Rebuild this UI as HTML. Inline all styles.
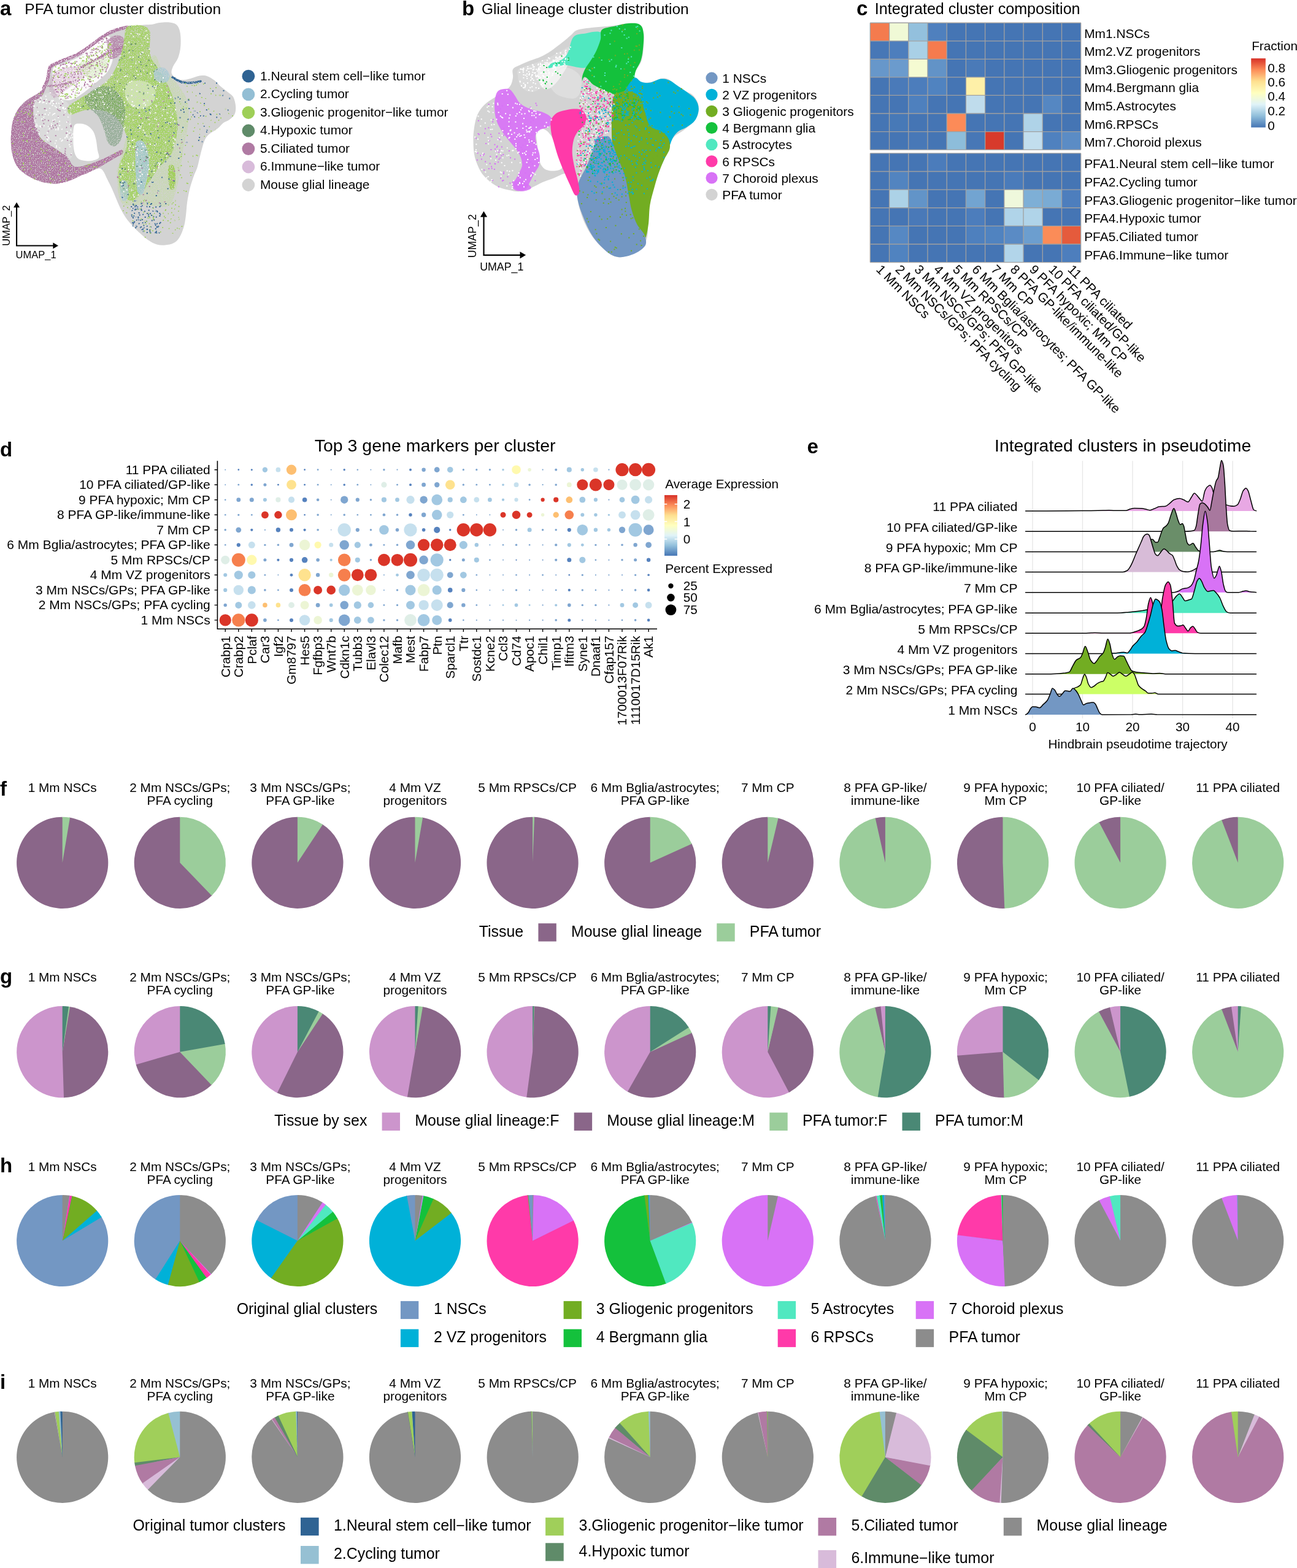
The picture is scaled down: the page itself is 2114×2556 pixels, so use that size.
<!DOCTYPE html>
<html><head><meta charset="utf-8"><title>Figure</title>
<style>
html,body{margin:0;padding:0;background:#fff;}
body{width:2114px;height:2556px;overflow:hidden;}
svg{display:block;}
text{font-family:"Liberation Sans", Arial, Helvetica, sans-serif;fill:#000;}
</style></head><body>
<svg width="2114" height="2556" viewBox="0 0 2114 2556">
<rect width="2114" height="2556" fill="#fff"/>
<text x="0.0" y="24.5" font-size="33" font-weight="bold">a</text>
<text x="40.3" y="23.0" font-size="24.6">PFA tumor cluster distribution</text>
<text x="753.0" y="24.5" font-size="33" font-weight="bold">b</text>
<text x="785.0" y="23.0" font-size="24.4">Glial lineage cluster distribution</text>
<circle cx="404.9" cy="124.2" r="10.4" fill="#2F6393"/>
<text x="424.0" y="130.6" font-size="20.85">1.Neural stem cell−like tumor</text>
<circle cx="404.9" cy="153.9" r="10.4" fill="#93BED4"/>
<text x="424.0" y="160.3" font-size="20.85">2.Cycling tumor</text>
<circle cx="404.9" cy="183.5" r="10.4" fill="#9ECF57"/>
<text x="424.0" y="189.9" font-size="20.85">3.Gliogenic progenitor−like tumor</text>
<circle cx="404.9" cy="213.0" r="10.4" fill="#5F8B69"/>
<text x="424.0" y="219.4" font-size="20.85">4.Hypoxic tumor</text>
<circle cx="404.9" cy="242.6" r="10.4" fill="#B07AA3"/>
<text x="424.0" y="249.0" font-size="20.85">5.Ciliated tumor</text>
<circle cx="404.9" cy="272.0" r="10.4" fill="#D8BBDA"/>
<text x="424.0" y="278.4" font-size="20.85">6.Immune−like tumor</text>
<circle cx="404.9" cy="301.5" r="10.4" fill="#D3D3D3"/>
<text x="424.0" y="307.9" font-size="20.85">Mouse glial lineage</text>
<circle cx="1160" cy="127.2" r="9.6" fill="#7397C3"/>
<text x="1177.3" y="134.9" font-size="20.85">1 NSCs</text>
<circle cx="1160" cy="154.4" r="9.6" fill="#00B1D8"/>
<text x="1177.3" y="162.1" font-size="20.85">2 VZ progenitors</text>
<circle cx="1160" cy="181.3" r="9.6" fill="#72AD22"/>
<text x="1177.3" y="189.0" font-size="20.85">3 Gliogenic progenitors</text>
<circle cx="1160" cy="208.5" r="9.6" fill="#14C13C"/>
<text x="1177.3" y="216.2" font-size="20.85">4 Bergmann glia</text>
<circle cx="1160" cy="235.7" r="9.6" fill="#50E8C0"/>
<text x="1177.3" y="243.4" font-size="20.85">5 Astrocytes</text>
<circle cx="1160" cy="262.9" r="9.6" fill="#FF3AA9"/>
<text x="1177.3" y="270.6" font-size="20.85">6 RPSCs</text>
<circle cx="1160" cy="290.0" r="9.6" fill="#D872F6"/>
<text x="1177.3" y="297.7" font-size="20.85">7 Choroid plexus</text>
<circle cx="1160" cy="317.3" r="9.6" fill="#D3D3D3"/>
<text x="1177.3" y="325.0" font-size="20.85">PFA tumor</text>
<path d="M260.2 36.9C264.8 36.4 271.7 35.9 276.3 36.4C280.9 37.0 285.0 37.6 287.9 40.4C290.7 43.1 292.5 47.1 293.6 53.0C294.7 59.0 294.9 69.1 294.3 76.1C293.7 83.0 292.2 89.1 290.2 94.5C288.1 99.9 283.8 104.1 282.1 108.3C280.4 112.5 278.8 116.5 279.8 119.8C280.8 123.1 284.6 126.1 287.9 127.9C291.1 129.6 295.5 130.2 299.4 130.2C303.2 130.2 306.3 129.0 310.9 127.9C315.5 126.7 322.4 123.8 327.0 123.3C331.6 122.7 334.7 123.1 338.5 124.4C342.4 125.8 346.6 128.6 350.0 131.3C353.5 134.0 355.8 137.5 359.2 140.5C362.7 143.6 367.3 146.9 370.8 149.7C374.2 152.6 377.7 154.0 380.0 157.8C382.2 161.6 383.7 168.0 384.1 172.8C384.5 177.6 384.1 182.8 382.3 186.6C380.4 190.4 376.1 193.5 373.1 195.8C370.0 198.1 366.9 198.1 363.8 200.4C360.8 202.7 358.5 206.5 354.6 209.6C350.8 212.7 344.3 215.8 340.8 218.8C337.4 221.9 335.8 224.2 333.9 228.0C332.0 231.9 330.8 236.5 329.3 241.9C327.8 247.2 326.0 254.9 324.7 260.3C323.4 265.7 322.8 269.5 321.2 274.1C319.7 278.7 317.4 282.5 315.5 287.9C313.6 293.3 311.5 299.4 309.7 306.3C308.0 313.2 306.3 321.7 305.1 329.4C304.0 337.0 303.8 345.5 302.8 352.4C301.9 359.3 301.1 365.1 299.4 370.8C297.6 376.6 295.1 382.7 292.5 386.9C289.8 391.2 287.1 394.0 283.2 396.1C279.4 398.3 274.0 399.2 269.4 399.6C264.8 400.0 260.2 399.8 255.6 398.5C251.0 397.1 246.4 394.6 241.8 391.5C237.2 388.5 232.2 383.9 228.0 380.0C223.8 376.2 220.3 372.7 216.5 368.5C212.6 364.3 208.4 359.7 205.0 354.7C201.5 349.7 198.4 344.0 195.7 338.6C193.1 333.2 191.1 327.8 188.8 322.5C186.5 317.1 184.2 311.3 181.9 306.3C179.6 301.3 177.3 297.1 175.0 292.5C172.7 287.9 170.4 281.7 168.1 278.7C165.8 275.7 164.7 274.5 161.2 274.6C157.7 274.6 152.0 277.6 147.4 279.2C142.8 280.7 138.2 281.9 133.6 283.8C129.0 285.6 124.4 288.2 119.7 290.2C115.1 292.3 110.5 294.4 105.9 296.0C101.3 297.5 97.1 299.0 92.1 299.4C87.1 299.8 81.4 299.2 76.0 298.3C70.6 297.3 65.2 295.8 59.9 293.7C54.5 291.6 48.7 288.9 43.8 285.6C38.8 282.4 33.6 278.7 29.9 274.1C26.3 269.5 23.9 264.1 21.9 258.0C19.9 251.8 18.5 244.5 18.0 237.3C17.4 230.0 17.8 221.5 18.4 214.2C19.1 206.9 20.0 199.6 21.9 193.5C23.8 187.4 26.9 182.0 29.9 177.4C33.0 172.8 36.8 168.9 40.3 165.9C43.8 162.8 47.0 161.3 50.7 159.0C54.3 156.7 58.9 154.4 62.2 152.0C65.4 149.7 67.9 147.8 70.2 145.1C72.5 142.5 74.5 139.0 76.0 135.9C77.5 132.9 78.6 130.6 79.4 126.7C80.3 122.9 80.3 116.4 81.1 112.9C81.8 109.4 81.4 107.8 84.1 106.0C86.7 104.2 91.5 103.4 96.7 101.8C101.9 100.3 109.0 99.0 115.1 96.8C121.3 94.6 127.4 91.8 133.6 88.7C139.7 85.7 146.6 82.0 152.0 78.4C157.4 74.7 162.0 70.7 165.8 66.8C169.6 63.0 171.2 58.6 175.0 55.3C178.9 52.1 184.2 49.2 188.8 47.3C193.4 45.4 197.7 44.7 202.6 43.8C207.6 42.9 213.4 42.6 218.8 42.0C224.1 41.4 229.9 40.7 234.9 40.4C239.9 40.0 244.5 40.2 248.7 39.7C252.9 39.1 255.6 37.4 260.2 36.9Z" fill="#D3D3D3"/>
<path d="M55.3 164.7C57.8 160.7 64.5 157.8 69.1 155.5C73.7 153.2 78.3 150.3 82.9 150.9C87.5 151.5 92.1 156.1 96.7 159.0C101.3 161.8 107.5 164.3 110.5 168.2C113.6 172.0 114.2 176.6 115.1 182.0C116.1 187.4 115.7 195.0 116.3 200.4C116.9 205.8 118.2 206.2 118.6 214.2C119.0 222.3 119.4 241.3 118.6 248.8C117.8 256.3 116.1 258.2 114.0 259.1C111.9 260.1 109.2 256.8 105.9 254.5C102.7 252.2 98.6 248.4 94.4 245.3C90.2 242.2 85.0 239.2 80.6 236.1C76.2 233.0 71.5 230.7 67.9 226.9C64.4 223.1 61.6 218.3 59.4 213.1C57.2 207.9 55.7 201.4 54.8 195.8C53.9 190.2 53.8 184.9 53.9 179.7C54.0 174.5 52.7 168.7 55.3 164.7Z" fill="#FFFFFF" fill-opacity="0.18"/>
<path d="M87.5 109.4C90.1 105.3 94.8 106.7 101.3 104.2C107.8 101.6 119.6 97.6 126.7 94.0C133.8 90.4 138.2 86.6 143.9 82.5C149.7 78.4 156.2 73.4 161.2 69.6C166.2 65.8 170.4 60.3 173.9 59.5C177.3 58.6 180.2 59.5 181.9 64.5C183.6 69.6 184.2 83.3 184.2 89.9C184.2 96.4 183.5 99.1 181.9 103.7C180.4 108.3 177.7 113.7 175.0 117.5C172.3 121.3 169.6 123.3 165.8 126.7C162.0 130.2 156.6 134.4 152.0 138.2C147.4 142.1 142.8 146.3 138.2 149.7C133.6 153.2 129.0 156.7 124.4 159.0C119.7 161.3 115.1 163.6 110.5 163.6C105.9 163.6 100.6 162.0 96.7 159.0C92.9 155.9 89.3 150.1 87.5 145.1C85.7 140.2 85.7 135.0 85.7 129.0C85.7 123.1 84.9 113.6 87.5 109.4Z" fill="#FFFFFF" fill-opacity="0.9"/>
<path d="M120.9 205.0C122.9 200.6 127.6 201.6 131.3 201.6C134.9 201.6 139.3 202.9 142.8 205.0C146.2 207.1 149.7 210.4 152.0 214.2C154.3 218.1 155.4 223.1 156.6 228.0C157.7 233.0 158.1 239.4 158.9 244.2C159.7 249.0 162.3 253.9 161.2 256.8C160.0 259.7 155.8 260.6 152.0 261.4C148.1 262.3 142.4 262.7 138.2 262.1C133.9 261.5 129.5 260.6 126.7 258.0C123.8 255.4 122.1 251.5 120.9 246.5C119.7 241.5 119.3 235.0 119.3 228.0C119.3 221.1 118.9 209.4 120.9 205.0Z" fill="#FFFFFF"/>
<defs><filter id="speck" x="0" y="0" width="2114" height="2556" filterUnits="userSpaceOnUse"><feTurbulence type="fractalNoise" baseFrequency="0.7" numOctaves="1" seed="3" result="n"/><feColorMatrix in="n" type="matrix" values="0 0 0 0 0 0 0 0 0 0 0 0 0 0 0 -14 0 0 0 9.0" result="m"/><feComposite in="SourceGraphic" in2="m" operator="in"/></filter></defs>
<g filter="url(#speck)">
<path d="M82.9 126.7C85.6 120.6 90.6 116.0 96.7 112.9C102.9 109.8 112.8 109.4 119.7 108.3C126.7 107.1 133.2 105.6 138.2 106.0C143.2 106.4 149.7 107.1 149.7 110.6C149.7 114.1 143.2 122.1 138.2 126.7C133.2 131.3 125.5 134.4 119.7 138.2C114.0 142.1 108.6 146.3 103.6 149.7C98.6 153.2 93.6 159.0 89.8 159.0C86.0 159.0 81.8 155.1 80.6 149.7C79.4 144.4 80.2 132.9 82.9 126.7Z" fill="#C9A0C0" fill-opacity="0.45"/>
<path d="M129.0 103.7C131.3 99.5 145.1 99.5 152.0 96.8C158.9 94.1 165.8 88.0 170.4 87.6C175.0 87.2 178.9 90.6 179.6 94.5C180.4 98.3 178.1 106.0 175.0 110.6C171.9 115.2 165.8 119.0 161.2 122.1C156.6 125.2 151.2 129.0 147.4 129.0C143.5 129.0 141.2 126.3 138.2 122.1C135.1 117.9 126.7 107.9 129.0 103.7Z" fill="#C8E0A8" fill-opacity="0.5"/>
<path d="M176.2 64.5C178.9 61.1 186.7 57.6 191.1 57.6C195.5 57.6 201.1 60.3 202.6 64.5C204.2 68.8 202.6 78.0 200.3 83.0C198.0 88.0 192.7 92.6 188.8 94.5C185.0 96.4 179.6 97.2 177.3 94.5C175.0 91.8 175.2 83.3 175.0 78.4C174.8 73.4 173.5 68.0 176.2 64.5Z" fill="#B07AA3" fill-opacity="0.75"/>
<path d="M76.0 138.2C76.2 136.5 72.5 142.8 70.2 145.1C67.9 147.4 65.4 149.7 62.2 152.0C58.9 154.4 54.3 156.7 50.7 159.0C47.0 161.3 43.8 162.8 40.3 165.9C36.8 168.9 33.0 172.8 29.9 177.4C26.9 182.0 23.8 187.4 21.9 193.5C20.0 199.6 19.1 206.9 18.4 214.2C17.8 221.5 17.4 230.0 18.0 237.3C18.5 244.5 19.9 251.8 21.9 258.0C23.9 264.1 26.3 269.5 29.9 274.1C33.6 278.7 38.8 282.4 43.8 285.6C48.7 288.9 54.5 291.6 59.9 293.7C65.2 295.8 70.6 297.3 76.0 298.3C81.4 299.2 87.1 299.6 92.1 299.4C97.1 299.2 101.3 298.4 105.9 297.1C110.5 295.9 115.1 294.0 119.7 292.1C124.4 290.1 129.0 287.6 133.6 285.6C138.2 283.6 142.8 282.0 147.4 279.9C152.0 277.7 156.6 275.4 161.2 272.9C165.8 270.5 170.4 267.6 175.0 264.9C179.6 262.2 184.6 259.3 188.8 256.8C193.1 254.3 198.8 252.0 200.3 249.9C201.9 247.8 200.7 244.0 198.0 244.2C195.4 244.4 188.8 248.8 184.2 251.1C179.6 253.4 175.0 255.9 170.4 258.0C165.8 260.1 161.2 262.0 156.6 263.7C152.0 265.5 147.4 267.0 142.8 268.3C138.2 269.7 132.8 271.4 129.0 271.8C125.1 272.2 122.2 272.2 119.7 270.6C117.3 269.1 115.9 265.3 114.0 262.6C112.1 259.9 111.5 257.4 108.2 254.5C105.0 251.6 99.0 248.4 94.4 245.3C89.8 242.2 84.8 239.0 80.6 236.1C76.4 233.2 72.5 231.7 69.1 228.0C65.7 224.4 62.6 219.6 60.3 214.2C58.0 208.9 56.3 201.9 55.3 195.8C54.3 189.7 54.0 182.6 54.3 177.4C54.7 172.2 55.1 168.4 57.6 164.7C60.0 161.1 66.0 159.9 69.1 155.5C72.2 151.1 75.8 140.0 76.0 138.2Z" fill="#B07AA3"/>
<path d="M71.4 142.8C72.3 140.9 75.6 136.3 77.1 131.3C78.7 126.3 79.4 116.9 80.6 112.9C81.8 108.9 80.6 109.4 84.1 107.1C87.5 104.8 94.2 102.2 101.3 99.1C108.4 96.0 119.6 92.4 126.7 88.7C133.8 85.1 138.2 81.2 143.9 77.2C149.7 73.2 156.0 68.2 161.2 64.5C166.4 60.9 170.0 58.0 175.0 55.3C180.0 52.6 185.8 50.3 191.1 48.4C196.5 46.6 204.6 45.0 207.3 44.3" fill="none" stroke="#B07AA3" stroke-width="5.5" stroke-linecap="round" stroke-linejoin="round"/>
<path d="M132.4 109.4C136.4 107.3 148.9 100.8 156.6 96.8C164.3 92.8 171.2 88.7 178.5 85.3C185.8 81.8 196.7 77.6 200.3 76.1" fill="none" stroke="#B07AA3" stroke-width="3.5" stroke-linecap="round" stroke-linejoin="round"/>
<path d="M78.3 140.5C81.4 140.2 90.6 139.4 96.7 138.2C102.9 137.1 112.1 134.4 115.1 133.6" fill="none" stroke="#B07AA3" stroke-width="3" stroke-linecap="round" stroke-linejoin="round" stroke-opacity="0.8"/>
<path d="M244.1 99.1C255.6 74.5 257.1 106.4 264.8 112.9C272.5 119.4 283.2 129.0 290.2 138.2C297.1 147.4 303.6 157.0 306.3 168.2C309.0 179.3 307.4 193.5 306.3 205.0C305.1 216.5 301.3 226.1 299.4 237.3C297.4 248.4 296.7 260.3 294.8 271.8C292.8 283.3 290.9 296.0 287.9 306.3C284.8 316.7 282.1 329.0 276.3 334.0C270.6 339.0 261.8 336.3 253.3 336.3C244.9 336.3 234.1 334.4 225.7 334.0C217.2 333.6 208.0 336.7 202.6 334.0C197.3 331.3 195.4 326.3 193.4 317.9C191.5 309.4 190.8 292.9 191.1 283.3C191.5 273.7 186.9 291.0 195.7 260.3C204.6 229.6 232.6 123.6 244.1 99.1Z" fill="#BCDC92" fill-opacity="0.4"/>
<path d="M207.3 43.8C211.9 40.4 224.1 40.4 230.3 41.5C236.4 42.7 241.8 45.0 244.1 50.7C246.4 56.5 243.7 68.8 244.1 76.1C244.5 83.3 244.5 89.1 246.4 94.5C248.3 99.9 252.2 102.9 255.6 108.3C259.1 113.7 263.3 119.8 267.1 126.7C271.0 133.6 275.6 142.1 278.6 149.7C281.7 157.4 283.8 165.1 285.5 172.8C287.3 180.5 288.4 188.9 289.0 195.8C289.6 202.7 289.8 207.3 289.0 214.2C288.2 221.1 286.5 230.3 284.4 237.3C282.3 244.2 280.4 249.9 276.3 255.7C272.3 261.4 265.6 265.3 260.2 271.8C254.8 278.3 249.1 287.5 244.1 294.8C239.1 302.1 235.3 310.2 230.3 315.5C225.3 320.9 219.2 326.7 214.2 327.1C209.2 327.4 203.8 323.2 200.3 317.9C196.9 312.5 194.4 302.9 193.4 294.8C192.5 286.8 193.1 276.8 194.6 269.5C196.1 262.2 200.5 257.2 202.6 251.1C204.8 244.9 207.3 239.2 207.3 232.6C207.3 226.1 205.7 218.8 202.6 211.9C199.6 205.0 195.0 196.6 188.8 191.2C182.7 185.8 174.2 181.6 165.8 179.7C157.4 177.8 146.6 178.5 138.2 179.7C129.7 180.8 119.7 187.4 115.1 186.6C110.5 185.8 108.2 179.3 110.5 175.1C112.8 170.9 122.0 165.9 129.0 161.3C135.9 156.7 144.3 152.4 152.0 147.4C159.7 142.5 168.9 137.5 175.0 131.3C181.2 125.2 185.0 118.3 188.8 110.6C192.7 102.9 195.7 93.3 198.0 85.3C200.3 77.2 201.1 69.1 202.6 62.2C204.2 55.3 202.6 47.3 207.3 43.8Z" fill="#A3D262" fill-opacity="0.88"/>
<path d="M205.0 138.2C207.6 133.6 214.5 131.7 221.1 131.3C227.6 130.9 238.7 132.9 244.1 135.9C249.5 139.0 252.5 144.4 253.3 149.7C254.1 155.1 252.5 163.6 248.7 168.2C244.9 172.8 236.0 176.6 230.3 177.4C224.5 178.1 218.4 175.8 214.2 172.8C209.9 169.7 206.5 164.7 205.0 159.0C203.4 153.2 202.3 142.8 205.0 138.2Z" fill="#FFFFFF" fill-opacity="0.4"/>
<path d="M147.4 149.7C152.0 145.9 159.7 141.3 165.8 140.5C171.9 139.8 178.9 142.1 184.2 145.1C189.6 148.2 194.8 153.2 198.0 159.0C201.3 164.7 203.2 172.0 203.8 179.7C204.4 187.4 202.6 197.0 201.5 205.0C200.3 213.1 199.4 222.5 196.9 228.0C194.4 233.6 190.0 237.6 186.5 238.4C183.1 239.2 178.9 236.7 176.2 232.6C173.5 228.6 172.9 221.1 170.4 214.2C167.9 207.3 165.0 197.3 161.2 191.2C157.4 185.1 151.2 182.0 147.4 177.4C143.5 172.8 138.2 168.2 138.2 163.6C138.2 159.0 142.8 153.6 147.4 149.7Z" fill="#6F9672" fill-opacity="0.55"/>
<path d="M222.2 232.6C224.2 227.7 229.5 228.0 232.6 230.3C235.7 232.6 238.9 239.6 240.6 246.5C242.4 253.4 243.3 263.4 242.9 271.8C242.6 280.2 240.1 289.8 238.3 297.1C236.6 304.4 234.9 312.9 232.6 315.5C230.3 318.2 226.4 317.9 224.5 313.2C222.7 308.6 222.2 296.7 221.5 287.9C220.9 279.1 220.5 269.5 220.6 260.3C220.7 251.1 220.2 237.6 222.2 232.6Z" fill="#A6C9D8" fill-opacity="0.85"/>
<path d="M253.3 112.9C256.0 110.6 263.3 109.1 267.1 110.6C271.0 112.1 275.6 118.3 276.3 122.1C277.1 126.0 274.8 131.7 271.7 133.6C268.7 135.5 261.4 135.2 257.9 133.6C254.5 132.1 251.8 127.9 251.0 124.4C250.2 121.0 250.6 115.2 253.3 112.9Z" fill="#A9CAD6" fill-opacity="0.85"/>
<path d="M198.0 294.8C200.0 292.9 205.3 293.7 207.3 297.1C209.2 300.6 209.9 310.6 209.6 315.5C209.2 320.5 206.9 325.5 205.0 327.1C203.0 328.6 199.6 327.8 198.0 324.8C196.5 321.7 195.7 313.6 195.7 308.6C195.7 303.7 196.1 296.7 198.0 294.8Z" fill="#A9CAD6" fill-opacity="0.75"/>
<path d="M275.2 270.6C276.7 267.8 281.4 267.8 283.2 270.6C285.1 273.5 285.8 282.0 286.0 287.9C286.2 293.9 285.8 303.1 284.4 306.3C283.0 309.6 279.2 310.6 277.5 307.5C275.8 304.4 274.4 294.1 274.0 287.9C273.7 281.8 273.7 273.5 275.2 270.6Z" fill="#A0CF5A" fill-opacity="0.95"/>
<path d="M280.9 125.6C282.5 126.5 286.7 129.8 290.2 131.3C293.6 132.9 297.8 134.2 301.7 134.8C305.5 135.4 309.0 135.2 313.2 134.8C317.4 134.4 324.7 132.9 327.0 132.5" fill="none" stroke="#2F6393" stroke-width="3.5" stroke-linecap="round" stroke-linejoin="round"/>
<path d="M228.8 336h2v2h-2zm15.8 -4h2v2h-2zm-5.5 14.9h2v2h-2zm-23.1 7.2h2v2h-2zm-1 -3.8h2v2h-2zm1.5 -17.3h2v2h-2zm17.2 37.3h2v2h-2zm-14.6 -30.6h2v2h-2zm24.4 36.7h2v2h-2zm-2.4 -27.9h2v2h-2zm19.3 -17.8h2v2h-2zm-5.7 12.3h2v2h-2zm-34.6 -8.7h2v2h-2zm8 35.4h2v2h-2zm-6.2 -11.9h2v2h-2zm22.2 -10.6h2v2h-2zm-4.4 -15.7h2v2h-2zm-23.7 7.3h2v2h-2zm30.1 11.2h2v2h-2zm-17.7 8h2v2h-2zm6.7 -14.4h2v2h-2zm16.5 20.2h2v2h-2zm-26.6 -6.3h2v2h-2zm13.6 15.2h2v2h-2zm9.8 -29.7h2v2h-2zm12.2 -8.7h2v2h-2zm-27.2 32.4h2v2h-2zm-12.9 -13.6h2v2h-2zm-5.4 9.1h2v2h-2zm35 -4.8h2v2h-2zm5.4 -13.1h2v2h-2zm-8.7 14.2h2v2h-2zm-5.6 -7h2v2h-2zm12.6 24.7h2v2h-2zm-17.7 -14.2h2v2h-2zm-20 1.9h2v2h-2zm28.4 14.8h2v2h-2zm8.4 -35.9h2v2h-2zm-21.1 19.4h2v2h-2zm-17.5 -10.4h2v2h-2zm7 -17.5h2v2h-2zm-5.3 33h2v2h-2zm3.4 -26.4h2v2h-2zm12.7 31.6h2v2h-2zm-15 -21.4h2v2h-2zm22.6 22h2v2h-2zm13.1 -1h2v2h-2zm-26.2 -22.7h2v2h-2zm3.9 23.8h2v2h-2zm29 -37.2h2v2h-2zm-37.8 4.1h2v2h-2zm2.7 12.8h2v2h-2zm17.3 -11.2h2v2h-2zm-28.3 7.9h2v2h-2zm17.6 7.5h2v2h-2zm28.3 6.2h2v2h-2zm-21.2 -3.6h2v2h-2zm7.8 -28.6h2v2h-2zm10.8 36.8h2v2h-2zm-1.2 0.9h2v2h-2zm-23.4 -20.2h2v2h-2zm-13.9 11.9h2v2h-2zm-2 -28.7h2v2h-2zm7.1 4.8h2v2h-2zm6.3 -5.6h2v2h-2zm-16.4 5h2v2h-2zm4.9 10.8h2v2h-2zm24.8 -10.9h2v2h-2zm-17.5 10.1h2v2h-2zm5.4 -11.4h2v2h-2zm23.4 44.1h2v2h-2zm-18.5 -25.8h2v2h-2zm-18.4 -19.4h2v2h-2zm12.4 8.3h2v2h-2zm23.5 -5.3h2v2h-2zm-14.5 -0.7h2v2h-2zm0.7 -6.1h2v2h-2zm-0.7 48.2h2v2h-2zm16.2 -14.3h2v2h-2zm-29.1 -16.7h2v2h-2zm-4.6 20.6h2v2h-2zm17.7 0.3h2v2h-2zm-9.8 -28.1h2v2h-2zm23.3 38.6h2v2h-2zm2 -9.1h2v2h-2zm-1.7 -3.3h2v2h-2zm-28.6 -11.3h2v2h-2zm6.3 -24.8h2v2h-2zm-15.9 12.7h2v2h-2zm11.2 21h2v2h-2zm33.7 -12.5h2v2h-2zm-0.9 27.4h2v2h-2zm0.8 -31.6h2v2h-2zm-35.5 -6.9h2v2h-2zm-1.1 -1.2h2v2h-2zm20.6 35.3h2v2h-2zm10.5 -21.3h2v2h-2zm-9.1 16.2h2v2h-2zm-27.4 -7.1h2v2h-2zm39.9 6.2h2v2h-2zm-7.8 -15.4h2v2h-2zm-27.6 15.7h2v2h-2zm7.4 0.6h2v2h-2zm31 -20.5h2v2h-2zm-27.6 27.9h2v2h-2zm15.6 -39.3h2v2h-2zm-28.9 -1h2v2h-2zm37.6 33.2h2v2h-2zm-36.7 1h2v2h-2zm40.4 -8.5h2v2h-2z" fill="#2F6393"/>
<path d="M316.1 189.5h2v2h-2zm-21.2 -55.4h2v2h-2zm29.3 88.9h2v2h-2zm38 -68.5h2v2h-2zm-55.6 8.5h2v2h-2zm-1.1 30.4h2v2h-2zm1.8 -17.4h2v2h-2zm-12.4 50.9h2v2h-2zm21.6 -46.8h2v2h-2zm6.4 47.6h2v2h-2zm7.9 -40h2v2h-2zm2.1 -53.1h2v2h-2zm-8.1 17h2v2h-2zm-42.2 63.8h2v2h-2zm16.3 -33.7h2v2h-2zm53.5 8.6h2v2h-2zm-38.6 -4h2v2h-2zm22.2 27.6h2v2h-2zm-43.5 -23.2h2v2h-2zm13.8 -29.4h2v2h-2zm50.6 23.9h2v2h-2zm-20.3 26.2h2v2h-2zm33.9 -32.8h2v2h-2zm-29 6.4h2v2h-2zm-9.7 19.4h2v2h-2zm-5.8 -16.5h2v2h-2zm2.5 42.3h2v2h-2zm44.9 -70.7h2v2h-2zm-9.9 -12.7h2v2h-2zm-69.5 31.6h2v2h-2zm-4.7 -20.8h2v2h-2zm0 44.4h2v2h-2zm7.9 4.8h2v2h-2zm48.9 -59.4h2v2h-2zm-42.6 83.9h2v2h-2zm17.3 -48.2h2v2h-2zm-22.9 -5.8h2v2h-2zm34.2 -9.5h2v2h-2zm-30.9 -2.2h2v2h-2zm50.9 -31h2v2h-2zm-16.3 43.7h2v2h-2zm-51.8 -11.3h2v2h-2zm58.6 18.7h2v2h-2zm-54.1 49h2v2h-2zm3.9 -74.6h2v2h-2z" fill="#2F6393"/>
<path d="M194.7 282.9h2v2h-2zm44.1 31.4h2v2h-2zm45.6 -154.9h2v2h-2zm-77.1 156.7h2v2h-2zm48.5 -51.9h2v2h-2zm13.6 -65.2h2v2h-2zm-70.9 121.7h2v2h-2zm64.7 -32.5h2v2h-2zm-63.4 13h2v2h-2zm-2 1.5h2v2h-2zm44.6 -124.2h2v2h-2zm11.4 139.4h2v2h-2zm-3 -163.3h2v2h-2zm-24.7 15.8h2v2h-2zm51.5 -3.5h2v2h-2zm-29.9 -26.6h2v2h-2zm26.8 88.5h2v2h-2zm-62.6 -18.1h2v2h-2zm72.5 -10.1h2v2h-2zm-37.3 95.4h2v2h-2zm-11.7 -77.7h2v2h-2zm33.9 112.8h2v2h-2zm-39.7 -35.6h2v2h-2zm41.9 -46.6h2v2h-2zm-34.8 -68.4h2v2h-2zm-38.4 93.3h2v2h-2zm1.6 23.8h2v2h-2zm90.5 -40.5h2v2h-2zm-66.5 -50h2v2h-2zm-3.5 119.1h2v2h-2zm-2.1 0.9h2v2h-2zm7.5 -144.4h2v2h-2zm19 34.6h2v2h-2zm-31.5 0.5h2v2h-2zm44.3 5.8h2v2h-2zm19 30.4h2v2h-2zm-4 52.6h2v2h-2zm-37.6 -131.2h2v2h-2zm38.5 75.3h2v2h-2zm-78.3 45.5h2v2h-2zm97.6 -49.3h2v2h-2zm-18.2 43.8h2v2h-2zm-68.4 -68.4h2v2h-2zm42 73.8h2v2h-2zm34.6 -2h2v2h-2zm-25.4 15.8h2v2h-2zm11.4 -47.4h2v2h-2zm-66.6 33.8h2v2h-2zm52.2 -49.3h2v2h-2zm7.8 12.5h2v2h-2z" fill="#2F6393"/>
<path d="M134.2 114.2h2v2h-2zm23.1 -29.5h2v2h-2zm-0.8 -4.9h2v2h-2zm-23.2 18.5h2v2h-2zm-1.4 31.3h2v2h-2zm28.4 -6.9h2v2h-2zm-2.4 -32.5h2v2h-2zm-7 40.3h2v2h-2zm0.4 -41.7h2v2h-2zm-15.7 18h2v2h-2zm37.1 -27.6h2v2h-2zm-67.4 77.7h2v2h-2zm0.1 -37.9h2v2h-2zm-6.8 -6h2v2h-2zm80 -40.7h2v2h-2zm-13.1 39.1h2v2h-2zm-58 40.5h2v2h-2zm8.3 -6h2v2h-2zm51.6 -74.9h2v2h-2zm6.1 17.6h2v2h-2zm-52.1 10.8h2v2h-2zm-1.2 3.6h2v2h-2zm-25.5 42.4h2v2h-2zm18.1 10.5h2v2h-2zm8.7 2.1h2v2h-2zm35.3 -52.6h2v2h-2zm2 20.2h2v2h-2zm17.2 -53.9h2v2h-2zm-44.8 22.5h2v2h-2zm-17.2 41.2h2v2h-2zm66.9 -49.8h2v2h-2zm-31.6 4.2h2v2h-2zm-9.7 9.7h2v2h-2zm-34.4 53.3h2v2h-2zm53.4 -51.4h2v2h-2zm-33.1 11.6h2v2h-2zm54.5 -41.4h2v2h-2zm-45.7 52.4h2v2h-2zm35.4 -43h2v2h-2zm-45.6 23.9h2v2h-2zm46.6 -44.2h2v2h-2zm-82.9 71.6h2v2h-2zm85.1 -24.6h2v2h-2zm-49.6 47.2h2v2h-2zm57.2 -70.6h2v2h-2zm-44.4 45.2h2v2h-2zm12.4 8.6h2v2h-2zm-18.8 -22.2h2v2h-2zm-41.1 24h2v2h-2zm19 14.3h2v2h-2zm40.7 -64.1h2v2h-2zm-0.9 41.1h2v2h-2zm-11 -12.1h2v2h-2zm-22 -12.7h2v2h-2zm57.4 1.5h2v2h-2zm-38 20.8h2v2h-2zm-15.8 -26.4h2v2h-2zm33.9 -23.2h2v2h-2zm28.4 11.8h2v2h-2zm-14.8 -8.4h2v2h-2zm-59 55.1h2v2h-2zm7.2 20h2v2h-2zm-7 -55.7h2v2h-2zm-1 58h2v2h-2zm70.8 -67.2h2v2h-2zm-73.6 63.2h2v2h-2zm47.3 -58h2v2h-2zm28.6 -26.5h2v2h-2zm0.9 8.7h2v2h-2zm-59.9 63.9h2v2h-2zm45.9 -40.5h2v2h-2zm-76.2 4.3h2v2h-2zm31.9 46.4h2v2h-2zm51.7 -92.6h2v2h-2zm-47.9 81.4h2v2h-2zm50.1 -57.8h2v2h-2zm-64.8 47.9h2v2h-2zm-2.8 -25.2h2v2h-2zm19.3 1.9h2v2h-2zm49.1 -32.3h2v2h-2zm-31.6 15.1h2v2h-2zm-40.4 44.2h2v2h-2zm-16.1 -20.8h2v2h-2zm6.2 -5.6h2v2h-2zm60.4 -5.4h2v2h-2zm-46.9 -3.1h2v2h-2zm38.1 26.7h2v2h-2zm21.7 -39.5h2v2h-2zm-27 8.2h2v2h-2zm16.9 -18.1h2v2h-2zm-57.6 71.3h2v2h-2zm41.9 -58.1h2v2h-2zm-10.2 51.3h2v2h-2zm44.8 -46.5h2v2h-2zm-6.3 8h2v2h-2zm-59.7 34.2h2v2h-2zm67.6 -69.9h2v2h-2zm-34.5 53.5h2v2h-2zm-33.6 -2.1h2v2h-2zm39.1 -41.2h2v2h-2zm2.6 -2h2v2h-2zm11.5 37.8h2v2h-2zm-39.4 0.2h2v2h-2zm-22.8 15.2h2v2h-2zm14.2 26.8h2v2h-2zm0.5 -40.3h2v2h-2zm4.4 -15.6h2v2h-2zm36.5 -22.1h2v2h-2zm-30 64.2h2v2h-2zm-1.7 6.5h2v2h-2zm-38.6 -34.5h2v2h-2zm7.3 7.3h2v2h-2zm27.8 -12.2h2v2h-2zm-25.8 -1.5h2v2h-2zm80.5 -10.6h2v2h-2zm-10 -23.7h2v2h-2zm-3.8 6.4h2v2h-2zm-37.6 65h2v2h-2zm41.9 -69.1h2v2h-2zm-30.7 20.9h2v2h-2zm-47 18.6h2v2h-2zm78.6 -46.3h2v2h-2zm-23.5 45h2v2h-2zm2.7 -25.4h2v2h-2zm-20.4 28.8h2v2h-2zm0.5 8h2v2h-2zm2.1 -23h2v2h-2zm-41.7 18.8h2v2h-2zm47.3 -25.1h2v2h-2zm44.1 -25.1h2v2h-2zm-3.4 3h2v2h-2zm-15.8 -0.7h2v2h-2zm13.8 12.1h2v2h-2zm-7.9 -13.7h2v2h-2zm-30.6 18.3h2v2h-2zm-33.9 64.2h2v2h-2zm0.7 -15.7h2v2h-2zm-5.3 -26.5h2v2h-2zm51.4 -17.8h2v2h-2zm23.3 20.4h2v2h-2zm-24 -16.8h2v2h-2zm16.6 -13.5h2v2h-2zm-43.1 52.1h2v2h-2zm45.3 -53.2h2v2h-2zm-23.1 42.7h2v2h-2zm3 -24.1h2v2h-2zm-38.6 15.7h2v2h-2zm39.4 -11.3h2v2h-2zm-48.3 48.1h2v2h-2zm-3.8 -31.1h2v2h-2zm-8.3 0.7h2v2h-2zm54.3 -30.7h2v2h-2zm8.2 9.8h2v2h-2zm-39.1 47.8h2v2h-2zm-20.2 -38.7h2v2h-2zm1.4 25.7h2v2h-2zm-4.5 -23.7h2v2h-2zm91.5 -42.5h2v2h-2zm-73.1 48.5h2v2h-2zm30.3 3.5h2v2h-2zm30.2 -48.6h2v2h-2zm-6.7 30.2h2v2h-2zm-0.3 -1.3h2v2h-2zm-40.1 30.9h2v2h-2zm37.1 -50.3h2v2h-2zm-15.6 17.7h2v2h-2zm23.2 9h2v2h-2zm-51.6 12.4h2v2h-2zm69 -44.2h2v2h-2zm-8.4 -21h2v2h-2zm-13.2 32.4h2v2h-2zm13.2 0.2h2v2h-2zm-63.2 60.2h2v2h-2zm38.6 -22.3h2v2h-2zm-15.9 15.3h2v2h-2zm-3.1 -12h2v2h-2zm13.1 -43.4h2v2h-2zm-35.3 32.8h2v2h-2zm-10.4 31.9h2v2h-2zm57.7 -30.7h2v2h-2z" fill="#9ECF57"/>
<path d="M153.4 135.2h2v2h-2zm-62.3 -15.3h2v2h-2zm29.4 23.7h2v2h-2zm-29.3 5.2h2v2h-2zm55.7 -60.4h2v2h-2zm12.4 -8.6h2v2h-2zm-43.2 22.8h2v2h-2zm-3.6 30.4h2v2h-2zm15.2 5.9h2v2h-2zm-8.9 -7.1h2v2h-2zm50.8 -63.9h2v2h-2zm-4.1 8.3h2v2h-2zm-32.4 65.2h2v2h-2zm-30.2 -31.4h2v2h-2zm16 35.1h2v2h-2zm-8.6 11.6h2v2h-2zm43.3 -46.4h2v2h-2zm-58.1 14.4h2v2h-2zm-2.9 15.8h2v2h-2zm54 -45h2v2h-2zm-22.4 4h2v2h-2zm48.2 -32.1h2v2h-2zm-0.2 -6.3h2v2h-2zm1.3 49.5h2v2h-2zm-51.5 39.9h2v2h-2zm-14.3 -44h2v2h-2zm29.4 30.5h2v2h-2zm21.8 -11.3h2v2h-2zm-58.9 20.5h2v2h-2zm49.9 -10.5h2v2h-2zm-48.5 -31.6h2v2h-2zm59.5 14.7h2v2h-2zm-63.8 -12.2h2v2h-2zm74.8 -23.4h2v2h-2zm-15 20.5h2v2h-2zm-52.9 21.2h2v2h-2zm20 15.9h2v2h-2zm29 -30.2h2v2h-2zm-6 -3.9h2v2h-2zm-48.4 14.6h2v2h-2zm26 14.3h2v2h-2zm49.6 -32.4h2v2h-2zm-33 33.2h2v2h-2zm6.7 -30.7h2v2h-2zm-32.4 18.2h2v2h-2zm31.2 -39.4h2v2h-2zm-20.3 21.4h2v2h-2zm19.5 -4.8h2v2h-2zm-43.2 25.5h2v2h-2zm58.7 -27.7h2v2h-2zm-73 16.1h2v2h-2zm12.1 24.9h2v2h-2zm-5.9 -21.6h2v2h-2zm43.4 14.8h2v2h-2zm-2.9 -8.1h2v2h-2zm31.3 -12.2h2v2h-2zm-61 16.9h2v2h-2zm17.9 8.2h2v2h-2zm-11.6 -37.8h2v2h-2zm14.4 31.1h2v2h-2zm-19.3 4.5h2v2h-2zm-0.6 6.2h2v2h-2zm-8.8 -2.6h2v2h-2zm67.1 -14.8h2v2h-2zm-33.6 -7.5h2v2h-2zm-24 41.8h2v2h-2zm12.6 -33.8h2v2h-2zm47.3 -29.6h2v2h-2zm1.7 -9.1h2v2h-2zm-54.1 22.1h2v2h-2zm12.5 16.4h2v2h-2zm22.7 -28.6h2v2h-2zm-59.3 48.5h2v2h-2zm8.2 0.3h2v2h-2zm50.8 -60.5h2v2h-2zm-41.6 54.8h2v2h-2zm-6.5 11.9h2v2h-2zm43.4 -11.4h2v2h-2zm-40.5 -9.2h2v2h-2zm32.9 5.1h2v2h-2zm-9.1 14.7h2v2h-2zm11.5 -64.4h2v2h-2zm-6.3 24.3h2v2h-2zm-2.3 6.7h2v2h-2zm-9.2 -14.9h2v2h-2zm57.7 -35.8h2v2h-2zm-31.8 58.4h2v2h-2zm-60 -2.8h2v2h-2zm47.5 -13h2v2h-2zm38.1 -46.9h2v2h-2zm-17.7 61.6h2v2h-2zm-37.4 24.6h2v2h-2zm2.8 -40.3h2v2h-2zm15.7 30.8h2v2h-2zm-31.1 -34.9h2v2h-2zm20.9 12.3h2v2h-2zm39.8 -27.1h2v2h-2zm0.1 11.5h2v2h-2zm-52 19h2v2h-2zm33 20.6h2v2h-2zm-58.6 -6.4h2v2h-2zm83.4 -18.5h2v2h-2zm-26.6 8.5h2v2h-2zm7.9 -3.2h2v2h-2zm-1.5 -39.9h2v2h-2zm-1.4 25.5h2v2h-2zm9.4 -37.1h2v2h-2zm-10.5 27.9h2v2h-2zm-9.2 -11.6h2v2h-2zm-25.7 17.1h2v2h-2zm1.7 0.9h2v2h-2zm-26.1 14.2h2v2h-2zm74.5 0.9h2v2h-2zm10.7 -13.5h2v2h-2zm-27 -24.3h2v2h-2zm-63.1 49h2v2h-2zm8.3 19.4h2v2h-2zm62.2 -65.3h2v2h-2zm1.4 -5.7h2v2h-2zm-67.4 61h2v2h-2zm57 -6.7h2v2h-2zm-36.9 26.5h2v2h-2zm-23.6 -32.6h2v2h-2zm79.1 -59.4h2v2h-2zm-49.9 67.6h2v2h-2zm-14.3 13.7h2v2h-2zm19.9 -29.8h2v2h-2zm7 10.6h2v2h-2zm-29 12.6h2v2h-2zm21.6 -15.9h2v2h-2zm26.2 -23.6h2v2h-2zm-24 38.3h2v2h-2zm17.8 -51.4h2v2h-2zm-23.1 32.6h2v2h-2zm26.5 -30.9h2v2h-2zm-17 60.3h2v2h-2zm-5.1 -21.1h2v2h-2zm42.5 -41.8h2v2h-2zm-38 31.5h2v2h-2zm-37.5 25.7h2v2h-2zm52.2 -58.2h2v2h-2zm-1.8 54.5h2v2h-2zm-34.8 -4.9h2v2h-2zm72.1 -53.8h2v2h-2zm-32 46.2h2v2h-2zm-34.7 7.7h2v2h-2zm52.9 -30.4h2v2h-2zm-69.4 36.1h2v2h-2zm67.5 -59.7h2v2h-2zm11.1 30.1h2v2h-2zm-40.3 7h2v2h-2zm-29.1 11.6h2v2h-2zm17.9 -14.2h2v2h-2zm3.9 -4.9h2v2h-2zm-29.2 12h2v2h-2zm67.2 -49.6h2v2h-2zm-18.8 19.7h2v2h-2zm26.5 14.7h2v2h-2zm-29.4 -23.4h2v2h-2zm20.9 17.1h2v2h-2zm12.8 -37.6h2v2h-2zm-30.7 34.6h2v2h-2zm-33.6 17.4h2v2h-2zm40.7 -17.8h2v2h-2zm16.5 -36h2v2h-2zm-15.8 26.2h2v2h-2zm-8.4 47.8h2v2h-2zm12.4 -58.6h2v2h-2zm-49 76.9h2v2h-2zm-8 -50.7h2v2h-2zm-4.2 50.2h2v2h-2zm35 -61.4h2v2h-2zm36.6 14.4h2v2h-2zm-10.8 7.9h2v2h-2zm-56.1 33h2v2h-2zm12 -47.8h2v2h-2zm56.5 -8h2v2h-2zm-66.2 16.3h2v2h-2zm14.8 42.9h2v2h-2zm34.5 -72h2v2h-2zm22.5 -16h2v2h-2zm-16.7 24.5h2v2h-2zm7.9 5h2v2h-2zm2.5 19.3h2v2h-2zm-63.7 -9.5h2v2h-2zm71.6 -22.6h2v2h-2zm-72.2 57.5h2v2h-2zm52.4 -59.7h2v2h-2zm-10.2 31h2v2h-2zm0.4 22.1h2v2h-2zm19.7 -12.9h2v2h-2zm-7.8 -18.2h2v2h-2zm7.7 -7.6h2v2h-2zm9.8 14.7h2v2h-2zm-3.8 -21.9h2v2h-2zm-67.6 58.8h2v2h-2zm18.2 -24.6h2v2h-2zm7.4 -8.3h2v2h-2zm-32 20.8h2v2h-2zm19.7 -0.4h2v2h-2z" fill="#B07AA3"/>
<path d="M77.6 231.2h2v2h-2zm37 -27.7h2v2h-2zm-28.5 3.8h2v2h-2zm-21.4 -46.3h2v2h-2zm33.4 10h2v2h-2zm-7.9 35.5h2v2h-2zm8.2 -45.5h2v2h-2zm10.8 66.5h2v2h-2zm-53.4 -64.3h2v2h-2zm29 40.9h2v2h-2zm-13.8 -41h2v2h-2zm8.1 1.6h2v2h-2zm-16.7 47.2h2v2h-2zm38.8 -44.2h2v2h-2zm5.1 83.7h2v2h-2zm-28.3 -56h2v2h-2zm29.2 11.4h2v2h-2zm-4 -20.3h2v2h-2zm-34.8 -0.3h2v2h-2zm36.5 62.5h2v2h-2zm0.7 -7.1h2v2h-2zm9.3 9.4h2v2h-2zm-45.9 -55.4h2v2h-2zm24.8 -6.3h2v2h-2zm-6.6 -31.9h2v2h-2zm-6.3 47.1h2v2h-2zm-26.7 -39.5h2v2h-2zm61.4 68.9h2v2h-2zm-2.1 -15.5h2v2h-2zm-8.2 27.2h2v2h-2zm-10.9 -66.9h2v2h-2zm2.4 0.8h2v2h-2zm-3.7 -2.5h2v2h-2zm-6.5 19.8h2v2h-2zm-14 23.2h2v2h-2zm-11.9 -5.8h2v2h-2zm54.1 -8.7h2v2h-2zm-44.5 -5.1h2v2h-2zm17.1 -34.4h2v2h-2zm-26.5 -1.9h2v2h-2zm11 29.8h2v2h-2zm-0.4 -17.7h2v2h-2zm-12.9 32.8h2v2h-2zm48.6 6.9h2v2h-2zm-17.4 4.4h2v2h-2zm-7.1 -11.1h2v2h-2zm9.8 -8.5h2v2h-2zm-19.5 -24.6h2v2h-2zm-5.8 29.3h2v2h-2zm10.5 7.9h2v2h-2zm-24 -25.2h2v2h-2zm55 -12.4h2v2h-2zm-19.8 27.4h2v2h-2zm20.4 -5.6h2v2h-2zm-52.4 -5.6h2v2h-2zm24.5 37.6h2v2h-2zm-21.4 -55.2h2v2h-2zm55 55.5h2v2h-2zm-52.1 -43.4h2v2h-2zm12.8 36.6h2v2h-2z" fill="#B07AA3"/>
<path d="M129.5 274.3h1.8v1.8h-1.8zm-21.6 18.2h1.8v1.8h-1.8zm-57.2 -106.2h1.8v1.8h-1.8zm-7.2 43.8h1.8v1.8h-1.8zm51.3 54h1.8v1.8h-1.8zm-13.7 6h1.8v1.8h-1.8zm-46 -92.4h1.8v1.8h-1.8zm86.7 81.5h1.8v1.8h-1.8zm-8 -10.3h1.8v1.8h-1.8zm-65.6 -80.3h1.8v1.8h-1.8zm-2.6 -4.5h1.8v1.8h-1.8zm5.8 -17.4h1.8v1.8h-1.8zm30.1 130.8h1.8v1.8h-1.8zm10.6 -33.2h1.8v1.8h-1.8zm-19.1 -15.6h1.8v1.8h-1.8zm-7.4 -7.1h1.8v1.8h-1.8zm46.8 28.4h1.8v1.8h-1.8zm-64.4 -89.7h1.8v1.8h-1.8zm26.5 101.9h1.8v1.8h-1.8zm32.9 8.2h1.8v1.8h-1.8zm-34 -12h1.8v1.8h-1.8zm32 -13.3h1.8v1.8h-1.8zm-65.9 5.4h1.8v1.8h-1.8zm12.4 -87.5h1.8v1.8h-1.8zm-6.4 68.1h1.8v1.8h-1.8zm-11.5 -70.3h1.8v1.8h-1.8zm63.9 91.3h1.8v1.8h-1.8zm-16.5 -18.3h1.8v1.8h-1.8zm4.4 38h1.8v1.8h-1.8zm-30.8 -1.2h1.8v1.8h-1.8zm11.4 -28.9h1.8v1.8h-1.8zm20.8 -18.4h1.8v1.8h-1.8zm-37.8 31.2h1.8v1.8h-1.8zm26.2 -30.3h1.8v1.8h-1.8zm-38.7 -16.3h1.8v1.8h-1.8zm3.2 25h1.8v1.8h-1.8zm1.1 -71h1.8v1.8h-1.8zm-18.7 65h1.8v1.8h-1.8zm24.1 -77.6h1.8v1.8h-1.8zm-22.4 18.2h1.8v1.8h-1.8zm72.2 60.1h1.8v1.8h-1.8zm72.8 14.9h1.8v1.8h-1.8zm-131.9 2.4h1.8v1.8h-1.8zm18.1 19.8h1.8v1.8h-1.8zm98 -13.8h1.8v1.8h-1.8zm-85.1 -119.1h1.8v1.8h-1.8zm118.4 97h1.8v1.8h-1.8zm-34.9 22.3h1.8v1.8h-1.8zm-124.8 -21.2h1.8v1.8h-1.8zm118.2 17.3h1.8v1.8h-1.8zm-80.5 -41.8h1.8v1.8h-1.8zm-36.8 -30.4h1.8v1.8h-1.8zm43.8 84.9h1.8v1.8h-1.8zm-28.8 -51.8h1.8v1.8h-1.8zm35 40.7h1.8v1.8h-1.8zm-30 -24h1.8v1.8h-1.8zm108.9 26.5h1.8v1.8h-1.8zm-118.9 -87.3h1.8v1.8h-1.8zm-9.8 -1.4h1.8v1.8h-1.8zm24.9 67.8h1.8v1.8h-1.8zm-20.6 2.5h1.8v1.8h-1.8zm4.5 -36.8h1.8v1.8h-1.8zm14 24.1h1.8v1.8h-1.8zm-3.1 23.6h1.8v1.8h-1.8zm36.6 7.6h1.8v1.8h-1.8zm-38.6 -85.8h1.8v1.8h-1.8zm52.1 108.1h1.8v1.8h-1.8zm-29.2 -49.7h1.8v1.8h-1.8zm69.8 26.5h1.8v1.8h-1.8zm-67.3 -41.1h1.8v1.8h-1.8zm8.5 50.6h1.8v1.8h-1.8zm-47.1 -36.2h1.8v1.8h-1.8zm4.9 32.5h1.8v1.8h-1.8zm25.8 -123.7h1.8v1.8h-1.8zm-4.9 77.1h1.8v1.8h-1.8zm-20.7 -9.6h1.8v1.8h-1.8zm59.5 56.4h1.8v1.8h-1.8zm-61.5 -5.3h1.8v1.8h-1.8zm-15.9 -38.1h1.8v1.8h-1.8zm27.9 24.4h1.8v1.8h-1.8zm31.6 2.9h1.8v1.8h-1.8zm61.9 10h1.8v1.8h-1.8zm-101.8 -72.9h1.8v1.8h-1.8zm12.9 11.9h1.8v1.8h-1.8zm-15.1 57h1.8v1.8h-1.8zm13.7 -39.7h1.8v1.8h-1.8zm19.1 21.4h1.8v1.8h-1.8zm72.8 19.5h1.8v1.8h-1.8zm-34.2 10.5h1.8v1.8h-1.8zm-58.3 -8.9h1.8v1.8h-1.8z" fill="#9ECF57"/>
<path d="M332 171h1.8v1.8h-1.8zm-35.9 41.3h1.8v1.8h-1.8zm46.1 -69h1.8v1.8h-1.8zm-37.7 76.7h1.8v1.8h-1.8zm19.6 -1.8h1.8v1.8h-1.8zm-34.3 54.6h1.8v1.8h-1.8zm29.4 -135.1h1.8v1.8h-1.8zm-25.9 30.3h1.8v1.8h-1.8zm56.2 30.7h1.8v1.8h-1.8zm-35.7 54.9h1.8v1.8h-1.8zm-1 16.7h1.8v1.8h-1.8zm9 -69.5h1.8v1.8h-1.8zm-27.1 13.5h1.8v1.8h-1.8zm37.8 7.2h1.8v1.8h-1.8zm-21.4 -32h1.8v1.8h-1.8zm9.5 -24h1.8v1.8h-1.8zm-30.7 177.8h1.8v1.8h-1.8zm50.4 -137.5h1.8v1.8h-1.8zm-35.9 -57h1.8v1.8h-1.8zm11.9 58.5h1.8v1.8h-1.8zm-19.9 -31.4h1.8v1.8h-1.8zm-1.1 74h1.8v1.8h-1.8zm17.1 -111.6h1.8v1.8h-1.8zm-8.4 59.2h1.8v1.8h-1.8zm48.5 -12h1.8v1.8h-1.8zm-27.4 -4.3h1.8v1.8h-1.8zm22.4 -0.9h1.8v1.8h-1.8zm-4.3 -28.4h1.8v1.8h-1.8zm-23.3 13.9h1.8v1.8h-1.8zm-13.7 96.8h1.8v1.8h-1.8zm65.9 -78.6h1.8v1.8h-1.8zm-77.7 48.9h1.8v1.8h-1.8zm-1.1 51.3h1.8v1.8h-1.8zm26 -31.9h1.8v1.8h-1.8zm23.6 -57.4h1.8v1.8h-1.8zm-12 -58.9h1.8v1.8h-1.8zm-12.1 19.3h1.8v1.8h-1.8zm-15.5 11.9h1.8v1.8h-1.8zm54.9 -12.7h1.8v1.8h-1.8zm-14.9 58.2h1.8v1.8h-1.8zm12.5 -17.6h1.8v1.8h-1.8zm-25.8 4.9h1.8v1.8h-1.8zm-28.9 -65.1h1.8v1.8h-1.8zm77 53h1.8v1.8h-1.8zm-20.9 -33.4h1.8v1.8h-1.8zm-65.4 10.7h1.8v1.8h-1.8zm2.9 88.9h1.8v1.8h-1.8zm44.4 -77.4h1.8v1.8h-1.8zm-36.4 -1.1h1.8v1.8h-1.8zm1.1 -35.9h1.8v1.8h-1.8zm55.3 51.7h1.8v1.8h-1.8zm-60.2 118.7h1.8v1.8h-1.8zm-3.8 -21.3h1.8v1.8h-1.8zm-0.5 -19.7h1.8v1.8h-1.8zm14.8 -75.5h1.8v1.8h-1.8zm3.4 44h1.8v1.8h-1.8zm-2.8 -55.7h1.8v1.8h-1.8zm-1.3 88.5h1.8v1.8h-1.8zm5.9 -57.5h1.8v1.8h-1.8zm-10.8 84.9h1.8v1.8h-1.8zm63 -121h1.8v1.8h-1.8zm-50.8 -38.2h1.8v1.8h-1.8zm-25.9 214.6h1.8v1.8h-1.8zm12.7 -42.5h1.8v1.8h-1.8zm-4.8 -137.2h1.8v1.8h-1.8zm52.6 -19h1.8v1.8h-1.8zm0.6 -12.6h1.8v1.8h-1.8zm-16.6 46.8h1.8v1.8h-1.8zm-6.7 -30.6h1.8v1.8h-1.8zm-36.9 214.2h1.8v1.8h-1.8zm9.1 -121.7h1.8v1.8h-1.8zm1.4 -14.3h1.8v1.8h-1.8zm3.8 62.2h1.8v1.8h-1.8zm-2.8 12.7h1.8v1.8h-1.8zm31.7 -151.3h1.8v1.8h-1.8zm-13.2 92.8h1.8v1.8h-1.8zm-7.2 -77.1h1.8v1.8h-1.8zm-0.8 -26.2h1.8v1.8h-1.8zm-19.9 106.3h1.8v1.8h-1.8zm28.7 -120.4h1.8v1.8h-1.8zm3.3 74.4h1.8v1.8h-1.8zm-1.1 16.2h1.8v1.8h-1.8zm2.1 -58.6h1.8v1.8h-1.8zm-14 113.1h1.8v1.8h-1.8zm11 -89.5h1.8v1.8h-1.8zm-16 -30.1h1.8v1.8h-1.8zm-17.8 152.4h1.8v1.8h-1.8zm21 -28.3h1.8v1.8h-1.8zm39.8 -74.3h1.8v1.8h-1.8zm-40.8 70.2h1.8v1.8h-1.8z" fill="#9ECF57"/>
<path d="M243.9 368.7h1.8v1.8h-1.8zm5 -15.2h1.8v1.8h-1.8zm-31.1 -20.8h1.8v1.8h-1.8zm73.1 24h1.8v1.8h-1.8zm-41.8 0h1.8v1.8h-1.8zm30 -18h1.8v1.8h-1.8zm-36.6 25h1.8v1.8h-1.8zm38.1 15.7h1.8v1.8h-1.8zm4.2 -52.8h1.8v1.8h-1.8zm-50.5 49h1.8v1.8h-1.8zm45.3 -44.1h1.8v1.8h-1.8zm-68.8 8h1.8v1.8h-1.8zm-5.3 6.5h1.8v1.8h-1.8zm72.6 10.3h1.8v1.8h-1.8zm-36.3 -27h1.8v1.8h-1.8zm-6 56.5h1.8v1.8h-1.8zm31.1 -34h1.8v1.8h-1.8zm-22.5 21.7h1.8v1.8h-1.8zm29.1 -40.3h1.8v1.8h-1.8zm-8.2 13.5h1.8v1.8h-1.8zm-16.5 -8.1h1.8v1.8h-1.8zm-15.5 6.4h1.8v1.8h-1.8zm1 -20h1.8v1.8h-1.8zm-18.6 34.3h1.8v1.8h-1.8zm-14.9 -24.3h1.8v1.8h-1.8zm68.5 5.9h1.8v1.8h-1.8zm-40.9 -2h1.8v1.8h-1.8zm52.9 -9.4h1.8v1.8h-1.8zm-20.5 47.8h1.8v1.8h-1.8zm-45.1 -27.1h1.8v1.8h-1.8zm61.2 12.1h1.8v1.8h-1.8zm-43.6 -35.7h1.8v1.8h-1.8zm7.4 20.1h1.8v1.8h-1.8zm28 -4.5h1.8v1.8h-1.8zm-31.6 22h1.8v1.8h-1.8zm41.8 -18.4h1.8v1.8h-1.8zm-44.1 14h1.8v1.8h-1.8zm55.9 -24h1.8v1.8h-1.8zm4.8 32.3h1.8v1.8h-1.8zm-62.1 -2.9h1.8v1.8h-1.8zm-4.4 -36.9h1.8v1.8h-1.8zm44.2 19.2h1.8v1.8h-1.8zm-23.9 7.2h1.8v1.8h-1.8zm38.9 16.2h1.8v1.8h-1.8zm-45.4 -18.3h1.8v1.8h-1.8zm39 -2.9h1.8v1.8h-1.8zm-37.9 29.5h1.8v1.8h-1.8zm-3.5 -24.8h1.8v1.8h-1.8zm7.5 20.7h1.8v1.8h-1.8zm16.4 -5.2h1.8v1.8h-1.8zm-27.8 -43.5h1.8v1.8h-1.8zm28.8 31.9h1.8v1.8h-1.8zm9.3 13.4h1.8v1.8h-1.8zm-67.5 -34.1h1.8v1.8h-1.8zm-1.7 -8.3h1.8v1.8h-1.8zm67.5 29.7h1.8v1.8h-1.8zm-4.4 -5.1h1.8v1.8h-1.8zm-30.4 6.3h1.8v1.8h-1.8zm47.1 -27.3h1.8v1.8h-1.8zm-55.7 23.2h1.8v1.8h-1.8zm-6.2 -15.9h1.8v1.8h-1.8zm4 -0.5h1.8v1.8h-1.8zm56.5 18.7h1.8v1.8h-1.8zm-36 -8.4h1.8v1.8h-1.8zm-47.7 -7.2h1.8v1.8h-1.8zm84.6 30.9h1.8v1.8h-1.8zm-1.1 -33.9h1.8v1.8h-1.8zm-67.8 -12.7h1.8v1.8h-1.8zm34.7 20h1.8v1.8h-1.8zm-7.6 7.2h1.8v1.8h-1.8z" fill="#9ECF57"/>
<path d="M213.7 144.9h2v2h-2zm59.9 54.4h2v2h-2zm-68.9 -42h2v2h-2zm5.7 -24.4h2v2h-2zm42.3 76.7h2v2h-2zm-29.1 -155.1h2v2h-2zm-7.6 37.5h2v2h-2zm58.2 108.7h2v2h-2zm-21.8 -17.9h2v2h-2zm-22.6 50.4h2v2h-2zm2.1 -148.5h2v2h-2zm-18.5 46.8h2v2h-2zm-3.8 -47h2v2h-2zm-83.4 88.6h2v2h-2zm113.3 -9.8h2v2h-2zm-8.8 -90.1h2v2h-2zm46.5 117.6h2v2h-2zm-115.8 -50.9h2v2h-2zm82.1 42.4h2v2h-2zm-47.5 104.9h2v2h-2zm20.2 -92.3h2v2h-2zm0.2 121.8h2v2h-2zm10.3 -261.9h2v2h-2zm-57.7 114.1h2v2h-2zm40.3 -101.1h2v2h-2zm-1.3 197.7h2v2h-2zm7.8 -93.2h2v2h-2zm-43.3 -24.8h2v2h-2zm55.4 -60.2h2v2h-2zm37.5 90.3h2v2h-2zm-67.3 16h2v2h-2zm-67.6 -19.5h2v2h-2zm69.5 -28.8h2v2h-2zm-55.2 10.5h2v2h-2zm54.3 139h2v2h-2zm-2.4 -28.4h2v2h-2zm14.6 -29.2h2v2h-2zm-9.3 -113.3h2v2h-2zm10.8 -16.6h2v2h-2zm3 157.1h2v2h-2zm20.6 -206.1h2v2h-2zm-16.5 179.8h2v2h-2zm35 -99.9h2v2h-2zm-0.7 34.2h2v2h-2zm23.2 -14.2h2v2h-2zm-46.7 -74.5h2v2h-2zm-35.5 98.8h2v2h-2zm48.4 39.7h2v2h-2zm16.9 42.9h2v2h-2zm21.4 -32.5h2v2h-2zm-39.3 -153.6h2v2h-2zm28.4 174.2h2v2h-2zm-12.9 16.4h2v2h-2zm-43.2 -104.8h2v2h-2zm41.9 99.7h2v2h-2zm8.2 -138.6h2v2h-2zm16 66.4h2v2h-2zm-89.7 -84.2h2v2h-2zm6.2 191.7h2v2h-2zm34.3 -56.4h2v2h-2zm19.4 -7.9h2v2h-2zm-25.2 43.8h2v2h-2zm32.8 -12.4h2v2h-2zm-4.3 -106.8h2v2h-2zm-37 11h2v2h-2zm2.6 -47.2h2v2h-2zm14.6 42.8h2v2h-2zm-7.2 104.3h2v2h-2zm-9.1 24.8h2v2h-2zm-38.5 -112.6h2v2h-2zm100.2 2h2v2h-2zm-16.7 2h2v2h-2zm5.7 43.6h2v2h-2zm-46.8 -83h2v2h-2zm49.1 35h2v2h-2zm-39.9 16.9h2v2h-2zm37.1 48.9h2v2h-2zm-56.1 -194.8h2v2h-2zm11.5 66.9h2v2h-2zm21.6 3h2v2h-2zm-38.9 36.9h2v2h-2zm77.4 65.2h2v2h-2zm-30.9 7.9h2v2h-2zm-17 4.1h2v2h-2zm-24 38.5h2v2h-2zm39 -136.6h2v2h-2zm-9.9 -50.4h2v2h-2zm-78.6 60.6h2v2h-2zm4.1 15.8h2v2h-2zm13 -15.1h2v2h-2zm43.4 112.3h2v2h-2zm21.4 -88.1h2v2h-2zm-35.3 57.2h2v2h-2zm34.6 -112.8h2v2h-2zm-39.9 3.7h2v2h-2zm18 -8.2h2v2h-2zm35.1 87.6h2v2h-2zm-13 31.8h2v2h-2zm-19.5 82.6h2v2h-2zm-1.9 -78.6h2v2h-2zm25.1 -84.9h2v2h-2zm-77.3 -0.6h2v2h-2zm82.8 -12.2h2v2h-2zm-48.9 48.9h2v2h-2zm24.6 108.6h2v2h-2zm-29.8 -14.1h2v2h-2zm29.5 -78.3h2v2h-2zm21.6 74.4h2v2h-2zm-6.2 -96.4h2v2h-2zm-2 91.4h2v2h-2zm-16.8 16.5h2v2h-2zm9.8 -76h2v2h-2zm-17.9 60.5h2v2h-2zm35.5 -132.7h2v2h-2zm-18.3 -82.1h2v2h-2zm24.8 72.3h2v2h-2zm-139.1 34.4h2v2h-2zm88.5 103.3h2v2h-2zm13.3 -133.5h2v2h-2zm32 56.3h2v2h-2zm-139.3 -9.3h2v2h-2zm107.4 62.8h2v2h-2zm-8.1 -92.6h2v2h-2zm-13 53.8h2v2h-2zm35.1 -38.3h2v2h-2zm-54.6 -49.1h2v2h-2zm20.3 44.6h2v2h-2zm7.8 74.9h2v2h-2zm29 5.3h2v2h-2zm-0.1 -25.5h2v2h-2zm14.7 -50h2v2h-2zm-58.6 104.7h2v2h-2zm15.6 -89.6h2v2h-2zm30.1 -35.4h2v2h-2zm17.5 114.8h2v2h-2zm10.5 -72h2v2h-2zm-47.2 100.3h2v2h-2zm50.2 -143.5h2v2h-2zm-48.1 92.6h2v2h-2zm15.7 -186.5h2v2h-2zm-45.3 98.9h2v2h-2zm36.1 89.5h2v2h-2zm3.4 -69.1h2v2h-2zm-16.5 -116.8h2v2h-2zm-66.1 94.1h2v2h-2zm99.8 123.3h2v2h-2zm-27.5 -23.5h2v2h-2zm52.9 -29.4h2v2h-2zm-66.9 52.2h2v2h-2zm6.9 -6.3h2v2h-2zm-8.7 -145.2h2v2h-2zm50.7 148.7h2v2h-2zm-32 -172.6h2v2h-2zm58.2 96.8h2v2h-2zm-44 86.7h2v2h-2zm-22 36.7h2v2h-2zm15.3 -108.4h2v2h-2zm-30.7 -40.9h2v2h-2zm22.9 131.6h2v2h-2zm15 -34.2h2v2h-2zm-2.9 -218.7h2v2h-2zm-6.4 233.9h2v2h-2zm-59.3 -150h2v2h-2zm-45.3 33.8h2v2h-2zm158.2 60.3h2v2h-2zm-40.7 -108.5h2v2h-2zm-89.8 39.5h2v2h-2zm97.2 34.1h2v2h-2zm-45.7 115.9h2v2h-2zm-64.6 -142.7h2v2h-2zm91.1 72.1h2v2h-2zm10.6 17.9h2v2h-2zm38.9 -31.4h2v2h-2zm-66.6 3.7h2v2h-2zm1.2 11h2v2h-2zm66.4 -2.1h2v2h-2zm-119 -79.5h2v2h-2zm69 10.3h2v2h-2zm6.9 -100h2v2h-2zm-10.3 52.2h2v2h-2zm-2 88.3h2v2h-2zm0.3 -116h2v2h-2zm-1.6 111.1h2v2h-2zm-71.5 -58.1h2v2h-2zm48.5 -72.8h2v2h-2zm-42.5 76.9h2v2h-2zm85.6 -44.7h2v2h-2zm-67.9 40.3h2v2h-2zm45.9 30.4h2v2h-2zm4 104.2h2v2h-2zm-32.9 -189.3h2v2h-2zm-44.4 76.1h2v2h-2zm23.3 8.3h2v2h-2zm102.7 24.4h2v2h-2zm-34.3 2.3h2v2h-2zm35.6 -10.8h2v2h-2zm-3.5 -18.3h2v2h-2zm-34.4 -110.3h2v2h-2zm-49.7 69.5h2v2h-2zm94.8 46.7h2v2h-2zm-59.1 9.5h2v2h-2zm-112.2 -12.7h2v2h-2zm127.8 19.1h2v2h-2zm-24.2 32.5h2v2h-2zm45 -80.9h2v2h-2zm-48.9 163.3h2v2h-2zm-62.5 -132.1h2v2h-2zm49.7 134.6h2v2h-2zm19.6 -209h2v2h-2zm-53.4 54.4h2v2h-2zm-11.4 13.5h2v2h-2zm54.2 73.5h2v2h-2zm-7.1 -37.2h2v2h-2zm11.3 -36.8h2v2h-2zm13.6 116.4h2v2h-2zm50.1 -129.2h2v2h-2zm-51.6 30h2v2h-2zm0.9 21h2v2h-2zm-15.7 -115.6h2v2h-2zm21.8 21.2h2v2h-2z" fill="#FFFFFF"/>
<path d="M220.9 175.2h2v2h-2zm8.6 93.6h2v2h-2zm-118.2 -92.6h2v2h-2zm119.2 66.8h2v2h-2zm-5.4 -151h2v2h-2zm-74 71.5h2v2h-2zm89.7 -20.3h2v2h-2zm-12.9 116.3h2v2h-2zm-45.9 -98.8h2v2h-2zm95.7 44.6h2v2h-2zm-47.5 -118.8h2v2h-2zm16.2 192.6h2v2h-2zm-22.3 -57.4h2v2h-2zm32.1 -9.5h2v2h-2zm-41.6 -115.1h2v2h-2zm24.4 21.2h2v2h-2zm-72.3 41.4h2v2h-2zm28.3 -45.4h2v2h-2zm25.9 125.1h2v2h-2zm18.7 -101.3h2v2h-2zm-42.3 -43.8h2v2h-2zm78 106.2h2v2h-2zm-42.2 -50h2v2h-2zm4.4 -44.5h2v2h-2zm14.3 163.5h2v2h-2zm1.2 -3h2v2h-2zm-25.1 -64.6h2v2h-2zm-14.4 -130.6h2v2h-2zm9.2 38h2v2h-2zm-67 52.1h2v2h-2zm49 86h2v2h-2zm19 -9.5h2v2h-2zm-4.5 60.1h2v2h-2zm8.6 -183h2v2h-2zm19.4 161.7h2v2h-2zm4.1 -147.8h2v2h-2zm-50.1 -45.2h2v2h-2zm1.4 60.4h2v2h-2zm34.8 47.5h2v2h-2zm-41.6 -79h2v2h-2zm33 -8.7h2v2h-2zm-62.5 72.8h2v2h-2zm70.4 83.8h2v2h-2zm-60.8 -92.4h2v2h-2zm44.1 -97.6h2v2h-2zm-87.5 103h2v2h-2zm87.6 -47.3h2v2h-2zm27 39.2h2v2h-2zm-61.6 -28.4h2v2h-2zm31.8 -14h2v2h-2zm23.2 -45.5h2v2h-2zm-85.4 97h2v2h-2zm106.9 -42.3h2v2h-2zm1.6 72.5h2v2h-2zm-45.8 92.6h2v2h-2zm-60.8 -152.3h2v2h-2zm19.4 -3.7h2v2h-2zm91.5 115h2v2h-2zm-28.4 -0.2h2v2h-2zm15.1 -143.3h2v2h-2zm-28 36.4h2v2h-2zm-20.8 -12.6h2v2h-2zm50.2 2.5h2v2h-2zm-25.7 87.7h2v2h-2zm-23 -56.2h2v2h-2zm44.4 -65.2h2v2h-2zm-9.9 -8.2h2v2h-2zm-49.8 58.1h2v2h-2zm77.2 19.6h2v2h-2zm0.9 75.1h2v2h-2zm-58.3 -179.3h2v2h-2zm2.6 206.6h2v2h-2zm-12.3 -98.6h2v2h-2zm26.2 -78.8h2v2h-2zm-54.1 44.3h2v2h-2zm106.4 95h2v2h-2zm-77.6 35.6h2v2h-2zm47.3 -132.5h2v2h-2zm-63.4 6.9h2v2h-2zm101.1 51.5h2v2h-2zm-16 -2.7h2v2h-2zm-26.9 90.5h2v2h-2zm-45.9 8.6h2v2h-2zm1.5 9.7h2v2h-2zm8.8 -225.3h2v2h-2zm12.7 188.4h2v2h-2zm-37.7 -82.8h2v2h-2zm53 67.1h2v2h-2zm-35.8 -163.6h2v2h-2zm15.4 208.1h2v2h-2zm21.1 -44.2h2v2h-2zm-1.6 -11.1h2v2h-2zm41.4 -76.5h2v2h-2zm-26.2 67.1h2v2h-2zm-116.9 -62.1h2v2h-2zm3.4 -14.3h2v2h-2zm81.6 -30.5h2v2h-2zm-77.6 50.4h2v2h-2zm51.4 -80.5h2v2h-2zm21.5 -15.2h2v2h-2zm-33.7 59.8h2v2h-2zm3.9 -0.6h2v2h-2zm47.4 11.4h2v2h-2zm-21.1 -110.1h2v2h-2zm49.4 206.2h2v2h-2zm12.7 -93.3h2v2h-2zm-87.1 -29.5h2v2h-2zm21.7 104.1h2v2h-2zm53.1 36.6h2v2h-2zm-46.7 -32.5h2v2h-2zm-7.2 -78.4h2v2h-2zm-12.5 26.6h2v2h-2zm80.3 40.9h2v2h-2zm-80.8 -87.5h2v2h-2zm55.2 -20.6h2v2h-2zm-74.1 36.3h2v2h-2zm30 -31.9h2v2h-2zm34.7 126.8h2v2h-2zm-32.5 57.7h2v2h-2zm35.1 -18.1h2v2h-2z" fill="#5F8B69"/>
<path d="M290.6 276.8h2v2h-2zm-31.7 53h2v2h-2zm12.8 -82.3h2v2h-2zm-60.7 -4.9h2v2h-2zm56.6 85.5h2v2h-2zm-35.9 2.2h2v2h-2zm8.5 -139.5h2v2h-2zm31.2 -51.2h2v2h-2zm-40.8 133.3h2v2h-2zm10.1 12.8h2v2h-2zm15.7 -80.5h2v2h-2zm35.2 35.4h2v2h-2zm-62.7 -48.6h2v2h-2zm66.6 39.1h2v2h-2zm-61.2 30.8h2v2h-2zm-43.6 26.4h2v2h-2zm89.9 -68.1h2v2h-2zm-89.8 67.2h2v2h-2zm47 -30.6h2v2h-2zm18 14.1h2v2h-2zm-18.6 54.9h2v2h-2zm23.8 -152.7h2v2h-2zm-27.5 -11.2h2v2h-2zm47.4 131h2v2h-2zm-54.1 -15.1h2v2h-2zm-6.5 -34.8h2v2h-2zm-11.9 58.5h2v2h-2zm38 -138.2h2v2h-2zm-39.1 115.3h2v2h-2zm48.8 34.7h2v2h-2zm1.6 -113.9h2v2h-2zm32.8 3.5h2v2h-2zm-16.7 -44h2v2h-2zm0.4 93.1h2v2h-2zm-1 -103h2v2h-2zm-7.7 15h2v2h-2zm-32.7 152.3h2v2h-2zm6.5 -82.6h2v2h-2zm43.9 44.3h2v2h-2zm-40.5 24.9h2v2h-2z" fill="#B07AA3"/>
<path d="M83.5 162.7h2v2h-2zm17.9 2.9h2v2h-2zm-0.6 -1.5h2v2h-2zm-6.7 26.5h2v2h-2zm-11.2 10.1h2v2h-2zm16.5 28.1h2v2h-2zm-34.5 -64.1h2v2h-2zm0 39.3h2v2h-2zm9.8 -36.4h2v2h-2zm38.4 33.6h2v2h-2zm-9.4 -24.2h2v2h-2zm7.8 39.2h2v2h-2zm4.2 17.2h2v2h-2zm-22 -25.8h2v2h-2zm14.5 -9.7h2v2h-2zm-3.2 25.8h2v2h-2zm-3.9 -48.7h2v2h-2zm14 74.8h2v2h-2zm-26.4 -56.1h2v2h-2zm-25 -29h2v2h-2zm19.6 38.6h2v2h-2zm-13.1 -13.6h2v2h-2zm18.5 42.7h2v2h-2zm2.3 -65h2v2h-2zm19.2 22.3h2v2h-2zm-48.2 23.2h2v2h-2zm26.3 -29h2v2h-2zm-33.6 -11.9h2v2h-2zm6.2 8.7h2v2h-2zm32.7 30.1h2v2h-2zm20.6 13.3h2v2h-2zm-20.3 -15.4h2v2h-2zm14.8 13.7h2v2h-2zm-32.5 -7h2v2h-2zm12.5 -43.2h2v2h-2zm-3 -9.5h2v2h-2zm21.3 59.6h2v2h-2zm10.1 1h2v2h-2zm-61 -27.2h2v2h-2zm34.9 43h2v2h-2zm-37.3 -67.3h2v2h-2zm32.5 13.1h2v2h-2zm-15.8 -19h2v2h-2zm6.1 55.6h2v2h-2zm40.7 -4.1h2v2h-2zm-22 -50.1h2v2h-2zm4.7 42.3h2v2h-2zm-30.5 -44.4h2v2h-2zm-6.3 0.9h2v2h-2zm27.9 70.5h2v2h-2zm-27.8 -32.3h2v2h-2zm26.9 6.3h2v2h-2zm-10.5 -1.9h2v2h-2zm0.6 -33.2h2v2h-2zm21.7 0.6h2v2h-2zm4.3 -0.1h2v2h-2zm-47.3 25.6h2v2h-2zm19.1 -15.4h2v2h-2zm24.4 -12.2h2v2h-2zm-6.2 66.2h2v2h-2zm-14 -35.9h2v2h-2zm30.5 11h2v2h-2zm-48.1 -57.9h2v2h-2zm-6.4 28.4h2v2h-2zm22.1 -2.5h2v2h-2zm-11.6 -16.7h2v2h-2zm3.9 18.4h2v2h-2zm39.2 41.3h2v2h-2zm-31.2 -58.4h2v2h-2zm-24.8 -4.8h2v2h-2zm51.9 56.9h2v2h-2zm-44.7 -2.4h2v2h-2zm-6.3 -12.8h2v2h-2zm17.9 -43.8h2v2h-2zm26.3 66.5h2v2h-2zm-15 -59.4h2v2h-2zm10.3 28.7h2v2h-2zm-0.5 -37h2v2h-2zm-28.4 33.2h2v2h-2zm-1.6 -33.6h2v2h-2zm8.9 19.3h2v2h-2zm21.7 -4.7h2v2h-2zm-17.5 50.4h2v2h-2zm2 -57.6h2v2h-2zm-21.5 37.5h2v2h-2zm25.2 -33.4h2v2h-2zm11.7 32.6h2v2h-2zm9 -22h2v2h-2zm8.1 56.6h2v2h-2zm-29.8 -72.9h2v2h-2zm0.7 -1.6h2v2h-2zm13.1 61.8h2v2h-2zm-23.6 -69.7h2v2h-2zm16.9 72.5h2v2h-2zm-15.2 -3h2v2h-2zm1.2 1.8h2v2h-2zm4.6 -76.7h2v2h-2zm27.6 68.5h2v2h-2zm-9.5 -56.4h2v2h-2zm-21.8 60.2h2v2h-2zm34.2 12.4h2v2h-2zm-2.8 -21.4h2v2h-2zm6.7 6h2v2h-2zm-1.4 -8.5h2v2h-2zm-48.6 -5.1h2v2h-2zm18.5 -19.6h2v2h-2zm-7 18.8h2v2h-2zm13.8 -31.2h2v2h-2zm-20.1 30.3h2v2h-2zm14.7 -9.1h2v2h-2z" fill="#FFFFFF"/>
</g>
<path d="M1024.8 38.1C1031.7 37.9 1039.2 37.9 1043.2 40.4C1047.3 42.9 1048.0 47.1 1049.0 53.0C1050.0 59.0 1049.6 68.4 1049.0 76.1C1048.4 83.7 1047.7 92.6 1045.5 99.1C1043.4 105.6 1038.3 111.0 1036.3 115.2C1034.4 119.4 1032.9 121.3 1034.0 124.4C1035.2 127.5 1039.0 132.0 1043.2 133.6C1047.5 135.2 1053.6 135.0 1059.4 134.1C1065.1 133.1 1072.8 128.7 1077.8 127.9C1082.8 127.0 1085.5 127.3 1089.3 129.0C1093.1 130.7 1096.6 135.2 1100.8 138.2C1105.0 141.3 1110.0 144.8 1114.6 147.4C1119.2 150.1 1124.6 150.9 1128.5 154.4C1132.3 157.8 1136.1 162.8 1137.7 168.2C1139.2 173.5 1139.2 181.2 1137.7 186.6C1136.1 192.0 1132.3 196.2 1128.5 200.4C1124.6 204.6 1119.2 208.5 1114.6 211.9C1110.0 215.4 1104.7 217.7 1100.8 221.1C1097.0 224.6 1093.9 228.4 1091.6 232.6C1089.3 236.9 1088.9 241.9 1087.0 246.5C1085.1 251.1 1082.4 255.7 1080.1 260.3C1077.8 264.9 1075.5 268.3 1073.2 274.1C1070.9 279.9 1068.6 287.5 1066.3 294.8C1064.0 302.1 1060.9 310.2 1059.4 317.9C1057.8 325.5 1057.6 333.2 1057.1 340.9C1056.5 348.6 1056.3 356.2 1055.9 363.9C1055.5 371.6 1056.5 380.4 1054.8 386.9C1053.0 393.5 1049.4 398.8 1045.5 403.1C1041.7 407.3 1037.1 409.6 1031.7 412.3C1026.4 415.0 1018.7 418.4 1013.3 419.2C1007.9 419.9 1004.1 418.8 999.5 416.9C994.9 415.0 990.3 411.5 985.7 407.7C981.1 403.8 976.1 398.8 971.9 393.8C967.6 388.9 963.8 383.5 960.3 377.7C956.9 372.0 953.8 365.8 951.1 359.3C948.4 352.8 946.1 345.5 944.2 338.6C942.3 331.7 941.5 324.4 939.6 317.9C937.7 311.3 935.0 304.8 932.7 299.4C930.4 294.1 928.1 288.3 925.8 285.6C923.5 282.9 922.7 282.5 918.9 283.3C915.1 284.1 908.5 287.9 902.8 290.2C897.0 292.5 890.5 294.4 884.4 297.1C878.2 299.8 872.1 303.8 865.9 306.3C859.8 308.8 853.6 311.5 847.5 312.1C841.4 312.7 835.2 311.1 829.1 309.8C822.9 308.4 816.4 306.9 810.7 304.0C804.9 301.2 799.1 296.7 794.5 292.5C789.9 288.3 786.5 284.8 783.0 278.7C779.6 272.6 775.7 263.4 773.8 255.7C771.9 248.0 771.7 240.3 771.5 232.6C771.3 225.0 771.5 217.3 772.7 209.6C773.8 201.9 775.5 193.1 778.4 186.6C781.3 180.1 785.3 175.1 789.9 170.5C794.5 165.9 801.1 162.4 806.1 159.0C811.0 155.5 815.7 152.8 819.9 149.7C824.1 146.7 828.7 144.4 831.4 140.5C834.1 136.7 835.2 131.3 836.0 126.7C836.8 122.1 834.1 116.4 836.0 112.9C837.9 109.4 842.9 108.3 847.5 106.0C852.1 103.7 857.9 101.4 863.6 99.1C869.4 96.8 876.3 94.9 882.0 92.2C887.8 89.5 892.4 86.8 898.2 83.0C903.9 79.1 911.2 73.4 916.6 69.1C922.0 64.9 926.6 60.9 930.4 57.6C934.2 54.4 935.4 51.5 939.6 49.6C943.8 47.7 949.2 47.1 955.7 46.1C962.3 45.2 971.1 44.6 978.8 43.8C986.4 43.0 994.1 42.5 1001.8 41.5C1009.5 40.6 1017.9 38.3 1024.8 38.1Z" fill="#D3D3D3"/>
<path d="M845.2 112.9C848.5 109.8 857.5 108.3 863.6 106.0C869.8 103.7 876.3 101.4 882.0 99.1C887.8 96.8 892.4 95.1 898.2 92.2C903.9 89.3 911.2 84.5 916.6 81.8C922.0 79.1 928.5 73.9 930.4 76.1C932.3 78.2 929.6 89.5 928.1 94.5C926.6 99.5 924.7 102.5 921.2 106.0C917.7 109.4 911.2 111.8 907.4 115.2C903.5 118.7 901.2 122.9 898.2 126.7C895.1 130.6 892.0 135.2 889.0 138.2C885.9 141.3 883.2 143.2 879.7 145.1C876.3 147.1 872.1 149.4 868.2 149.7C864.4 150.1 860.2 149.4 856.7 147.4C853.3 145.5 849.6 142.1 847.5 138.2C845.4 134.4 844.4 128.6 844.1 124.4C843.7 120.2 841.9 116.0 845.2 112.9Z" fill="#FFFFFF" fill-opacity="0.2"/>
<path d="M879.7 107.1C883.4 104.3 892.0 103.0 898.2 100.2C904.3 97.4 911.6 92.4 916.6 90.3C921.6 88.2 926.5 85.3 928.1 87.6C929.7 89.8 927.8 98.7 926.3 103.7C924.7 108.7 921.7 112.9 918.9 117.5C916.1 122.1 913.1 127.1 909.7 131.3C906.2 135.5 902.0 140.5 898.2 142.8C894.3 145.1 889.9 146.7 886.7 145.1C883.4 143.6 880.3 138.2 878.6 133.6C876.9 129.0 876.1 121.9 876.3 117.5C876.5 113.1 876.1 110.0 879.7 107.1Z" fill="#FFFFFF" fill-opacity="0.6"/>
<path d="M889.0 122.1C889.7 116.4 901.2 117.1 907.4 115.2C913.5 113.3 919.7 109.4 925.8 110.6C931.9 111.8 940.4 117.1 944.2 122.1C948.1 127.1 949.6 134.4 948.8 140.5C948.1 146.7 944.2 155.9 939.6 159.0C935.0 162.0 927.3 160.5 921.2 159.0C915.1 157.4 908.1 155.9 902.8 149.7C897.4 143.6 888.2 127.9 889.0 122.1Z" fill="#FFFFFF" fill-opacity="0.25"/>
<path d="M874.0 214.2C874.8 209.6 878.2 209.9 880.9 209.6C883.6 209.3 887.2 210.5 890.1 212.4C893.0 214.3 895.5 217.0 898.2 221.1C900.9 225.3 903.9 231.5 906.2 237.3C908.5 243.0 910.3 249.9 912.0 255.7C913.7 261.4 917.0 268.2 916.6 271.8C916.2 275.4 913.1 276.5 909.7 277.6C906.2 278.6 899.9 278.9 895.9 278.2C891.8 277.6 888.4 276.6 885.5 273.6C882.6 270.6 880.2 266.3 878.6 260.3C877.0 254.2 876.6 244.9 875.8 237.3C875.1 229.6 873.1 218.8 874.0 214.2Z" fill="#FFFFFF"/>
<path d="M813.0 147.4C816.6 145.1 824.9 144.0 829.1 145.1C833.3 146.3 835.2 150.5 838.3 154.4C841.4 158.2 843.3 164.3 847.5 168.2C851.7 172.0 857.9 175.1 863.6 177.4C869.4 179.7 876.7 180.1 882.0 182.0C887.4 183.9 892.8 186.2 895.9 188.9C898.9 191.6 900.9 195.0 900.5 198.1C900.1 201.2 897.0 205.0 893.6 207.3C890.1 209.6 883.2 209.6 879.7 211.9C876.3 214.2 873.6 216.9 872.8 221.1C872.1 225.4 874.0 231.9 875.1 237.3C876.3 242.6 879.2 248.0 879.7 253.4C880.3 258.7 880.1 264.5 878.6 269.5C877.1 274.5 873.0 278.7 870.5 283.3C868.0 287.9 865.9 292.9 863.6 297.1C861.3 301.3 860.2 306.5 856.7 308.6C853.3 310.8 846.2 311.1 842.9 309.8C839.6 308.4 837.0 304.6 837.1 300.6C837.3 296.6 841.8 290.8 844.1 285.6C846.4 280.4 850.4 274.9 851.0 269.5C851.5 264.1 849.6 258.4 847.5 253.4C845.4 248.4 841.8 244.2 838.3 239.6C834.8 235.0 830.6 230.7 826.8 225.7C822.9 220.8 818.3 215.0 815.3 209.6C812.2 204.2 809.9 199.3 808.4 193.5C806.8 187.7 806.2 180.8 806.1 175.1C805.9 169.3 806.1 163.6 807.2 159.0C808.4 154.4 809.3 149.7 813.0 147.4Z" fill="#D872F6" fill-opacity="0.92"/>
<path d="M836.0 294.8C839.1 293.0 851.7 296.4 856.7 298.3C861.7 300.2 866.3 304.2 865.9 306.3C865.5 308.5 859.0 310.9 854.4 311.4C849.8 311.9 841.4 311.9 838.3 309.1C835.2 306.3 832.9 296.6 836.0 294.8Z" fill="#D872F6" fill-opacity="0.85"/>
<path d="M935.0 59.9C940.0 54.8 948.8 55.5 955.7 54.2C962.6 52.8 970.7 50.9 976.5 51.9C982.2 52.8 988.4 55.1 990.3 59.9C992.2 64.7 989.5 74.1 988.0 80.7C986.4 87.2 984.5 94.5 981.1 99.1C977.6 103.7 971.9 106.4 967.3 108.3C962.6 110.2 958.0 110.4 953.4 110.6C948.8 110.8 945.0 110.2 939.6 109.4C934.2 108.7 927.3 106.0 921.2 106.0C915.1 106.0 907.4 108.7 902.8 109.4C898.2 110.2 894.3 111.6 893.6 110.6C892.8 109.6 894.3 106.0 898.2 103.7C902.0 101.4 912.0 99.9 916.6 96.8C921.2 93.7 922.7 91.4 925.8 85.3C928.9 79.1 930.0 65.1 935.0 59.9Z" fill="#50E8C0"/>
<path d="M981.1 48.4C984.9 44.8 994.5 44.4 1001.8 42.7C1009.1 40.9 1017.9 38.4 1024.8 38.1C1031.7 37.7 1039.2 37.5 1043.2 40.4C1047.3 43.2 1048.2 48.6 1049.0 55.3C1049.8 62.0 1048.6 73.4 1047.9 80.7C1047.1 88.0 1046.3 93.3 1044.4 99.1C1042.5 104.8 1038.1 110.6 1036.3 115.2C1034.6 119.8 1034.4 123.3 1034.0 126.7C1033.7 130.2 1035.6 132.9 1034.0 135.9C1032.5 139.0 1029.0 142.5 1024.8 145.1C1020.6 147.8 1013.2 150.7 1008.7 152.0C1004.2 153.4 1002.3 153.6 997.7 153.2C993.0 152.8 986.8 150.9 981.1 149.7C975.3 148.6 968.1 148.0 963.1 146.1C958.1 144.1 953.5 141.5 951.1 138.2C948.8 135.0 948.4 130.9 948.8 126.7C949.2 122.5 951.1 117.5 953.4 112.9C955.7 108.3 959.6 104.1 962.6 99.1C965.7 94.1 969.2 88.7 971.9 83.0C974.5 77.2 977.2 70.3 978.8 64.5C980.3 58.8 977.2 52.1 981.1 48.4Z" fill="#14C13C"/>
<path d="M1034.0 126.7C1038.3 124.8 1041.3 132.3 1045.5 133.6C1049.8 135.0 1054.0 135.6 1059.4 134.8C1064.7 133.9 1072.4 129.1 1077.8 128.6C1083.2 128.0 1087.0 129.3 1091.6 131.3C1096.2 133.3 1100.8 137.5 1105.4 140.5C1110.0 143.6 1114.6 146.3 1119.2 149.7C1123.8 153.2 1129.8 156.7 1133.1 161.3C1136.3 165.9 1138.8 171.6 1138.8 177.4C1138.8 183.1 1136.3 190.8 1133.1 195.8C1129.8 200.8 1123.8 204.2 1119.2 207.3C1114.6 210.4 1109.3 211.2 1105.4 214.2C1101.6 217.3 1098.9 220.8 1096.2 225.7C1093.5 230.7 1091.6 238.4 1089.3 244.2C1087.0 249.9 1084.7 255.3 1082.4 260.3C1080.1 265.3 1077.8 270.3 1075.5 274.1C1073.2 277.9 1071.3 282.5 1068.6 283.3C1065.9 284.1 1061.7 284.1 1059.4 278.7C1057.1 273.3 1057.1 259.5 1054.8 251.1C1052.5 242.6 1048.6 235.0 1045.5 228.0C1042.5 221.1 1039.4 215.8 1036.3 209.6C1033.3 203.5 1029.8 197.3 1027.1 191.2C1024.4 185.1 1022.1 178.1 1020.2 172.8C1018.3 167.4 1015.6 163.6 1015.6 159.0C1015.6 154.4 1017.1 150.5 1020.2 145.1C1023.3 139.8 1029.8 128.6 1034.0 126.7Z" fill="#00B1D8"/>
<path d="M951.1 126.7C955.0 121.7 961.5 134.8 967.3 138.2C973.0 141.7 980.3 144.8 985.7 147.4C991.0 150.1 996.8 150.1 999.5 154.4C1002.2 158.6 1001.8 166.6 1001.8 172.8C1001.8 178.9 1000.6 184.3 999.5 191.2C998.3 198.1 998.0 208.1 994.9 214.2C991.8 220.4 985.7 224.2 981.1 228.0C976.5 231.9 971.1 231.9 967.3 237.3C963.4 242.6 961.1 252.6 958.0 260.3C955.0 268.0 951.5 277.6 948.8 283.3C946.1 289.1 943.5 298.7 941.9 294.8C940.4 291.0 939.6 271.8 939.6 260.3C939.6 248.8 941.2 236.5 941.9 225.7C942.7 215.0 943.8 205.4 944.2 195.8C944.6 186.2 943.1 179.7 944.2 168.2C945.4 156.7 947.3 131.7 951.1 126.7Z" fill="#D3D3D3"/>
<path d="M999.5 159.0C1002.2 152.0 1008.3 151.3 1013.3 149.7C1018.3 148.2 1024.4 148.2 1029.4 149.7C1034.4 151.3 1039.8 154.0 1043.2 159.0C1046.7 163.9 1047.5 172.0 1050.2 179.7C1052.8 187.4 1054.8 199.3 1059.4 205.0C1064.0 210.8 1072.8 210.8 1077.8 214.2C1082.8 217.7 1087.0 221.1 1089.3 225.7C1091.6 230.3 1092.8 236.1 1091.6 241.9C1090.5 247.6 1085.5 253.4 1082.4 260.3C1079.3 267.2 1075.9 275.6 1073.2 283.3C1070.5 291.0 1068.6 297.9 1066.3 306.3C1064.0 314.8 1060.9 324.4 1059.4 334.0C1057.8 343.6 1058.2 355.1 1057.1 363.9C1055.9 372.7 1054.4 382.7 1052.5 386.9C1050.5 391.2 1047.9 391.9 1045.5 389.2C1043.2 386.6 1041.3 377.7 1038.6 370.8C1036.0 363.9 1032.5 355.5 1029.4 347.8C1026.4 340.1 1022.9 332.8 1020.2 324.8C1017.5 316.7 1016.0 308.3 1013.3 299.4C1010.6 290.6 1006.4 280.2 1004.1 271.8C1001.8 263.4 1000.6 256.4 999.5 248.8C998.3 241.1 997.6 235.3 997.2 225.7C996.8 216.1 996.8 202.3 997.2 191.2C997.6 180.1 996.8 165.9 999.5 159.0Z" fill="#72AD22"/>
<path d="M972.1 227.6C975.5 223.2 981.8 222.6 985.7 222.3C989.5 222.0 991.7 220.2 995.1 225.7C998.6 231.3 1002.6 245.8 1006.4 255.7C1010.2 265.6 1015.1 274.8 1018.1 285.2C1021.2 295.5 1022.9 308.3 1024.8 317.9C1026.7 327.4 1027.4 334.7 1029.7 342.7C1032.0 350.8 1035.2 359.6 1038.6 366.2C1042.1 372.8 1047.9 377.0 1050.2 382.3C1052.5 387.7 1054.0 393.8 1052.5 398.5C1050.9 403.1 1045.5 406.9 1040.9 410.0C1036.3 413.0 1030.2 415.3 1024.8 416.9C1019.5 418.4 1013.7 419.6 1008.7 419.2C1003.7 418.8 999.5 417.3 994.9 414.6C990.3 411.9 985.7 407.7 981.1 403.1C976.5 398.5 971.1 392.3 967.3 386.9C963.4 381.6 960.7 376.2 958.0 370.8C955.4 365.4 953.4 360.5 951.1 354.7C948.8 348.9 946.0 342.4 944.2 336.3C942.5 330.1 940.9 324.5 940.8 317.9C940.6 311.3 940.8 304.3 943.3 296.7C945.8 289.0 952.1 279.8 955.7 271.8C959.3 263.8 962.2 256.1 965.0 248.8C967.7 241.4 968.6 232.0 972.1 227.6Z" fill="#7397C3"/>
<path d="M898.2 195.8C899.7 190.8 903.5 187.0 907.4 184.3C911.2 181.6 916.6 180.8 921.2 179.7C925.8 178.5 930.4 177.4 935.0 177.4C939.6 177.4 945.4 177.4 948.8 179.7C952.3 182.0 955.4 187.0 955.7 191.2C956.1 195.4 953.4 201.2 951.1 205.0C948.8 208.9 944.6 210.4 941.9 214.2C939.2 218.1 936.5 222.3 935.0 228.0C933.5 233.8 932.5 241.5 932.7 248.8C932.9 256.1 934.6 264.1 936.2 271.8C937.7 279.5 940.6 287.9 941.9 294.8C943.3 301.7 945.0 309.4 944.2 313.2C943.5 317.1 940.0 320.2 937.3 317.9C934.6 315.5 931.2 306.0 928.1 299.4C925.0 292.9 922.0 286.0 918.9 278.7C915.8 271.4 912.4 263.4 909.7 255.7C907.0 248.0 904.7 239.6 902.8 232.6C900.9 225.7 898.9 220.4 898.2 214.2C897.4 208.1 896.6 200.8 898.2 195.8Z" fill="#FF3AA9"/>
<path d="M979.9 156.9h2v2h-2zm-8.2 15.2h2v2h-2zm15.5 40.6h2v2h-2zm-16.8 -23.9h2v2h-2zm-13.7 4.5h2v2h-2zm-4.8 8.4h2v2h-2zm9 -24.5h2v2h-2zm23.3 -16.6h2v2h-2zm-31 97h2v2h-2zm2.4 -121.6h2v2h-2zm33 28.3h2v2h-2zm-29 -20.3h2v2h-2zm9.3 43.8h2v2h-2zm-13.5 19.8h2v2h-2zm10.5 -11.1h2v2h-2zm-15.9 -44.3h2v2h-2zm41.6 29.2h2v2h-2zm-26.4 -23.4h2v2h-2zm21.5 30.7h2v2h-2zm-40.7 88.8h2v2h-2zm19.9 -85h2v2h-2zm9.7 -23.9h2v2h-2zm-16.3 71.4h2v2h-2zm18.2 -82.6h2v2h-2zm-0.9 17.7h2v2h-2zm-25.5 94.4h2v2h-2zm44.1 -104.6h2v2h-2zm-20.1 57.4h2v2h-2zm-16.5 -90.5h2v2h-2zm0.2 102.2h2v2h-2zm17.2 -22.5h2v2h-2zm-29.8 -50h2v2h-2zm11.8 34.2h2v2h-2zm-4.2 28.7h2v2h-2zm1.6 31.8h2v2h-2zm-2.6 -25.4h2v2h-2zm19.9 -40h2v2h-2zm-17.9 61.4h2v2h-2zm-10.5 -48.8h2v2h-2zm17.3 -5h2v2h-2zm8.6 -24.1h2v2h-2zm12.1 38.2h2v2h-2zm-11.9 -3.8h2v2h-2zm-9.5 -26.6h2v2h-2zm15.9 38.3h2v2h-2zm-20.5 -80.5h2v2h-2zm41.7 47.9h2v2h-2zm-52.3 48.3h2v2h-2zm26 -55.3h2v2h-2zm-12 15.1h2v2h-2zm38.4 -9.5h2v2h-2zm-34.5 -33.5h2v2h-2zm2.8 41.1h2v2h-2zm-13.3 64.5h2v2h-2zm27.5 -49.2h2v2h-2zm-12.6 -50.4h2v2h-2zm-18.6 75.3h2v2h-2zm32.4 -65h2v2h-2zm-3.1 -20.6h2v2h-2zm-2 6h2v2h-2zm-6.4 23.9h2v2h-2zm2.6 -30.3h2v2h-2zm-4.2 81.2h2v2h-2zm-21.7 -51.8h2v2h-2zm33.8 39.9h2v2h-2zm-6.6 -54.4h2v2h-2zm-12.9 38h2v2h-2zm22.6 -30.4h2v2h-2zm7.3 -15.2h2v2h-2zm-1.1 57.8h2v2h-2zm-8.7 2h2v2h-2zm10.8 -55.4h2v2h-2zm2.3 22.8h2v2h-2zm-17.1 -36.7h2v2h-2zm-28.9 28.9h2v2h-2zm39.6 -2h2v2h-2zm-4 -8.9h2v2h-2zm-39.8 117.2h2v2h-2zm28.7 -52.5h2v2h-2zm9.1 -25h2v2h-2zm5.4 -1.3h2v2h-2zm-31.4 48.5h2v2h-2zm34.2 -83.5h2v2h-2zm-8.5 24.9h2v2h-2zm-29.2 -30.1h2v2h-2zm45.3 25.4h2v2h-2zm-27.6 22.4h2v2h-2zm-30 42.4h2v2h-2zm20.5 -91.4h2v2h-2zm-0.6 87.8h2v2h-2zm19.3 -54.8h2v2h-2zm-8.3 -42.4h2v2h-2zm-20.3 95.6h2v2h-2zm-6.4 -75.1h2v2h-2zm33.6 34.7h2v2h-2zm-16 16.2h2v2h-2zm-9.9 -23.8h2v2h-2zm-13.5 60.8h2v2h-2zm15.7 5.4h2v2h-2zm18.6 -38.6h2v2h-2zm4.5 -80h2v2h-2zm9.4 28h2v2h-2zm11 -17.3h2v2h-2zm-53 37.5h2v2h-2zm25.4 -44.2h2v2h-2zm-7.6 0h2v2h-2zm-12.7 72h2v2h-2zm0.4 -17.2h2v2h-2zm21.7 -6h2v2h-2zm-21.1 -67.4h2v2h-2zm21.1 30.1h2v2h-2zm15.1 14.9h2v2h-2zm-3.4 -13.1h2v2h-2zm-22.1 42.3h2v2h-2zm-19 27.5h2v2h-2zm38.9 -82.4h2v2h-2zm-36.7 115.2h2v2h-2zm9.2 -126.8h2v2h-2zm0.2 0.3h2v2h-2zm14.7 27.6h2v2h-2zm-11.7 35.5h2v2h-2zm1.8 -59.4h2v2h-2zm-18.2 109.1h2v2h-2zm22.1 -74.8h2v2h-2zm-19.9 106.9h2v2h-2zm27.4 -85.3h2v2h-2zm19.8 5.9h2v2h-2zm-40.6 -11.7h2v2h-2zm44.3 0.3h2v2h-2zm-14.3 25.5h2v2h-2zm-12.4 2.5h2v2h-2zm-13.4 -2.9h2v2h-2zm37.1 -14.7h2v2h-2zm-44.2 -28.5h2v2h-2zm4.5 57.5h2v2h-2zm7.5 -7.6h2v2h-2zm0.8 -78.8h2v2h-2zm20.7 26.7h2v2h-2zm7.5 3.1h2v2h-2zm-42 71.5h2v2h-2zm-2.9 34.5h2v2h-2zm-2.7 -35.7h2v2h-2zm21.3 -91.5h2v2h-2zm1.7 54.1h2v2h-2zm1.2 -63.7h2v2h-2zm6.7 29.9h2v2h-2zm-5.4 -12.1h2v2h-2zm33.2 15.7h2v2h-2zm-42.9 -35.7h2v2h-2zm37 15.7h2v2h-2zm-37.2 -8.4h2v2h-2zm15.1 45.8h2v2h-2zm-17.5 22.8h2v2h-2zm4 4.2h2v2h-2zm0 21.9h2v2h-2zm-10.9 -40.8h2v2h-2zm6 -65.9h2v2h-2zm18.3 9.3h2v2h-2zm18.9 47.1h2v2h-2zm-35.4 -29.6h2v2h-2zm43 28.1h2v2h-2zm-15.6 30.2h2v2h-2zm1.8 -52.1h2v2h-2zm-14 -15.3h2v2h-2zm-3.7 16h2v2h-2zm9.2 2.9h2v2h-2zm-19.3 57.7h2v2h-2zm-11.8 26.7h2v2h-2zm25.5 -96.2h2v2h-2zm-23.6 47h2v2h-2zm16.1 -16.2h2v2h-2zm32.2 -23.3h2v2h-2zm-39.5 90.9h2v2h-2zm22.1 -102.6h2v2h-2zm-33.1 110.8h2v2h-2zm5.9 -101.5h2v2h-2zm27.4 -11h2v2h-2zm-32.3 78.5h2v2h-2zm0.5 -31.1h2v2h-2zm19.9 -17h2v2h-2zm14 4.7h2v2h-2zm-5 19h2v2h-2zm16.8 -46.2h2v2h-2zm2.5 4.5h2v2h-2zm-5.7 34.9h2v2h-2zm-29.6 -17.9h2v2h-2zm-8.8 -35.8h2v2h-2zm24.7 9.5h2v2h-2zm-14.4 -18.5h2v2h-2zm-11.3 103.4h2v2h-2zm4.3 22h2v2h-2zm4.9 -97.6h2v2h-2zm8.3 18.9h2v2h-2zm-26.3 80.9h2v2h-2zm58.9 -106.4h2v2h-2zm-44 -34.3h2v2h-2zm-9.5 115.2h2v2h-2zm30 -34.5h2v2h-2zm-20.9 -36.6h2v2h-2zm-7.5 94.4h2v2h-2zm-6.5 -23.1h2v2h-2zm8.3 -28.7h2v2h-2zm6.9 -23.7h2v2h-2zm-4.6 52h2v2h-2zm27.2 -18.4h2v2h-2zm-3.8 -45.9h2v2h-2zm22.4 7.6h2v2h-2zm-51.3 -6.4h2v2h-2zm21.3 21.6h2v2h-2zm19.6 -24.2h2v2h-2zm-40.5 50.8h2v2h-2zm43.5 -62.5h2v2h-2zm-42.3 -18.9h2v2h-2zm22.7 33.4h2v2h-2zm8.6 -27h2v2h-2zm-34.6 46.9h2v2h-2zm10.1 -24.8h2v2h-2zm15.8 15.1h2v2h-2zm9.6 18.6h2v2h-2zm-20.1 17h2v2h-2zm3.8 -58h2v2h-2zm9.8 19.2h2v2h-2zm-3.1 4.8h2v2h-2zm-24.2 55h2v2h-2zm0.8 -22.3h2v2h-2zm8.2 -3.7h2v2h-2zm8.2 -47.2h2v2h-2zm-2.9 41.5h2v2h-2zm7.9 1.6h2v2h-2zm10.2 -12.5h2v2h-2zm0.7 9.3h2v2h-2zm-24.7 -25.6h2v2h-2zm-0.7 54.4h2v2h-2zm18.8 -16.7h2v2h-2zm-12.6 -3.2h2v2h-2zm38.9 -57h2v2h-2zm-27.1 23.3h2v2h-2zm-21.2 29h2v2h-2zm-0.7 47.5h2v2h-2zm14.5 -49.3h2v2h-2zm-4.2 -65.9h2v2h-2zm-12.2 24.9h2v2h-2zm35.3 46.5h2v2h-2zm-36 37.2h2v2h-2zm24 -110.7h2v2h-2zm18.8 14.4h2v2h-2zm-30.9 76.4h2v2h-2zm15.8 -68.5h2v2h-2zm-19.6 44.9h2v2h-2zm-7.3 53.2h2v2h-2zm46.9 -103.8h2v2h-2zm-47.7 90.2h2v2h-2zm40.1 -79.4h2v2h-2zm-41.6 -4.1h2v2h-2zm41.9 31.1h2v2h-2zm2.7 -51.7h2v2h-2zm-44.1 31.9h2v2h-2zm48.1 -31.5h2v2h-2zm-50.1 99.4h2v2h-2zm1.1 -14.3h2v2h-2z" fill="#FF3AA9"/>
<path d="M943.8 167.2h2v2h-2zm20.3 34.1h2v2h-2zm-10.4 57h2v2h-2zm-7.2 -67.8h2v2h-2zm10.3 -17.3h2v2h-2zm27.8 -11.5h2v2h-2zm-25.8 11.5h2v2h-2zm9.7 16.4h2v2h-2zm-1.9 31.4h2v2h-2zm25.6 -52.2h2v2h-2zm-37.5 -25.7h2v2h-2zm-6.3 55.3h2v2h-2zm45.7 -9.5h2v2h-2zm-47.8 43.8h2v2h-2zm33.4 -55.3h2v2h-2zm-9.1 -3.3h2v2h-2zm-4.2 30.3h2v2h-2zm26.5 -9.2h2v2h-2zm-41 57h2v2h-2zm15.8 -57.4h2v2h-2zm-16.9 65.4h2v2h-2zm48.6 -97.3h2v2h-2zm-37.4 32.5h2v2h-2zm-0.7 -51.6h2v2h-2zm-18.4 69.1h2v2h-2zm32 -12h2v2h-2zm-14.5 -4.9h2v2h-2zm15 21h2v2h-2zm-10.3 -49.2h2v2h-2zm-6.9 40.9h2v2h-2zm15.4 -48.2h2v2h-2zm20.3 5h2v2h-2zm-6.8 34.5h2v2h-2zm-15.1 15.3h2v2h-2zm17.6 -38.8h2v2h-2zm-46.8 42.2h2v2h-2zm36.5 -55.3h2v2h-2zm-38.6 86.2h2v2h-2zm36.8 -76.9h2v2h-2zm-11.2 -7.8h2v2h-2z" fill="#14C13C"/>
<path d="M950.2 156.2h2v2h-2zm39.1 45.7h2v2h-2zm-6.2 -17.8h2v2h-2zm-3.8 7.6h2v2h-2zm-5.7 -33.9h2v2h-2zm-28.8 24.1h2v2h-2zm8.2 85.5h2v2h-2zm30.3 -91h2v2h-2zm-30.2 67.7h2v2h-2zm4.1 3.2h2v2h-2zm15.3 -56.3h2v2h-2zm14 -12.3h2v2h-2zm-34.9 78.8h2v2h-2zm35 -95.1h2v2h-2zm-31.9 75.2h2v2h-2zm25.5 -77.3h2v2h-2zm-8.3 65.9h2v2h-2zm12 -67.2h2v2h-2zm-26 24.4h2v2h-2zm-13.3 0.9h2v2h-2zm39.4 38.5h2v2h-2zm-34.6 25.9h2v2h-2zm-3.5 3.3h2v2h-2zm1.9 -110.1h2v2h-2zm6.5 70.4h2v2h-2zm42.7 -38.9h2v2h-2zm-23.5 -4.8h2v2h-2zm-14.9 -9.5h2v2h-2zm-18.5 107.1h2v2h-2zm54.5 -94.7h2v2h-2z" fill="#00B1D8"/>
<path d="M951.8 145.3h2v2h-2zm9.7 0.5h2v2h-2zm-11.7 22h2v2h-2zm24.8 32.9h2v2h-2zm-17 13.4h2v2h-2zm10.6 -33h2v2h-2zm-21.2 93.5h2v2h-2zm-6.3 -31.1h2v2h-2zm12.7 -27.7h2v2h-2zm37.1 -31.2h2v2h-2zm-39.9 46.4h2v2h-2zm-0.3 14.2h2v2h-2zm21.2 -90.2h2v2h-2zm-25 7.3h2v2h-2zm39.7 42.5h2v2h-2zm10.4 -22.3h2v2h-2zm-2.6 -23.1h2v2h-2zm-48.1 109h2v2h-2zm30.1 -125.9h2v2h-2zm-17.6 98.3h2v2h-2zm-17.1 41.8h2v2h-2zm16 -65.2h2v2h-2zm-13.8 52.8h2v2h-2zm37.2 -73h2v2h-2zm15.4 2.2h2v2h-2z" fill="#72AD22"/>
<path d="M955.7 130.6h2v2h-2zm40.3 40.6h2v2h-2zm-44.3 -20.9h2v2h-2zm23.2 -2.5h2v2h-2zm-29.8 138.2h2v2h-2zm-3.9 -43.4h2v2h-2zm28.1 -34.3h2v2h-2zm-21.7 3.5h2v2h-2zm45.5 -15.5h2v2h-2zm-37.9 -30.4h2v2h-2zm12 68.7h2v2h-2zm3.2 -22.7h2v2h-2zm-12.3 -65.3h2v2h-2zm-0.7 101.7h2v2h-2zm-6 -29.3h2v2h-2zm-2.3 -35.4h2v2h-2zm2.6 -40h2v2h-2zm19 76.6h2v2h-2zm8.7 4.5h2v2h-2zm-5.2 -77.3h2v2h-2zm-9.1 49.1h2v2h-2zm0.4 23.5h2v2h-2zm-4.4 -28.5h2v2h-2zm4.1 -3.3h2v2h-2zm-25.5 58.8h2v2h-2zm23.5 -45.8h2v2h-2zm12.2 -13.8h2v2h-2zm-21.9 -59.1h2v2h-2zm2.9 75.6h2v2h-2zm2.4 -68.4h2v2h-2zm-5.2 33.1h2v2h-2zm14.2 22.3h2v2h-2zm-14.7 69h2v2h-2zm-7.4 -34.4h2v2h-2zm21.5 -75.4h2v2h-2zm-24.8 98.6h2v2h-2zm0.5 13h2v2h-2zm37.1 -56.4h2v2h-2zm-4.8 -8.8h2v2h-2zm8.8 -50.3h2v2h-2zm-31.1 37.1h2v2h-2zm21.3 -3h2v2h-2zm-24.3 66.5h2v2h-2zm47.9 -66h2v2h-2zm-21.5 -36.5h2v2h-2zm-12.2 86.2h2v2h-2zm14.2 -47.2h2v2h-2zm-4.8 -28.8h2v2h-2zm-15.8 75.2h2v2h-2zm-3.2 -5.5h2v2h-2zm1.3 33h2v2h-2zm-7.5 -87.4h2v2h-2zm0.6 -11.7h2v2h-2zm-2.1 3.5h2v2h-2zm12.5 30.5h2v2h-2zm26.6 1.5h2v2h-2zm-17.7 -1.2h2v2h-2zm-5.9 -21h2v2h-2zm-15.3 103.1h2v2h-2zm14 -31.3h2v2h-2zm6.3 -28.9h2v2h-2zm-15.8 -58.8h2v2h-2zm8 84.8h2v2h-2zm23.3 -41.8h2v2h-2zm-31 65.5h2v2h-2zm21 -83.3h2v2h-2zm-18.7 -6h2v2h-2zm1.9 9.2h2v2h-2zm23.3 -39.1h2v2h-2zm-24.6 69.7h2v2h-2zm10.6 -48.1h2v2h-2zm-5.5 -33h2v2h-2zm39.9 35.4h2v2h-2zm-20.5 16.8h2v2h-2zm14.7 -9.9h2v2h-2zm-49 -16.6h2v2h-2zm11.3 12.4h2v2h-2zm-14.9 57.2h2v2h-2zm19.1 -71.6h2v2h-2zm-6.4 -3.7h2v2h-2zm16.4 2.5h2v2h-2zm-21 10.5h2v2h-2zm21.2 39.4h2v2h-2zm23.6 -1.4h2v2h-2zm-53 61h2v2h-2zm6.3 -38.4h2v2h-2zm16.5 -75.2h2v2h-2zm15.6 27.6h2v2h-2zm-32.7 -26h2v2h-2zm16.7 -6.3h2v2h-2zm-1 71.3h2v2h-2zm10.3 -24.8h2v2h-2zm13.3 22.2h2v2h-2zm-40.3 -47.2h2v2h-2zm-1.2 104.2h2v2h-2zm13.9 -78.6h2v2h-2zm13.5 -51.5h2v2h-2zm-13.8 7.5h2v2h-2zm3.4 33.2h2v2h-2zm-13.5 82.2h2v2h-2zm11.5 -85.9h2v2h-2zm33.8 5.4h2v2h-2zm-11.8 8.5h2v2h-2zm-8.6 -6.9h2v2h-2zm15.3 -9.7h2v2h-2zm0.6 37.6h2v2h-2zm-15.9 1.8h2v2h-2zm-9 3h2v2h-2zm-19.9 60.9h2v2h-2zm42.8 -128.9h2v2h-2zm-38.7 63h2v2h-2zm15.1 -8.2h2v2h-2zm-5.9 42.5h2v2h-2zm23.7 -47.2h2v2h-2zm1.8 6.5h2v2h-2zm8.5 -57.3h2v2h-2zm-31.9 95h2v2h-2zm30.2 -57.3h2v2h-2zm-46.4 33.1h2v2h-2zm15.2 -51.9h2v2h-2z" fill="#FFFFFF"/>
<path d="M1014 189.5h2v2h-2zm13.5 50.6h2v2h-2zm-30.5 21.9h2v2h-2zm4.7 51.5h2v2h-2zm58.5 -124.4h2v2h-2zm-85.8 37.3h2v2h-2zm0.3 10.7h2v2h-2zm101.7 -27.8h2v2h-2zm-90 -27.4h2v2h-2zm6.3 4.6h2v2h-2zm31.1 33.7h2v2h-2zm17.8 36h2v2h-2zm-9.3 -36.1h2v2h-2zm16.7 53.8h2v2h-2zm-2.5 -30.1h2v2h-2zm-30.5 -25.6h2v2h-2zm-51.8 24.9h2v2h-2zm70.4 -38.7h2v2h-2zm28.9 87h2v2h-2zm-44.6 -88.4h2v2h-2zm-26.5 77.6h2v2h-2zm87.1 -86.5h2v2h-2zm-119.4 33.4h2v2h-2zm41.9 33.8h2v2h-2zm-28.9 34h2v2h-2zm27.5 8.9h2v2h-2zm-1.1 -83.3h2v2h-2zm-18.7 91.2h2v2h-2zm50.5 -19.3h2v2h-2zm-64.3 -39.1h2v2h-2zm81.8 60.9h2v2h-2zm24.9 -121.6h2v2h-2zm-68.8 123.7h2v2h-2zm19.7 -5.8h2v2h-2zm-34.3 -128.7h2v2h-2zm84.5 32.9h2v2h-2zm-47 13.4h2v2h-2zm2 79.2h2v2h-2zm-39.1 -15.6h2v2h-2zm-29.1 -55.9h2v2h-2zm113 -22.3h2v2h-2zm-70.4 45.2h2v2h-2zm-16 17.5h2v2h-2zm50.8 -84.8h2v2h-2zm32.6 -3.2h2v2h-2zm-27.2 38.2h2v2h-2zm-67.5 -37.3h2v2h-2zm38.4 99h2v2h-2zm9 -71.8h2v2h-2zm-1.7 97.6h2v2h-2zm25.9 -43.1h2v2h-2zm13.7 -36h2v2h-2zm-34.6 60.8h2v2h-2zm-43.9 1.4h2v2h-2zm-21.4 -44.5h2v2h-2zm67.2 -54h2v2h-2zm42.4 40.5h2v2h-2zm-90 -3.8h2v2h-2zm49.6 2.4h2v2h-2zm-71.8 -46.6h2v2h-2zm86.7 5.5h2v2h-2zm-55.9 93.4h2v2h-2zm-9.9 -110.9h2v2h-2zm70.8 82h2v2h-2zm-47.6 -80.2h2v2h-2zm8.2 30.2h2v2h-2zm19.1 102.8h2v2h-2zm-46.2 -125.1h2v2h-2zm59.2 4.5h2v2h-2zm-57.5 45.8h2v2h-2zm93.1 -15.9h2v2h-2zm-81.8 20.8h2v2h-2zm-18.7 -10h2v2h-2zm65.6 -10.8h2v2h-2zm11.7 -19.3h2v2h-2zm-84.8 61.1h2v2h-2zm42.9 40.2h2v2h-2zm-42.4 -23.7h2v2h-2zm68.9 -51.9h2v2h-2zm-66.1 33.3h2v2h-2zm76.9 -19.2h2v2h-2zm-34.9 29.4h2v2h-2zm16.7 -36.2h2v2h-2zm-51.6 5.5h2v2h-2zm44.4 59.8h2v2h-2zm54.3 -46.9h2v2h-2zm-81.4 -46.1h2v2h-2zm36.9 71.2h2v2h-2zm-46.7 -6.6h2v2h-2zm91.7 -41.3h2v2h-2zm-7.4 6.2h2v2h-2zm-35 59.4h2v2h-2zm-54.7 -72h2v2h-2zm95.3 -38.7h2v2h-2zm-82.8 56.8h2v2h-2zm53.6 21.3h2v2h-2zm22.5 5.4h2v2h-2zm-113.3 -82.7h2v2h-2zm4.3 49.8h2v2h-2zm-1.2 13.1h2v2h-2zm74 -44.8h2v2h-2zm27.2 29.2h2v2h-2zm12.7 -7.7h2v2h-2zm-41.5 25.5h2v2h-2zm-43.6 32.8h2v2h-2zm-31.6 -73.2h2v2h-2zm38.7 87.4h2v2h-2zm21.9 -116.9h2v2h-2zm-24.6 79.2h2v2h-2zm62.3 -69.1h2v2h-2zm-3.6 38.8h2v2h-2zm-31.2 4.3h2v2h-2zm-10.4 78.6h2v2h-2zm36.2 -40.1h2v2h-2zm-72.5 -91.8h2v2h-2zm84.2 88.1h2v2h-2zm-24.5 -49.8h2v2h-2zm-44.4 84h2v2h-2zm32.4 -124.5h2v2h-2zm-23.4 45.5h2v2h-2zm-33.3 86.9h2v2h-2zm-7.7 -77.4h2v2h-2zm13.1 42.6h2v2h-2zm85.1 8.8h2v2h-2zm-2.1 -92.4h2v2h-2zm-95 -3.9h2v2h-2zm101.2 101.8h2v2h-2zm-39.9 -82.2h2v2h-2zm41.6 -15.8h2v2h-2zm-64.9 -16.4h2v2h-2zm80.3 57.1h2v2h-2zm-25.8 53.4h2v2h-2zm-23.2 25.6h2v2h-2zm23.6 -8.2h2v2h-2zm23 -116.8h2v2h-2zm-25.9 19.9h2v2h-2zm-52 16h2v2h-2zm81 -38.9h2v2h-2zm-67.6 9.4h2v2h-2zm68.7 50.8h2v2h-2zm-36.1 3.3h2v2h-2zm8 -25.3h2v2h-2zm-43.2 56.3h2v2h-2zm35.3 19.8h2v2h-2zm-48 -5.4h2v2h-2zm52.2 -38h2v2h-2zm-40.1 -0.9h2v2h-2zm-40.5 -64.9h2v2h-2zm28.6 3.6h2v2h-2zm-32 82h2v2h-2zm83.3 -13.9h2v2h-2zm-64.1 14.6h2v2h-2zm75.6 -14.2h2v2h-2zm-73 -7.5h2v2h-2zm20.4 -40.9h2v2h-2zm-30 82.4h2v2h-2zm59 9.3h2v2h-2zm-56.2 -92.3h2v2h-2zm41.2 -28.4h2v2h-2zm-25.3 66.5h2v2h-2zm21.9 51.1h2v2h-2zm11.7 -37.6h2v2h-2zm1 20.4h2v2h-2zm-26.7 -108.4h2v2h-2zm-29.3 15.3h2v2h-2zm11.7 75.5h2v2h-2zm-11.2 -88.2h2v2h-2zm44.4 -1.9h2v2h-2zm-28.8 52h2v2h-2zm-6.5 -52.5h2v2h-2zm6.7 33.4h2v2h-2zm7.8 23.6h2v2h-2zm4.4 -12.5h2v2h-2zm-41.6 70.9h2v2h-2zm87.7 -47.6h2v2h-2zm-89.7 -35.9h2v2h-2zm109.6 31h2v2h-2zm-84.9 50.1h2v2h-2zm83.7 -96.4h2v2h-2zm-47.6 60.6h2v2h-2zm-46.8 -33.4h2v2h-2zm61.1 48.9h2v2h-2zm1.2 -7.3h2v2h-2zm-30.5 -76.2h2v2h-2zm-44.2 106.2h2v2h-2zm7.3 -9.4h2v2h-2zm11.7 -58.5h2v2h-2zm3.5 71h2v2h-2zm75.5 -3.8h2v2h-2zm-53.4 14.3h2v2h-2zm-14.8 -50h2v2h-2zm50.4 -47h2v2h-2zm-35.6 -18.5h2v2h-2zm50.7 11.6h2v2h-2zm-80.7 13h2v2h-2zm61.6 49.6h2v2h-2zm-14.1 29.9h2v2h-2zm27.8 -88.9h2v2h-2zm-26.6 -5.6h2v2h-2zm-35.7 -3.1h2v2h-2zm-20.2 28.1h2v2h-2zm98.8 42.2h2v2h-2zm-97.4 -60.4h2v2h-2zm61.4 43h2v2h-2zm-68.9 -60.2h2v2h-2zm65.8 70h2v2h-2zm-59.2 23.8h2v2h-2zm19.5 -25.4h2v2h-2zm35.3 -34.4h2v2h-2zm50.8 7.6h2v2h-2zm-63.8 20h2v2h-2zm42.3 -0.2h2v2h-2zm-6.5 13.8h2v2h-2zm5.3 -58.3h2v2h-2zm-23.4 30.8h2v2h-2zm-41.1 47.3h2v2h-2zm-1.3 -10h2v2h-2zm32.8 -39h2v2h-2zm26.5 41.1h2v2h-2zm11.4 -63.7h2v2h-2zm-16 32h2v2h-2zm33.1 -6.6h2v2h-2zm-71.1 -58.2h2v2h-2zm13.7 70h2v2h-2zm-19.7 -59.1h2v2h-2zm21.4 -4.8h2v2h-2zm-38.1 51.6h2v2h-2zm21.5 7.8h2v2h-2zm22.2 -15.4h2v2h-2zm-48.4 -51.2h2v2h-2zm52 131.5h2v2h-2zm-33.9 -85.4h2v2h-2zm4.6 54h2v2h-2zm21.2 7.4h2v2h-2zm-59.5 -91.7h2v2h-2zm24.5 32.7h2v2h-2zm23.6 2.2h2v2h-2zm69.1 7.5h2v2h-2zm-47.6 72.4h2v2h-2zm8.1 -51h2v2h-2zm22.7 -35.9h2v2h-2zm-96.7 86.1h2v2h-2zm60.9 -51.9h2v2h-2zm-57.1 22.5h2v2h-2zm37.5 -14.1h2v2h-2zm-11 38h2v2h-2zm10.4 -88.7h2v2h-2zm64 -7.4h2v2h-2zm-76 36.6h2v2h-2zm86.7 -51.3h2v2h-2zm-94.1 93.9h2v2h-2zm-16.5 -52.7h2v2h-2zm86.4 41.3h2v2h-2zm1.2 -82.3h2v2h-2zm11.9 33.1h2v2h-2zm-9.3 15.9h2v2h-2zm9.4 0.8h2v2h-2zm-77.3 -45.2h2v2h-2zm29.1 -13.9h2v2h-2zm-40.5 113.9h2v2h-2z" fill="#00B1D8"/>
<path d="M1026.2 183.3h2v2h-2zm-20.4 -19.4h2v2h-2zm15.4 -18.9h2v2h-2zm-10 41.2h2v2h-2zm22.3 -20.9h2v2h-2zm-5.5 17.8h2v2h-2zm16.6 -13.4h2v2h-2zm-43.7 14h2v2h-2zm5.6 -32h2v2h-2zm-1.4 13.8h2v2h-2zm21.6 -2.6h2v2h-2zm-5.5 -16.2h2v2h-2zm12 20.1h2v2h-2zm-19.8 15h2v2h-2zm30.5 4.5h2v2h-2zm2.2 -43.3h2v2h-2zm-28.8 19.3h2v2h-2zm-6.4 14.9h2v2h-2zm31.4 -30.6h2v2h-2zm-19.3 41.9h2v2h-2zm18.5 -26.1h2v2h-2zm-37.9 0.3h2v2h-2zm19.9 16.6h2v2h-2zm-16 -25.6h2v2h-2zm38.6 -13.6h2v2h-2zm-18.1 4.2h2v2h-2zm6.8 16.7h2v2h-2zm8.4 -10.1h2v2h-2zm-2.3 0.2h2v2h-2zm-40.1 -7.2h2v2h-2zm1.4 15.3h2v2h-2zm43.3 -1.7h2v2h-2zm-12.3 -16.2h2v2h-2zm-9.8 25.6h2v2h-2zm-20.2 2h2v2h-2zm16.9 -12.8h2v2h-2zm18.6 18.5h2v2h-2zm-34.4 -29.7h2v2h-2zm-3.3 8h2v2h-2zm28.3 35.7h2v2h-2zm16 -5.3h2v2h-2zm-40.8 -3.6h2v2h-2zm30.9 -16.2h2v2h-2zm11.2 6.4h2v2h-2zm-42.4 -19.4h2v2h-2zm0.6 20h2v2h-2zm23.9 12.5h2v2h-2zm-29.7 -43h2v2h-2zm46.5 12.8h2v2h-2zm-34.2 30.6h2v2h-2zm-7.4 -3.7h2v2h-2zm38 -11.7h2v2h-2zm-14 -28.2h2v2h-2zm-0.1 30.8h2v2h-2zm8 -4.9h2v2h-2zm-31.8 -14.9h2v2h-2zm26.1 -7.2h2v2h-2zm-26.4 8.6h2v2h-2zm33.3 15h2v2h-2zm-21.2 21.2h2v2h-2zm10.8 -36.8h2v2h-2zm-0.8 31.3h2v2h-2zm-9.5 -21.4h2v2h-2zm10.1 28h2v2h-2zm3 -40.8h2v2h-2zm-2.8 7.1h2v2h-2zm-5.2 19.9h2v2h-2zm-21.9 -10.4h2v2h-2zm14.2 4.6h2v2h-2zm24.5 -6.7h2v2h-2zm-9.3 -9h2v2h-2zm-18 11.2h2v2h-2zm13.3 -14.5h2v2h-2zm11.3 13.9h2v2h-2zm-19.8 -12.4h2v2h-2zm23.3 32.8h2v2h-2zm4.9 -33.1h2v2h-2zm-42 19.4h2v2h-2zm-2.2 11.4h2v2h-2zm31.6 -26.3h2v2h-2z" fill="#72AD22"/>
<path d="M989.1 355.7h2v2h-2zm-31.4 -62.6h2v2h-2zm69.9 62.2h2v2h-2zm-63.6 -83.5h2v2h-2zm39.7 131.5h2v2h-2zm-2 -1.2h2v2h-2zm-9.6 -78.9h2v2h-2zm-20.9 -10.5h2v2h-2zm-9.3 31.4h2v2h-2zm34.7 -29.2h2v2h-2zm21.4 23.9h2v2h-2zm-5.4 -19h2v2h-2zm-68.8 -9.6h2v2h-2zm14.3 50.2h2v2h-2zm85 31.2h2v2h-2zm-31.3 -11.4h2v2h-2zm-62.2 -67.7h2v2h-2zm-2.7 18.5h2v2h-2zm57.2 -73.9h2v2h-2zm-27.3 -6.4h2v2h-2zm14.8 -20.3h2v2h-2zm21.5 118.2h2v2h-2zm27.7 23.9h2v2h-2zm-40.4 33.1h2v2h-2zm-5.7 -168.3h2v2h-2zm-18.5 114.4h2v2h-2zm42.8 -39.8h2v2h-2zm-48.5 -7.8h2v2h-2zm-13.1 12.5h2v2h-2zm12.2 56.7h2v2h-2zm4.3 -135.1h2v2h-2zm20.2 154.3h2v2h-2zm24.2 -49h2v2h-2zm-24.7 8.7h2v2h-2zm4.5 -94.9h2v2h-2zm-23.7 131.7h2v2h-2zm28.8 -67.1h2v2h-2zm15.9 -3.7h2v2h-2zm-36.4 11.8h2v2h-2zm-11.3 49.7h2v2h-2zm41.1 -39.3h2v2h-2zm11.8 46.2h2v2h-2zm-56.1 -84.5h2v2h-2zm12 -65.7h2v2h-2zm14.3 92.2h2v2h-2zm-14.8 27.8h2v2h-2zm19.8 -37.2h2v2h-2zm-30.8 -54h2v2h-2zm45.9 23.2h2v2h-2zm29.9 110.5h2v2h-2zm-47.3 -157.1h2v2h-2zm-17.3 -5.8h2v2h-2zm15.9 173.7h2v2h-2zm-12.6 -104.7h2v2h-2zm24.5 20h2v2h-2zm29 72.5h2v2h-2zm-10 -48.7h2v2h-2zm-46.3 -34.4h2v2h-2zm22 52.3h2v2h-2zm45.6 17.2h2v2h-2zm-19.9 23.9h2v2h-2zm-8.3 -78.7h2v2h-2zm12 50.9h2v2h-2zm-21.8 -27h2v2h-2zm-50.3 -65.1h2v2h-2zm16.4 102.5h2v2h-2zm3.7 -92.7h2v2h-2zm30.4 10.2h2v2h-2zm-19 101.8h2v2h-2zm-20.5 -85h2v2h-2zm22.5 -75.6h2v2h-2zm-37.1 71.9h2v2h-2zm0 -48.5h2v2h-2zm30.8 97.5h2v2h-2zm1.5 -66.4h2v2h-2zm-3.7 20.2h2v2h-2zm16.3 -33.3h2v2h-2zm14.3 2.5h2v2h-2zm-27.2 -9.2h2v2h-2zm11.2 -7.2h2v2h-2zm15.3 25.7h2v2h-2zm-23.8 28.7h2v2h-2zm29.2 18.7h2v2h-2zm-32.3 -111.5h2v2h-2zm-27.4 19.2h2v2h-2zm53.4 31h2v2h-2zm-46.5 -31.1h2v2h-2zm-11.3 98.3h2v2h-2zm48.5 -84.8h2v2h-2zm25.9 83.5h2v2h-2z" fill="#72AD22"/>
<path d="M987.3 255.2h2v2h-2zm-4.2 -16.3h2v2h-2zm10.6 -8.2h2v2h-2zm-29.1 49.9h2v2h-2zm22.4 -57.3h2v2h-2zm9.4 8.9h2v2h-2zm-32.4 41.2h2v2h-2zm34.4 0.4h2v2h-2zm-21.3 -20.7h2v2h-2zm-1.3 17.5h2v2h-2zm-5.2 -12.6h2v2h-2zm26.3 -22.3h2v2h-2zm-2.4 34h2v2h-2zm-16.5 -1h2v2h-2zm-5.6 -11.7h2v2h-2zm24.7 -14.7h2v2h-2zm-16 -9.4h2v2h-2zm-12.1 44.8h2v2h-2zm31.6 -26.3h2v2h-2zm3.8 4.2h2v2h-2zm-33.2 -14.3h2v2h-2zm0.2 20.4h2v2h-2zm-3.5 -0.8h2v2h-2zm33.8 1.5h2v2h-2zm-27.1 13.5h2v2h-2zm5.8 -5.9h2v2h-2zm25.9 1.2h2v2h-2zm-21.5 -3h2v2h-2zm-22.7 3.2h2v2h-2zm-0.7 2.8h2v2h-2zm24.5 -19.8h2v2h-2zm10.9 24.4h2v2h-2zm-3.5 -28.3h2v2h-2zm-3.4 -8.8h2v2h-2zm17.4 35.7h2v2h-2zm-38.6 -12.4h2v2h-2zm11.5 -16.3h2v2h-2zm-2.5 24.4h2v2h-2zm6.8 -30.9h2v2h-2zm-12.8 4.4h2v2h-2zm-16.1 33.1h2v2h-2zm21 -28.8h2v2h-2zm-10.2 21.1h2v2h-2zm9 -23.5h2v2h-2zm-2.9 6h2v2h-2zm23.9 -19.9h2v2h-2zm11.8 34.6h2v2h-2zm-32 -23.7h2v2h-2zm-0.4 10.5h2v2h-2zm7.4 -10h2v2h-2zm11.9 13.3h2v2h-2zm-27.6 11.8h2v2h-2zm15.1 7.9h2v2h-2zm-25 0.2h2v2h-2zm23.4 -15h2v2h-2zm11.2 15.7h2v2h-2zm5.5 -30.3h2v2h-2zm-26.2 -22.8h2v2h-2zm31.3 24.1h2v2h-2zm-11.8 -4.7h2v2h-2zm2.5 -15h2v2h-2zm-23.1 -2h2v2h-2zm4.8 22.3h2v2h-2zm-19.8 26.2h2v2h-2zm38.8 -30.3h2v2h-2zm-33.9 22.4h2v2h-2zm48.5 2.9h2v2h-2zm-18.7 2.8h2v2h-2zm25.7 6.4h2v2h-2zm-30.6 -34.2h2v2h-2zm8.1 -19.6h2v2h-2zm-18.7 43.5h2v2h-2zm23.7 -12.3h2v2h-2zm-24.2 10.9h2v2h-2zm-16.9 -1.8h2v2h-2zm17.1 9.2h2v2h-2zm8.7 -33.3h2v2h-2zm-20.2 25.8h2v2h-2zm10.9 9.3h2v2h-2zm25.2 -18.5h2v2h-2zm-19.5 3.4h2v2h-2zm-6.4 -18.3h2v2h-2zm5.7 4.7h2v2h-2zm5.5 29.9h2v2h-2zm-9.7 -1.4h2v2h-2zm3.8 -36.9h2v2h-2zm0.4 16h2v2h-2zm-10.1 23.3h2v2h-2zm31.6 -14.1h2v2h-2zm-25 -12.3h2v2h-2zm9.7 -10.5h2v2h-2zm10.7 9.2h2v2h-2zm-20 -27.9h2v2h-2zm-12.3 45.9h2v2h-2zm18.8 3.8h2v2h-2zm-8.1 -29.8h2v2h-2zm-11.4 22.6h2v2h-2zm-4.3 10.7h2v2h-2zm13.3 -2.7h2v2h-2zm-9.7 -18.6h2v2h-2zm3.9 1.3h2v2h-2zm25.2 -31.3h2v2h-2zm-31.6 46.5h2v2h-2zm40.2 -27.2h2v2h-2zm-23.8 1.7h2v2h-2zm18.5 24.5h2v2h-2zm-0.9 -19.9h2v2h-2zm5.4 -8.5h2v2h-2zm-5.3 15.8h2v2h-2zm-14.9 -23.1h2v2h-2zm13.5 -4.1h2v2h-2zm-9.2 28h2v2h-2zm19.7 17.9h2v2h-2zm-19.3 -5.7h2v2h-2zm-17.6 -4.9h2v2h-2zm20.6 -31.5h2v2h-2zm3.7 26.1h2v2h-2zm-20 -26.8h2v2h-2zm-1.8 9.4h2v2h-2zm-3.4 12.2h2v2h-2z" fill="#00B1D8"/>
<path d="M986 230.3h2v2h-2zm-29.4 40.8h2v2h-2zm55.4 2.8h2v2h-2zm-34.9 -42.4h2v2h-2zm-0.8 11h2v2h-2zm-8.3 34.3h2v2h-2zm8 -49h2v2h-2zm-9.5 35.6h2v2h-2zm7.8 2.6h2v2h-2zm29.1 -4.8h2v2h-2zm-48 9.9h2v2h-2zm38.8 -12.9h2v2h-2zm-0.3 8.1h2v2h-2zm2.4 -24.5h2v2h-2zm-16.1 -1.3h2v2h-2zm-8.7 -5.7h2v2h-2zm40 39.6h2v2h-2zm-22.1 -2.8h2v2h-2zm-25.1 -22.7h2v2h-2zm19.9 -24.1h2v2h-2zm-20.9 27.8h2v2h-2zm22.2 22.1h2v2h-2zm19.6 -9.3h2v2h-2zm-7.1 -0.2h2v2h-2zm-33.1 16.9h2v2h-2zm34 -27.6h2v2h-2zm9.4 8.9h2v2h-2zm-16.6 2.9h2v2h-2zm11.7 9.8h2v2h-2zm-41.9 -9.3h2v2h-2zm25.1 -7.4h2v2h-2zm6.9 8.8h2v2h-2zm-29.9 6.7h2v2h-2zm7.8 -32.7h2v2h-2zm37.1 35.7h2v2h-2zm-11.3 1.2h2v2h-2zm-10 -20.5h2v2h-2zm-9.7 -9h2v2h-2zm-14.4 10.4h2v2h-2zm28 -21h2v2h-2zm5.5 40.6h2v2h-2zm-0.9 -41.6h2v2h-2zm-7.8 11.6h2v2h-2zm-4.4 2.6h2v2h-2zm9.7 13.1h2v2h-2zm-9.5 -2.9h2v2h-2zm-13.8 -6.5h2v2h-2zm-1.9 -18.3h2v2h-2zm33.4 33.7h2v2h-2zm-0.6 -10.6h2v2h-2z" fill="#14C13C"/>
<path d="M1006.7 172.9h2v2h-2zm29.5 19.9h2v2h-2zm-6.7 -26.4h2v2h-2zm-11.7 1.4h2v2h-2zm-6.4 -14.9h2v2h-2zm28.5 9.6h2v2h-2zm-1.1 10.2h2v2h-2zm1.1 16.9h2v2h-2zm-8.6 -22.7h2v2h-2zm-21.6 5.8h2v2h-2zm3.1 13.4h2v2h-2zm-12.3 -9.7h2v2h-2zm13.6 -11h2v2h-2zm9.4 28.5h2v2h-2zm19.1 -1.3h2v2h-2zm-19.9 -19.9h2v2h-2zm-15.1 11.4h2v2h-2zm13.3 -1.4h2v2h-2zm20.1 -7h2v2h-2zm-10.5 -3.8h2v2h-2zm-26 -4.5h2v2h-2zm39.2 -4h2v2h-2zm-39 2.8h2v2h-2zm-3.4 8.7h2v2h-2zm7.7 -19.7h2v2h-2zm18.8 35.8h2v2h-2zm-28.7 -10.6h2v2h-2zm26.2 -11.6h2v2h-2zm-10.6 1.9h2v2h-2zm-0.8 23.8h2v2h-2zm0.3 -7.5h2v2h-2zm21.6 -2.6h2v2h-2zm-14.7 -15h2v2h-2zm0 -2.3h2v2h-2zm21.4 24.2h2v2h-2zm-25.3 -22h2v2h-2zm-13.9 13h2v2h-2zm19.1 -29.7h2v2h-2zm-15 15.7h2v2h-2zm3.4 15.9h2v2h-2zm3.2 7h2v2h-2zm-1.2 -4.1h2v2h-2zm-9.6 -8.8h2v2h-2zm36.1 15.2h2v2h-2zm-18.6 -38.3h2v2h-2zm-16.6 1.3h2v2h-2zm28.2 16.8h2v2h-2zm-27.8 -14.7h2v2h-2zm-3 32.5h2v2h-2zm31.7 -23h2v2h-2zm9.6 25.6h2v2h-2zm-34.8 -36.7h2v2h-2zm-0.7 19h2v2h-2zm18.6 -5.6h2v2h-2zm8.2 0.6h2v2h-2zm-21.1 7h2v2h-2zm7.9 -26.8h2v2h-2zm12 14.8h2v2h-2zm4.2 12.1h2v2h-2zm5.6 -4.6h2v2h-2zm-16.8 20h2v2h-2zm9.6 -32.2h2v2h-2zm-32.2 29.5h2v2h-2zm-1.9 0.1h2v2h-2zm40.1 -13.2h2v2h-2zm0.7 -2.8h2v2h-2zm-9.4 -0.6h2v2h-2zm-0.1 -7.3h2v2h-2zm-28.5 5.5h2v2h-2zm6.5 -15.1h2v2h-2zm28.1 18.1h2v2h-2zm-5.8 10h2v2h-2zm-14.4 -18.5h2v2h-2zm-0.2 -4.8h2v2h-2zm16 26.7h2v2h-2zm-22.2 -8.7h2v2h-2zm17.9 3.3h2v2h-2zm-16.4 11h2v2h-2zm17.9 -34.1h2v2h-2zm1.9 26.5h2v2h-2zm-28.5 3.4h2v2h-2zm13.5 -32.3h2v2h-2zm-2.6 12.9h2v2h-2zm6.9 -11.8h2v2h-2zm-21.5 17h2v2h-2zm30.2 3.3h2v2h-2zm-14.7 8.2h2v2h-2zm-17.5 -15.4h2v2h-2zm23.3 -16.5h2v2h-2zm-22.4 37.2h2v2h-2z" fill="#14C13C"/>
<path d="M1028.7 169.9h2v2h-2zm-5.4 16.8h2v2h-2zm4.7 5.1h2v2h-2zm1.9 -1.3h2v2h-2zm-26 -4.7h2v2h-2zm9.3 5h2v2h-2zm21.7 2.3h2v2h-2zm-1.6 -29.2h2v2h-2zm-10.7 19.9h2v2h-2zm-21.4 -12.3h2v2h-2zm23.5 9h2v2h-2zm-10.5 -5.7h2v2h-2zm18.2 -11.3h2v2h-2zm-2.5 26.4h2v2h-2zm-14.4 -19.1h2v2h-2zm5.3 15.8h2v2h-2zm-9.9 -28h2v2h-2zm5.7 18.6h2v2h-2zm-11 16.5h2v2h-2zm16.1 -12.6h2v2h-2zm-5.4 -8h2v2h-2zm-13.6 20.7h2v2h-2zm22.8 -26.4h2v2h-2zm-11.5 9.6h2v2h-2zm-7.5 -8.3h2v2h-2zm4.5 4.1h2v2h-2zm19.2 -2.4h2v2h-2zm2.8 5.3h2v2h-2zm-30.7 1.7h2v2h-2zm18.5 5.2h2v2h-2zm20.9 -20.6h2v2h-2zm-4.1 -6.2h2v2h-2zm-1.1 10.9h2v2h-2zm-17.1 2.7h2v2h-2zm-3.8 -13.6h2v2h-2zm14.8 20.1h2v2h-2zm-29.4 -18.1h2v2h-2zm40.4 0.7h2v2h-2zm-29.4 14.9h2v2h-2zm3.7 18.8h2v2h-2zm-6.8 -39.4h2v2h-2zm10.1 5.7h2v2h-2zm10.6 30.5h2v2h-2zm-25.9 -29.2h2v2h-2zm1 6.2h2v2h-2zm10.5 15h2v2h-2zm27.8 12.7h2v2h-2zm-25.1 -17h2v2h-2zm-13.3 -1.6h2v2h-2zm34.6 13.9h2v2h-2zm0.8 -9.5h2v2h-2zm-7.6 4.9h2v2h-2zm-0.2 10.3h2v2h-2zm-5.1 -32h2v2h-2zm-13.5 22.6h2v2h-2zm29.5 -22.7h2v2h-2zm-34.4 32h2v2h-2zm9.5 -28h2v2h-2zm-5.4 14.3h2v2h-2zm30.9 -13h2v2h-2zm-5.8 -3.5h2v2h-2zm-20 20.4h2v2h-2zm25.3 -2.4h2v2h-2zm-12.2 3.7h2v2h-2zm9.8 6.3h2v2h-2zm-17.8 -28.6h2v2h-2zm-24.2 7h2v2h-2zm16.3 13h2v2h-2zm14.4 -5.6h2v2h-2zm-8.5 -29.4h2v2h-2zm15.8 33.9h2v2h-2zm-16.3 -10.1h2v2h-2zm15 -3.4h2v2h-2zm-15.1 -0.5h2v2h-2zm12 12.7h2v2h-2zm-18.5 2.1h2v2h-2zm1.9 -5.2h2v2h-2zm0.1 11.4h2v2h-2zm25.9 -6.2h2v2h-2zm-25.8 -21.6h2v2h-2zm2.5 12.9h2v2h-2zm-18.5 -3h2v2h-2zm39.5 1.3h2v2h-2zm4.9 7.7h2v2h-2zm-12.8 1.5h2v2h-2zm-13.7 -32.2h2v2h-2zm20 38.5h2v2h-2zm-6.2 -33.4h2v2h-2zm-10.2 15h2v2h-2zm-6.2 -1.3h2v2h-2z" fill="#00B1D8"/>
<path d="M1109.6 185.4h2v2h-2zm-21.4 28.5h2v2h-2zm17.5 -41.1h2v2h-2zm-7.6 10.8h2v2h-2zm12.9 19.4h2v2h-2zm13.3 -16.8h2v2h-2zm-65 5.3h2v2h-2zm0.5 -12.2h2v2h-2zm5.6 79.2h2v2h-2zm28.3 -85.9h2v2h-2zm-32 31.3h2v2h-2zm-20.1 -38.9h2v2h-2zm28.1 61h2v2h-2zm-11.1 -10.2h2v2h-2zm-21.2 -5.2h2v2h-2zm17.3 -43.8h2v2h-2zm51.1 15.4h2v2h-2zm-19.7 50.9h2v2h-2zm4.4 -43.6h2v2h-2zm0.9 0.8h2v2h-2zm-38.5 -25.2h2v2h-2zm-5.3 43.5h2v2h-2zm2.6 -24.5h2v2h-2zm43.3 -3h2v2h-2zm3.6 -31.8h2v2h-2zm6.7 -2.6h2v2h-2zm-4.1 4.1h2v2h-2zm-34.6 -16.4h2v2h-2zm-39.7 46.4h2v2h-2zm61.2 24.9h2v2h-2zm8.8 -2.2h2v2h-2zm-31.8 53.3h2v2h-2zm-11.9 -67.5h2v2h-2zm5.4 4.2h2v2h-2zm7 -34.9h2v2h-2zm-5.8 90.8h2v2h-2zm-20.5 -48.9h2v2h-2zm11.8 15.8h2v2h-2zm60.3 -72.5h2v2h-2zm-35.4 11.3h2v2h-2zm-32.6 6.7h2v2h-2zm10.1 15.3h2v2h-2zm60.1 10.3h2v2h-2zm-41.2 -30.2h2v2h-2zm0.4 117.4h2v2h-2zm-45.4 -87.1h2v2h-2zm25.9 14.5h2v2h-2zm26.1 49.1h2v2h-2zm-30.9 -86.1h2v2h-2zm41.3 -31.6h2v2h-2zm-12.9 48.9h2v2h-2zm34.5 -38.2h2v2h-2zm-37.4 105.6h2v2h-2zm-7.2 29.8h2v2h-2zm56.8 -103.5h2v2h-2zm-41.4 41.6h2v2h-2zm-10.6 36.2h2v2h-2zm-24.3 -49h2v2h-2zm35.8 12.3h2v2h-2zm-11.8 -66.5h2v2h-2z" fill="#72AD22"/>
<path d="M1033.5 101.1h2v2h-2zm-11.5 21.2h2v2h-2zm-11.8 20h2v2h-2zm-46 -32h2v2h-2zm37.7 -20.8h2v2h-2zm-1.2 -23.3h2v2h-2zm-36.5 55.5h2v2h-2zm71.4 -47.4h2v2h-2zm-79.3 37.6h2v2h-2zm67.3 -19.2h2v2h-2zm13.5 -38.7h2v2h-2zm-17.1 87.5h2v2h-2zm-28.5 -45.5h2v2h-2zm41.3 -15.2h2v2h-2zm8.1 -8.2h2v2h-2zm-57.8 76.7h2v2h-2zm33.9 -62.3h2v2h-2zm-40 59.3h2v2h-2zm13 2.8h2v2h-2zm47.9 -103.4h2v2h-2zm-11.1 59.9h2v2h-2zm-50.5 27.5h2v2h-2zm14.5 17.2h2v2h-2zm12.9 -4.6h2v2h-2zm37.3 -65.3h2v2h-2zm-23.9 40.5h2v2h-2zm-3.6 -81.2h2v2h-2zm3.3 85.1h2v2h-2zm-58.3 9.9h2v2h-2zm62.9 -48.3h2v2h-2zm-12.8 49.8h2v2h-2zm28.6 -61.8h2v2h-2zm-20.5 37.2h2v2h-2zm11.6 19h2v2h-2zm-17.8 1.1h2v2h-2zm4.1 -83.8h2v2h-2zm-49.9 63h2v2h-2zm13.8 34.1h2v2h-2zm-2.7 -52h2v2h-2zm22.5 52.3h2v2h-2z" fill="#72AD22"/>
<path d="M978.3 139.8h2v2h-2zm42 -37.2h2v2h-2zm2.6 -2.7h2v2h-2zm-9.9 -49.4h2v2h-2zm-0.7 26.5h2v2h-2zm-25.7 54.8h2v2h-2zm45.5 -8.7h2v2h-2zm-39.5 -24.3h2v2h-2zm16.1 -52.7h2v2h-2zm29.5 -3.8h2v2h-2zm-78.6 70.6h2v2h-2zm7.9 10.9h2v2h-2zm49.1 -67.7h2v2h-2zm11.5 35.4h2v2h-2zm-10.5 -44.8h2v2h-2zm-32.5 71.4h2v2h-2zm-0.6 -61.9h2v2h-2zm9 -2.9h2v2h-2zm1.9 -4.8h2v2h-2zm25.2 13.1h2v2h-2zm21 -12.2h2v2h-2zm-30.5 61.8h2v2h-2zm-43.3 -1.9h2v2h-2zm35 -1.3h2v2h-2zm-36.4 -16h2v2h-2zm65.2 16.2h2v2h-2zm4.3 -65h2v2h-2zm-40.2 53h2v2h-2zm-37.2 37.8h2v2h-2zm34.9 -63.3h2v2h-2zm-37.4 61.8h2v2h-2zm67.9 -72.8h2v2h-2zm-44.2 37.4h2v2h-2zm43.5 -1.8h2v2h-2zm-18.5 -53.2h2v2h-2zm-43.4 72.4h2v2h-2zm-0.4 26.1h2v2h-2zm42.5 -34.9h2v2h-2zm-18.6 16.3h2v2h-2zm41.4 -5h2v2h-2z" fill="#50E8C0"/>
<path d="M791.1 233.1h2v2h-2zm74.5 -41h2v2h-2zm-57.4 63h2v2h-2zm65.5 -84.3h2v2h-2zm-30.9 62.2h2v2h-2zm-16.4 54.2h2v2h-2zm-43.9 -34.6h2v2h-2zm22.4 22.4h2v2h-2zm40.3 -48.5h2v2h-2zm-57 49.8h2v2h-2zm55.6 -28.7h2v2h-2zm4.6 55.1h2v2h-2zm-50.8 -37.1h2v2h-2zm57 -60.5h2v2h-2zm9.7 6.8h2v2h-2zm5.4 38.4h2v2h-2zm1.7 43.1h2v2h-2zm-19.4 -73.3h2v2h-2zm-32.8 30.9h2v2h-2zm35.2 -24.4h2v2h-2zm9.5 -28.5h2v2h-2zm-38.3 -10.2h2v2h-2zm-35.5 20.8h2v2h-2zm-12.5 39.8h2v2h-2zm58.1 -24.8h2v2h-2zm17.9 21.4h2v2h-2zm-11.5 -65.7h2v2h-2zm-35.9 -9.2h2v2h-2zm-19.7 82.1h2v2h-2zm24.6 10.9h2v2h-2zm50 22.4h2v2h-2zm-11 -78.7h2v2h-2zm-44 35h2v2h-2zm52.4 -60.6h2v2h-2zm4.6 81.6h2v2h-2zm-30.2 -37.6h2v2h-2zm-21.4 -0.2h2v2h-2zm33.8 5.3h2v2h-2zm-0.2 61.9h2v2h-2zm23.1 -97.5h2v2h-2zm-12.9 30.2h2v2h-2zm-59.7 -56.1h2v2h-2zm20.6 83.9h2v2h-2zm-14.3 40.2h2v2h-2zm46.9 -89.2h2v2h-2zm-35.1 22.8h2v2h-2zm30.9 -18.8h2v2h-2zm-35.8 31.3h2v2h-2zm-12 -10.7h2v2h-2zm51.8 10.8h2v2h-2zm-70.1 -22.2h2v2h-2zm52.1 -16.7h2v2h-2zm-18.5 46.8h2v2h-2zm-2.4 -53.8h2v2h-2zm51.8 -16.8h2v2h-2zm3.1 4.2h2v2h-2zm-35.7 64.3h2v2h-2zm-14.6 11.5h2v2h-2zm48 -43.8h2v2h-2zm-83.4 -17h2v2h-2zm82.9 57h2v2h-2zm-12.6 -29.9h2v2h-2zm-43.6 42.9h2v2h-2zm24.8 31.9h2v2h-2zm-41.3 -81.4h2v2h-2zm53.8 80.4h2v2h-2zm-22.8 -17h2v2h-2zm-36.2 -21.1h2v2h-2zm22.3 7.7h2v2h-2zm-3.3 -72.4h2v2h-2zm-2.8 76.7h2v2h-2zm44.9 27h2v2h-2zm-30.3 -121h2v2h-2zm40.1 27.3h2v2h-2zm-9.2 33.2h2v2h-2zm-27.8 -65.4h2v2h-2zm-22 102.4h2v2h-2zm23.6 19.1h2v2h-2zm35.2 -49.7h2v2h-2zm17.8 -75.9h2v2h-2zm-59 75.9h2v2h-2zm-25.4 6.6h2v2h-2zm12.3 -28.3h2v2h-2zm19.7 -13.2h2v2h-2zm-29.8 53.9h2v2h-2zm46.1 -83.7h2v2h-2zm35.1 3.7h2v2h-2zm-76 24.9h2v2h-2zm14.3 29.9h2v2h-2zm54.6 -55.6h2v2h-2zm-33.3 74.7h2v2h-2zm-32.1 -38.4h2v2h-2zm19 75.9h2v2h-2zm33.6 -58.1h2v2h-2zm-71.7 -17.4h2v2h-2zm75.8 10.9h2v2h-2zm-43.2 29.2h2v2h-2zm-35.5 1.3h2v2h-2zm65.4 -76.4h2v2h-2zm-27.2 106.1h2v2h-2zm-15.7 -46.5h2v2h-2zm8.4 3.2h2v2h-2zm4.6 -29.8h2v2h-2zm54.1 49.8h2v2h-2zm7.5 -51.1h2v2h-2zm-53.9 4.4h2v2h-2zm40.6 0.2h2v2h-2zm-19 -27.2h2v2h-2zm-13.9 13.3h2v2h-2zm37.6 13.8h2v2h-2zm4 28.6h2v2h-2zm-62 -2.3h2v2h-2zm59.7 20.4h2v2h-2zm-10.8 -18.2h2v2h-2zm-20.8 -60.9h2v2h-2zm21.6 71.5h2v2h-2zm-18.6 -48h2v2h-2zm11.6 31.8h2v2h-2zm1 21.7h2v2h-2zm6.8 2.5h2v2h-2zm-46.1 37h2v2h-2zm52.8 -40.6h2v2h-2zm-47.7 -24.4h2v2h-2zm40.1 13.5h2v2h-2zm-37 29.8h2v2h-2zm-45 -57.6h2v2h-2zm23.2 29.7h2v2h-2zm10.5 -0.2h2v2h-2zm55 -28h2v2h-2zm-6.2 8.2h2v2h-2zm-40 -62.6h2v2h-2zm46.1 2.5h2v2h-2zm-58.2 60.8h2v2h-2zm25.5 -35.8h2v2h-2zm7.3 59.5h2v2h-2zm34.4 -77.9h2v2h-2zm-69.8 1.3h2v2h-2zm-0.6 15.8h2v2h-2zm-1.5 75.9h2v2h-2zm54.6 7.4h2v2h-2z" fill="#D872F6"/>
<path d="M862.1 214.2h2v2h-2zm-23.8 11.6h2v2h-2zm11.3 -50.8h2v2h-2zm19 106.5h2v2h-2zm1 -49.4h2v2h-2zm-7.8 -1.6h2v2h-2zm11.3 -24h2v2h-2zm-1.9 52.6h2v2h-2zm-27.5 41.1h2v2h-2zm2.7 -79.2h2v2h-2zm43.2 -22.2h2v2h-2zm-61.8 17.8h2v2h-2zm46.9 40.5h2v2h-2zm-57 -105.2h2v2h-2zm55 82.3h2v2h-2zm-5.8 46.2h2v2h-2zm-13.9 -88.4h2v2h-2zm14.9 56.3h2v2h-2zm-14.5 -29.2h2v2h-2zm38.4 -13h2v2h-2zm-40.5 1.8h2v2h-2zm28 -22.6h2v2h-2zm-48.4 26.2h2v2h-2zm18.5 -26.8h2v2h-2zm20.1 2.5h2v2h-2zm-34.6 -12.6h2v2h-2zm21 117.1h2v2h-2zm-10.1 -109.8h2v2h-2zm1.1 106.7h2v2h-2zm-13.8 -70.6h2v2h-2zm64.5 -23.4h2v2h-2zm-41.6 56.3h2v2h-2zm-11.2 30.1h2v2h-2zm12.8 -17.2h2v2h-2zm1.6 -4.9h2v2h-2zm-17.3 -90.4h2v2h-2zm-2.5 29.2h2v2h-2zm15.2 25.5h2v2h-2zm-1.6 80.2h2v2h-2zm-15.5 -87.8h2v2h-2zm22.4 -2.2h2v2h-2zm-1.2 22.7h2v2h-2zm19.5 -50h2v2h-2zm-5.8 4.5h2v2h-2zm-11.1 81.2h2v2h-2zm-6.8 -87.5h2v2h-2zm-42.8 -2.1h2v2h-2zm53.3 28.3h2v2h-2zm12.1 53.4h2v2h-2zm-37.3 -22.7h2v2h-2zm26.4 -58.1h2v2h-2zm-3.1 23.4h2v2h-2zm7.4 62.8h2v2h-2zm-1.3 -89.2h2v2h-2zm-23.2 116.6h2v2h-2zm-22.9 -112.4h2v2h-2zm6.4 38.6h2v2h-2zm-4.3 -76.2h2v2h-2zm61.5 57.8h2v2h-2zm-46.7 28.7h2v2h-2zm-21.7 -21.3h2v2h-2zm8.5 -59.1h2v2h-2zm29.8 52.1h2v2h-2zm15.7 -24.5h2v2h-2zm-9.8 32.4h2v2h-2zm-14.6 -34.9h2v2h-2zm-7.8 58.9h2v2h-2zm-0.3 -48.8h2v2h-2zm6.1 -18.7h2v2h-2zm-19.2 0.7h2v2h-2z" fill="#FFFFFF"/>
<path d="M829.5 278.2h2v2h-2zm14.5 7.6h2v2h-2zm-28.4 -56.3h2v2h-2zm-33.3 -24.9h2v2h-2zm78.8 3.3h2v2h-2zm3 78.3h2v2h-2zm2 -99h2v2h-2zm-50.4 99h2v2h-2zm-11.3 -84.1h2v2h-2zm-29.5 41.2h2v2h-2zm53.7 -45.9h2v2h-2zm-29.5 60.1h2v2h-2zm-8.8 21.9h2v2h-2zm70.9 -52.2h2v2h-2zm-75.2 21.5h2v2h-2zm16.7 -66.5h2v2h-2zm42 64.8h2v2h-2zm-44.4 -44.5h2v2h-2zm45.9 95.6h2v2h-2zm-37.7 -47.3h2v2h-2zm-13.3 -17.2h2v2h-2zm36.4 -22.9h2v2h-2zm2.5 33.8h2v2h-2zm-19.3 -56.2h2v2h-2zm13.4 63.6h2v2h-2zm8 41.7h2v2h-2zm-1.8 -16.3h2v2h-2zm32.6 -25.7h2v2h-2zm-10.3 -5.9h2v2h-2zm-39.9 -55.6h2v2h-2zm4.7 78.9h2v2h-2zm31.8 25.8h2v2h-2zm-28 7.3h2v2h-2zm-14.8 -132.3h2v2h-2zm5.5 74.6h2v2h-2zm35.1 -43.9h2v2h-2zm-58.9 88.3h2v2h-2zm38 -102.2h2v2h-2zm-4.6 90.8h2v2h-2zm-47.1 -89h2v2h-2zm54.6 75.4h2v2h-2zm0.7 35.2h2v2h-2zm-40.6 -125.3h2v2h-2zm34.1 43.7h2v2h-2zm-14.3 6.2h2v2h-2zm49.2 -15.7h2v2h-2zm-19.3 40.3h2v2h-2zm-44.2 -38.1h2v2h-2zm-6.4 57.1h2v2h-2zm50.8 -47.9h2v2h-2zm-58.4 32.9h2v2h-2zm22.3 -6.4h2v2h-2zm32.2 -78.4h2v2h-2zm21.6 12.2h2v2h-2zm-65.4 48.4h2v2h-2zm61.8 -16.7h2v2h-2zm12.5 -31.2h2v2h-2zm-5.2 -4.8h2v2h-2zm-30.7 130.6h2v2h-2zm12.1 -8.3h2v2h-2zm18.5 -91.3h2v2h-2zm-13.4 91.9h2v2h-2zm-56.5 -75.1h2v2h-2zm56.4 26h2v2h-2zm14.9 -20h2v2h-2zm-47.6 -38h2v2h-2zm-17.6 101h2v2h-2zm-1.3 3h2v2h-2zm54.9 -46.5h2v2h-2zm-50.8 -81.2h2v2h-2zm14 52.3h2v2h-2zm47.5 64.5h2v2h-2zm-23.3 -76.2h2v2h-2zm-57.9 -14.7h2v2h-2zm15.8 1.3h2v2h-2zm31.2 17.5h2v2h-2zm-20.5 -44.5h2v2h-2zm-36.4 78.3h2v2h-2zm2 0.8h2v2h-2zm-0.4 -12.5h2v2h-2zm60.1 10.1h2v2h-2zm-40.8 42.6h2v2h-2zm76.7 -3.5h2v2h-2zm-61.3 -38.6h2v2h-2zm4.6 34.7h2v2h-2zm-24.9 -80h2v2h-2zm28.7 45.4h2v2h-2zm54.7 -29.8h2v2h-2zm-100 7.5h2v2h-2zm88.5 -41.7h2v2h-2zm-36.3 71.9h2v2h-2zm32.4 -38.9h2v2h-2zm-23.4 89.3h2v2h-2zm36.9 -55.4h2v2h-2zm-64.2 12.2h2v2h-2zm39.7 4.3h2v2h-2zm-5.6 -42.2h2v2h-2zm4.2 -4.7h2v2h-2zm-49 -36h2v2h-2zm32.5 10.1h2v2h-2zm-27.5 18.2h2v2h-2zm9.1 16.9h2v2h-2zm61.1 15.7h2v2h-2zm-43.1 -18h2v2h-2zm-0.2 59.1h2v2h-2zm-2.5 -43.1h2v2h-2zm-17.4 -46.7h2v2h-2zm-14 -13.7h2v2h-2zm7.2 -6.9h2v2h-2zm13.3 76h2v2h-2zm-30.5 26.1h2v2h-2zm34.2 -18.9h2v2h-2zm-2.2 24.4h2v2h-2zm25.3 -96.2h2v2h-2zm-13.3 20.6h2v2h-2zm20.1 15.1h2v2h-2zm-53 -48.1h2v2h-2zm77.2 12.2h2v2h-2zm-94.7 41.6h2v2h-2zm38.7 38.5h2v2h-2z" fill="#FFFFFF"/>
<path d="M866.3 120.8h2v2h-2zm54 -38.4h2v2h-2zm-54.1 58.2h2v2h-2zm27.6 -36.1h2v2h-2zm-32 16h2v2h-2zm-13.7 -8.4h2v2h-2zm19.8 -6.6h2v2h-2zm33.8 1.5h2v2h-2zm-29.5 14.2h2v2h-2zm16.5 -3h2v2h-2zm11.9 -7.6h2v2h-2zm-15 13.4h2v2h-2zm-16.2 -12.5h2v2h-2zm21.5 -14h2v2h-2zm-11 9.4h2v2h-2zm-14.7 3.6h2v2h-2zm36.1 -5.1h2v2h-2zm-7.4 14.2h2v2h-2zm10.1 -11.7h2v2h-2zm-37 19.3h2v2h-2zm42.6 -22.6h2v2h-2zm10.1 -0.8h2v2h-2zm-42.6 6.7h2v2h-2zm-31.3 6.6h2v2h-2zm24.1 0.8h2v2h-2zm-21 20.9h2v2h-2zm51.8 -41.7h2v2h-2zm-17.1 42.2h2v2h-2zm-28.1 -17.9h2v2h-2zm7.7 20.3h2v2h-2zm12.9 -29.2h2v2h-2zm9.2 11.2h2v2h-2zm-33 18.3h2v2h-2zm34.3 -12h2v2h-2zm15.8 -22.4h2v2h-2zm-28.5 16h2v2h-2zm-14 -12.6h2v2h-2zm2.9 -0.4h2v2h-2zm1.3 19.1h2v2h-2zm36.5 -21.7h2v2h-2zm-8.2 5.9h2v2h-2zm-11.8 17.9h2v2h-2zm1.5 0.6h2v2h-2zm24.1 -32.4h2v2h-2zm-37.4 29.7h2v2h-2zm-9.7 4.5h2v2h-2zm44 -25h2v2h-2zm-9.1 7.6h2v2h-2zm-7.4 -12.6h2v2h-2zm-39.7 28.4h2v2h-2zm33.1 -28.5h2v2h-2zm-32.4 7.5h2v2h-2zm73 -16.1h2v2h-2zm-20.5 23.5h2v2h-2zm-35.5 5.8h2v2h-2zm22.9 -23.6h2v2h-2zm-15 21.7h2v2h-2zm39.8 -32h2v2h-2zm-35.3 12.5h2v2h-2zm25.7 -5.3h2v2h-2zm-26.4 6.7h2v2h-2zm6.4 -0.4h2v2h-2zm1.1 17.8h2v2h-2zm-31.6 -12h2v2h-2zm5.8 9.2h2v2h-2zm14.8 4.7h2v2h-2zm37.9 -19.2h2v2h-2zm-49.4 16h2v2h-2zm51.4 -35.6h2v2h-2zm-38.1 29.5h2v2h-2zm26.5 -15.5h2v2h-2zm-26.4 28.9h2v2h-2zm10.2 -20.9h2v2h-2zm-27.4 6.4h2v2h-2zm46.2 0.1h2v2h-2zm-17.6 10.6h2v2h-2zm6 1.9h2v2h-2zm-16 -21.8h2v2h-2zm-8.9 12.2h2v2h-2zm53.9 -22.3h2v2h-2zm-68.6 40.4h2v2h-2zm-0.1 -9.1h2v2h-2zm5.8 1.3h2v2h-2zm52.6 -35.3h2v2h-2zm-6.8 11.8h2v2h-2zm-20.9 -5.4h2v2h-2zm35.4 4.9h2v2h-2zm-3 -3.7h2v2h-2zm-12.2 15.9h2v2h-2zm-30.6 26.8h2v2h-2zm-22.1 -30.1h2v2h-2zm73.9 -16.5h2v2h-2zm-56.5 12.9h2v2h-2zm8.3 15.8h2v2h-2zm-1.1 -2.3h2v2h-2zm41.5 -33h2v2h-2zm-23.7 34.6h2v2h-2zm-25.3 -10.4h2v2h-2zm4.1 4.8h2v2h-2zm-19.3 3.2h2v2h-2zm8.6 -5.1h2v2h-2zm-1.8 -8.1h2v2h-2zm6.6 14.5h2v2h-2zm24.6 -21.3h2v2h-2zm-22.6 11.5h2v2h-2zm59.2 -33.3h2v2h-2zm-19.5 19.6h2v2h-2zm-12.9 -4.2h2v2h-2zm10.4 17h2v2h-2zm-35.3 -3.5h2v2h-2zm51.6 -27h2v2h-2zm-44 43.3h2v2h-2zm-16.5 21.6h2v2h-2zm19.6 -27.8h2v2h-2zm6.3 12.1h2v2h-2zm-8.4 -17.7h2v2h-2zm-31.8 18.9h2v2h-2zm5.3 -14.9h2v2h-2zm10.1 2.4h2v2h-2zm15.1 23.9h2v2h-2zm3 -40.3h2v2h-2zm26.3 -16.6h2v2h-2zm-1 5.8h2v2h-2zm-37.1 42.3h2v2h-2zm24.8 -40.8h2v2h-2zm9.4 12.3h2v2h-2zm-47.2 32.2h2v2h-2zm49.7 -44.8h2v2h-2zm-25.1 32.4h2v2h-2zm48.9 -49.7h2v2h-2zm-62.1 71.5h2v2h-2zm-12.2 -5.8h2v2h-2zm32.8 -28.4h2v2h-2zm-28.5 -2h2v2h-2zm62.3 -26.1h2v2h-2zm-1.8 14.9h2v2h-2zm-36.3 35.2h2v2h-2zm26 -29.4h2v2h-2zm-54.1 31.4h2v2h-2zm11.9 -16.3h2v2h-2zm-17.9 18.3h2v2h-2zm2.9 -25.3h2v2h-2zm21.4 -1.7h2v2h-2zm13.2 25h2v2h-2zm33.9 -51.2h2v2h-2zm-38.4 32.2h2v2h-2zm-10.1 17.4h2v2h-2zm13.1 -12.1h2v2h-2zm21.5 -24.3h2v2h-2zm6.4 -13.5h2v2h-2zm-46.9 41.9h2v2h-2zm44 -27.9h2v2h-2zm-52.1 24h2v2h-2zm-5.2 -12h2v2h-2zm14.3 -6.9h2v2h-2zm32.6 17.1h2v2h-2zm-18.3 15.3h2v2h-2zm26.2 -43.5h2v2h-2zm-52.3 46.3h2v2h-2zm62.1 -33.7h2v2h-2z" fill="#FFFFFF"/>
<path d="M904.7 116h2v2h-2zm7.7 5.2h2v2h-2zm13.3 -24.3h2v2h-2zm-27.5 38.5h2v2h-2zm-8.1 -26.3h2v2h-2zm-2.2 26.3h2v2h-2zm2.9 -10.6h2v2h-2zm17.3 -6.4h2v2h-2zm-22.8 -2h2v2h-2zm2.4 18.7h2v2h-2zm-3 -4.5h2v2h-2zm0.8 -24.5h2v2h-2zm40.2 -12.3h2v2h-2zm-20.3 8.6h2v2h-2zm9.1 -12h2v2h-2zm-4.1 11h2v2h-2zm-32 28h2v2h-2zm5.8 0.2h2v2h-2zm5 13.7h2v2h-2zm0.6 -10.7h2v2h-2z" fill="#14C13C"/>
<path d="M27.1 337.8V400.5H86.9" stroke="#000" stroke-width="2.1" fill="none"/>
<path d="M22.1 338.3L27.1 329.7L32.1 338.3Z" fill="#000"/>
<path d="M86.4 395.5L95.0 400.5L86.4 405.5Z" fill="#000"/>
<text x="25.6" y="420.9" font-size="16.5">UMAP_1</text>
<text x="0" y="0" font-size="16.5" transform="translate(16.2,400.7) rotate(-90)">UMAP_2</text>
<path d="M788.5 353.3V415.8H848.0" stroke="#000" stroke-width="2.2" fill="none"/>
<path d="M782.9 353.8L788.5 344.2L794.1 353.8Z" fill="#000"/>
<path d="M847.5 410.2L857.1 415.8L847.5 421.40000000000003Z" fill="#000"/>
<text x="782.2" y="440.5" font-size="17.8">UMAP_1</text>
<text x="0" y="0" font-size="17.8" transform="translate(776.2,420.3) rotate(-90)">UMAP_2</text>
<text x="1396.0" y="24.5" font-size="33" font-weight="bold">c</text>
<text x="1425.8" y="23.0" font-size="25.1">Integrated cluster composition</text>
<rect x="1418.30" y="37.25" width="31.22" height="29.55" fill="#F47B4E"/>
<rect x="1449.52" y="37.25" width="31.22" height="29.55" fill="#F0F9D6"/>
<rect x="1480.74" y="37.25" width="31.22" height="29.55" fill="#93C0DD"/>
<rect x="1511.95" y="37.25" width="31.22" height="29.55" fill="#4F80BE"/>
<rect x="1543.17" y="37.25" width="31.22" height="29.55" fill="#4575B4"/>
<rect x="1574.39" y="37.25" width="31.22" height="29.55" fill="#4575B4"/>
<rect x="1605.61" y="37.25" width="31.22" height="29.55" fill="#4575B4"/>
<rect x="1636.83" y="37.25" width="31.22" height="29.55" fill="#4575B4"/>
<rect x="1668.05" y="37.25" width="31.22" height="29.55" fill="#4575B4"/>
<rect x="1699.26" y="37.25" width="31.22" height="29.55" fill="#4575B4"/>
<rect x="1730.48" y="37.25" width="31.22" height="29.55" fill="#4575B4"/>
<rect x="1418.30" y="66.80" width="31.22" height="29.55" fill="#4777B6"/>
<rect x="1449.52" y="66.80" width="31.22" height="29.55" fill="#4D7EBD"/>
<rect x="1480.74" y="66.80" width="31.22" height="29.55" fill="#A9D0E6"/>
<rect x="1511.95" y="66.80" width="31.22" height="29.55" fill="#F57B4E"/>
<rect x="1543.17" y="66.80" width="31.22" height="29.55" fill="#4575B4"/>
<rect x="1574.39" y="66.80" width="31.22" height="29.55" fill="#4575B4"/>
<rect x="1605.61" y="66.80" width="31.22" height="29.55" fill="#4575B4"/>
<rect x="1636.83" y="66.80" width="31.22" height="29.55" fill="#4575B4"/>
<rect x="1668.05" y="66.80" width="31.22" height="29.55" fill="#4575B4"/>
<rect x="1699.26" y="66.80" width="31.22" height="29.55" fill="#4575B4"/>
<rect x="1730.48" y="66.80" width="31.22" height="29.55" fill="#4575B4"/>
<rect x="1418.30" y="96.35" width="31.22" height="29.55" fill="#6797CA"/>
<rect x="1449.52" y="96.35" width="31.22" height="29.55" fill="#6B9BCD"/>
<rect x="1480.74" y="96.35" width="31.22" height="29.55" fill="#F5FBD2"/>
<rect x="1511.95" y="96.35" width="31.22" height="29.55" fill="#6293C7"/>
<rect x="1543.17" y="96.35" width="31.22" height="29.55" fill="#4575B4"/>
<rect x="1574.39" y="96.35" width="31.22" height="29.55" fill="#4A7AB8"/>
<rect x="1605.61" y="96.35" width="31.22" height="29.55" fill="#4575B4"/>
<rect x="1636.83" y="96.35" width="31.22" height="29.55" fill="#4575B4"/>
<rect x="1668.05" y="96.35" width="31.22" height="29.55" fill="#4575B4"/>
<rect x="1699.26" y="96.35" width="31.22" height="29.55" fill="#4575B4"/>
<rect x="1730.48" y="96.35" width="31.22" height="29.55" fill="#4575B4"/>
<rect x="1418.30" y="125.90" width="31.22" height="29.55" fill="#4575B4"/>
<rect x="1449.52" y="125.90" width="31.22" height="29.55" fill="#4A7AB9"/>
<rect x="1480.74" y="125.90" width="31.22" height="29.55" fill="#4C7DBC"/>
<rect x="1511.95" y="125.90" width="31.22" height="29.55" fill="#5083C0"/>
<rect x="1543.17" y="125.90" width="31.22" height="29.55" fill="#4575B4"/>
<rect x="1574.39" y="125.90" width="31.22" height="29.55" fill="#FEF0A8"/>
<rect x="1605.61" y="125.90" width="31.22" height="29.55" fill="#4575B4"/>
<rect x="1636.83" y="125.90" width="31.22" height="29.55" fill="#4575B4"/>
<rect x="1668.05" y="125.90" width="31.22" height="29.55" fill="#4575B4"/>
<rect x="1699.26" y="125.90" width="31.22" height="29.55" fill="#4575B4"/>
<rect x="1730.48" y="125.90" width="31.22" height="29.55" fill="#4575B4"/>
<rect x="1418.30" y="155.45" width="31.22" height="29.55" fill="#4575B4"/>
<rect x="1449.52" y="155.45" width="31.22" height="29.55" fill="#4575B4"/>
<rect x="1480.74" y="155.45" width="31.22" height="29.55" fill="#4E80BE"/>
<rect x="1511.95" y="155.45" width="31.22" height="29.55" fill="#4575B4"/>
<rect x="1543.17" y="155.45" width="31.22" height="29.55" fill="#4575B4"/>
<rect x="1574.39" y="155.45" width="31.22" height="29.55" fill="#BFDCEC"/>
<rect x="1605.61" y="155.45" width="31.22" height="29.55" fill="#4575B4"/>
<rect x="1636.83" y="155.45" width="31.22" height="29.55" fill="#4575B4"/>
<rect x="1668.05" y="155.45" width="31.22" height="29.55" fill="#4575B4"/>
<rect x="1699.26" y="155.45" width="31.22" height="29.55" fill="#5587C2"/>
<rect x="1730.48" y="155.45" width="31.22" height="29.55" fill="#4575B4"/>
<rect x="1418.30" y="185.00" width="31.22" height="29.55" fill="#4575B4"/>
<rect x="1449.52" y="185.00" width="31.22" height="29.55" fill="#4779B7"/>
<rect x="1480.74" y="185.00" width="31.22" height="29.55" fill="#4575B4"/>
<rect x="1511.95" y="185.00" width="31.22" height="29.55" fill="#4575B4"/>
<rect x="1543.17" y="185.00" width="31.22" height="29.55" fill="#FC8B58"/>
<rect x="1574.39" y="185.00" width="31.22" height="29.55" fill="#4575B4"/>
<rect x="1605.61" y="185.00" width="31.22" height="29.55" fill="#4575B4"/>
<rect x="1636.83" y="185.00" width="31.22" height="29.55" fill="#4575B4"/>
<rect x="1668.05" y="185.00" width="31.22" height="29.55" fill="#AFD3E8"/>
<rect x="1699.26" y="185.00" width="31.22" height="29.55" fill="#4575B4"/>
<rect x="1730.48" y="185.00" width="31.22" height="29.55" fill="#4575B4"/>
<rect x="1418.30" y="214.55" width="31.22" height="29.55" fill="#4575B4"/>
<rect x="1449.52" y="214.55" width="31.22" height="29.55" fill="#4575B4"/>
<rect x="1480.74" y="214.55" width="31.22" height="29.55" fill="#4878B7"/>
<rect x="1511.95" y="214.55" width="31.22" height="29.55" fill="#4575B4"/>
<rect x="1543.17" y="214.55" width="31.22" height="29.55" fill="#8DBDDA"/>
<rect x="1574.39" y="214.55" width="31.22" height="29.55" fill="#4777B6"/>
<rect x="1605.61" y="214.55" width="31.22" height="29.55" fill="#D73A2B"/>
<rect x="1636.83" y="214.55" width="31.22" height="29.55" fill="#4575B4"/>
<rect x="1668.05" y="214.55" width="31.22" height="29.55" fill="#C2DEEE"/>
<rect x="1699.26" y="214.55" width="31.22" height="29.55" fill="#4F81BF"/>
<rect x="1730.48" y="214.55" width="31.22" height="29.55" fill="#5B8CC5"/>
<path d="M1418.30 37.25V244.10M1449.52 37.25V244.10M1480.74 37.25V244.10M1511.95 37.25V244.10M1543.17 37.25V244.10M1574.39 37.25V244.10M1605.61 37.25V244.10M1636.83 37.25V244.10M1668.05 37.25V244.10M1699.26 37.25V244.10M1730.48 37.25V244.10M1761.70 37.25V244.10M1418.30 37.25H1761.70M1418.30 66.80H1761.70M1418.30 96.35H1761.70M1418.30 125.90H1761.70M1418.30 155.45H1761.70M1418.30 185.00H1761.70M1418.30 214.55H1761.70M1418.30 244.10H1761.70" stroke="#A0A0A0" stroke-width="1.3" fill="none"/>
<text x="1767.2" y="61.7" font-size="20.9">Mm1.NSCs</text>
<text x="1767.2" y="91.3" font-size="20.9">Mm2.VZ progenitors</text>
<text x="1767.2" y="120.8" font-size="20.9">Mm3.Gliogenic progenitors</text>
<text x="1767.2" y="150.4" font-size="20.9">Mm4.Bergmann glia</text>
<text x="1767.2" y="179.9" font-size="20.9">Mm5.Astrocytes</text>
<text x="1767.2" y="209.5" font-size="20.9">Mm6.RPSCs</text>
<text x="1767.2" y="239.0" font-size="20.9">Mm7.Choroid plexus</text>
<rect x="1418.30" y="249.90" width="31.22" height="29.62" fill="#4575B4"/>
<rect x="1449.52" y="249.90" width="31.22" height="29.62" fill="#4575B4"/>
<rect x="1480.74" y="249.90" width="31.22" height="29.62" fill="#4575B4"/>
<rect x="1511.95" y="249.90" width="31.22" height="29.62" fill="#4B7CBB"/>
<rect x="1543.17" y="249.90" width="31.22" height="29.62" fill="#4575B4"/>
<rect x="1574.39" y="249.90" width="31.22" height="29.62" fill="#4575B4"/>
<rect x="1605.61" y="249.90" width="31.22" height="29.62" fill="#4575B4"/>
<rect x="1636.83" y="249.90" width="31.22" height="29.62" fill="#4575B4"/>
<rect x="1668.05" y="249.90" width="31.22" height="29.62" fill="#4575B4"/>
<rect x="1699.26" y="249.90" width="31.22" height="29.62" fill="#4575B4"/>
<rect x="1730.48" y="249.90" width="31.22" height="29.62" fill="#4575B4"/>
<rect x="1418.30" y="279.52" width="31.22" height="29.62" fill="#4575B4"/>
<rect x="1449.52" y="279.52" width="31.22" height="29.62" fill="#5284C0"/>
<rect x="1480.74" y="279.52" width="31.22" height="29.62" fill="#4575B4"/>
<rect x="1511.95" y="279.52" width="31.22" height="29.62" fill="#4575B4"/>
<rect x="1543.17" y="279.52" width="31.22" height="29.62" fill="#4575B4"/>
<rect x="1574.39" y="279.52" width="31.22" height="29.62" fill="#4575B4"/>
<rect x="1605.61" y="279.52" width="31.22" height="29.62" fill="#4575B4"/>
<rect x="1636.83" y="279.52" width="31.22" height="29.62" fill="#4A7BBA"/>
<rect x="1668.05" y="279.52" width="31.22" height="29.62" fill="#4575B4"/>
<rect x="1699.26" y="279.52" width="31.22" height="29.62" fill="#4575B4"/>
<rect x="1730.48" y="279.52" width="31.22" height="29.62" fill="#4575B4"/>
<rect x="1418.30" y="309.13" width="31.22" height="29.62" fill="#4575B4"/>
<rect x="1449.52" y="309.13" width="31.22" height="29.62" fill="#ACD2E7"/>
<rect x="1480.74" y="309.13" width="31.22" height="29.62" fill="#6294C8"/>
<rect x="1511.95" y="309.13" width="31.22" height="29.62" fill="#4575B4"/>
<rect x="1543.17" y="309.13" width="31.22" height="29.62" fill="#4575B4"/>
<rect x="1574.39" y="309.13" width="31.22" height="29.62" fill="#72A4D1"/>
<rect x="1605.61" y="309.13" width="31.22" height="29.62" fill="#4575B4"/>
<rect x="1636.83" y="309.13" width="31.22" height="29.62" fill="#EFF8DC"/>
<rect x="1668.05" y="309.13" width="31.22" height="29.62" fill="#7EAFD6"/>
<rect x="1699.26" y="309.13" width="31.22" height="29.62" fill="#7AABD4"/>
<rect x="1730.48" y="309.13" width="31.22" height="29.62" fill="#4D7EBD"/>
<rect x="1418.30" y="338.75" width="31.22" height="29.62" fill="#4575B4"/>
<rect x="1449.52" y="338.75" width="31.22" height="29.62" fill="#4575B4"/>
<rect x="1480.74" y="338.75" width="31.22" height="29.62" fill="#4979B8"/>
<rect x="1511.95" y="338.75" width="31.22" height="29.62" fill="#4575B4"/>
<rect x="1543.17" y="338.75" width="31.22" height="29.62" fill="#4575B4"/>
<rect x="1574.39" y="338.75" width="31.22" height="29.62" fill="#4C7DBC"/>
<rect x="1605.61" y="338.75" width="31.22" height="29.62" fill="#4575B4"/>
<rect x="1636.83" y="338.75" width="31.22" height="29.62" fill="#B0D4E9"/>
<rect x="1668.05" y="338.75" width="31.22" height="29.62" fill="#B0D4E9"/>
<rect x="1699.26" y="338.75" width="31.22" height="29.62" fill="#4575B4"/>
<rect x="1730.48" y="338.75" width="31.22" height="29.62" fill="#4575B4"/>
<rect x="1418.30" y="368.37" width="31.22" height="29.62" fill="#4575B4"/>
<rect x="1449.52" y="368.37" width="31.22" height="29.62" fill="#5688C3"/>
<rect x="1480.74" y="368.37" width="31.22" height="29.62" fill="#4575B4"/>
<rect x="1511.95" y="368.37" width="31.22" height="29.62" fill="#4575B4"/>
<rect x="1543.17" y="368.37" width="31.22" height="29.62" fill="#4575B4"/>
<rect x="1574.39" y="368.37" width="31.22" height="29.62" fill="#4E80BE"/>
<rect x="1605.61" y="368.37" width="31.22" height="29.62" fill="#5083C0"/>
<rect x="1636.83" y="368.37" width="31.22" height="29.62" fill="#5A8BC5"/>
<rect x="1668.05" y="368.37" width="31.22" height="29.62" fill="#6C9ECF"/>
<rect x="1699.26" y="368.37" width="31.22" height="29.62" fill="#FB8C58"/>
<rect x="1730.48" y="368.37" width="31.22" height="29.62" fill="#E55B3C"/>
<rect x="1418.30" y="397.98" width="31.22" height="29.62" fill="#4575B4"/>
<rect x="1449.52" y="397.98" width="31.22" height="29.62" fill="#5083C0"/>
<rect x="1480.74" y="397.98" width="31.22" height="29.62" fill="#4575B4"/>
<rect x="1511.95" y="397.98" width="31.22" height="29.62" fill="#4575B4"/>
<rect x="1543.17" y="397.98" width="31.22" height="29.62" fill="#4575B4"/>
<rect x="1574.39" y="397.98" width="31.22" height="29.62" fill="#4575B4"/>
<rect x="1605.61" y="397.98" width="31.22" height="29.62" fill="#4575B4"/>
<rect x="1636.83" y="397.98" width="31.22" height="29.62" fill="#B2D5EA"/>
<rect x="1668.05" y="397.98" width="31.22" height="29.62" fill="#4575B4"/>
<rect x="1699.26" y="397.98" width="31.22" height="29.62" fill="#4575B4"/>
<rect x="1730.48" y="397.98" width="31.22" height="29.62" fill="#4D7EBD"/>
<path d="M1418.30 249.90V427.60M1449.52 249.90V427.60M1480.74 249.90V427.60M1511.95 249.90V427.60M1543.17 249.90V427.60M1574.39 249.90V427.60M1605.61 249.90V427.60M1636.83 249.90V427.60M1668.05 249.90V427.60M1699.26 249.90V427.60M1730.48 249.90V427.60M1761.70 249.90V427.60M1418.30 249.90H1761.70M1418.30 279.52H1761.70M1418.30 309.13H1761.70M1418.30 338.75H1761.70M1418.30 368.37H1761.70M1418.30 397.98H1761.70M1418.30 427.60H1761.70" stroke="#A0A0A0" stroke-width="1.3" fill="none"/>
<text x="1767.2" y="274.4" font-size="20.9">PFA1.Neural stem cell−like tumor</text>
<text x="1767.2" y="304.0" font-size="20.9">PFA2.Cycling tumor</text>
<text x="1767.2" y="333.6" font-size="20.9">PFA3.Gliogenic progenitor−like tumor</text>
<text x="1767.2" y="363.3" font-size="20.9">PFA4.Hypoxic tumor</text>
<text x="1767.2" y="392.9" font-size="20.9">PFA5.Ciliated tumor</text>
<text x="1767.2" y="422.5" font-size="20.9">PFA6.Immune−like tumor</text>
<text x="0" y="0" font-size="21.0" transform="translate(1431.9,435.5) rotate(45)" dy="7">1 Mm NSCs</text>
<text x="0" y="0" font-size="21.0" transform="translate(1463.1,435.5) rotate(45)" dy="7">2 Mm NSCs/GPs; PFA cycling</text>
<text x="0" y="0" font-size="21.0" transform="translate(1494.3,435.5) rotate(45)" dy="7">3 Mm NSCs/GPs; PFA GP-like</text>
<text x="0" y="0" font-size="21.0" transform="translate(1525.6,435.5) rotate(45)" dy="7">4 Mm VZ progenitors</text>
<text x="0" y="0" font-size="21.0" transform="translate(1556.8,435.5) rotate(45)" dy="7">5 Mm RPSCs/CP</text>
<text x="0" y="0" font-size="21.0" transform="translate(1588.0,435.5) rotate(45)" dy="7">6 Mm Bglia/astrocytes; PFA GP-like</text>
<text x="0" y="0" font-size="21.0" transform="translate(1619.2,435.5) rotate(45)" dy="7">7 Mm CP</text>
<text x="0" y="0" font-size="21.0" transform="translate(1650.4,435.5) rotate(45)" dy="7">8 PFA GP-like/immune-like</text>
<text x="0" y="0" font-size="21.0" transform="translate(1681.7,435.5) rotate(45)" dy="7">9 PFA hypoxic; Mm CP</text>
<text x="0" y="0" font-size="21.0" transform="translate(1712.9,435.5) rotate(45)" dy="7">10 PFA ciliated/GP-like</text>
<text x="0" y="0" font-size="21.0" transform="translate(1744.1,435.5) rotate(45)" dy="7">11 PPA ciliated</text>
<defs><linearGradient id="hmgrad" x1="0" y1="1" x2="0" y2="0"><stop offset="0" stop-color="#4575B4"/><stop offset="0.167" stop-color="#91BFDB"/><stop offset="0.333" stop-color="#E0F3F8"/><stop offset="0.5" stop-color="#FFFFBF"/><stop offset="0.667" stop-color="#FEE090"/><stop offset="0.833" stop-color="#FC8D59"/><stop offset="1" stop-color="#D73027"/></linearGradient></defs>
<rect x="2039.2" y="95.2" width="23.6" height="112.5" fill="url(#hmgrad)"/>
<text x="2040.2" y="82.0" font-size="20.7">Fraction</text>
<text x="2066.3" y="117.8" font-size="20.7">0.8</text>
<text x="2066.3" y="140.9" font-size="20.7">0.6</text>
<text x="2066.3" y="164.3" font-size="20.7">0.4</text>
<text x="2066.3" y="187.9" font-size="20.7">0.2</text>
<text x="2066.3" y="211.5" font-size="20.7">0</text>
<text x="0.0" y="743.8" font-size="33" font-weight="bold">d</text>
<circle cx="367.2" cy="765.7" r="1" fill="#7FA6D0"/>
<circle cx="388.8" cy="765.7" r="1.4" fill="#5682BE"/>
<circle cx="410.3" cy="765.7" r="1.55" fill="#5682BE"/>
<circle cx="431.9" cy="765.7" r="4.2" fill="#A2C8E2"/>
<circle cx="453.4" cy="765.7" r="3.9" fill="#C6E0EE"/>
<circle cx="475.0" cy="765.7" r="8.2" fill="#FDBF71"/>
<circle cx="496.6" cy="765.7" r="1.4" fill="#5682BE"/>
<circle cx="518.1" cy="765.7" r="1.4" fill="#7FA6D0"/>
<circle cx="539.7" cy="765.7" r="1" fill="#7FA6D0"/>
<circle cx="561.2" cy="765.7" r="1.7" fill="#5682BE"/>
<circle cx="582.8" cy="765.7" r="1.3" fill="#7FA6D0"/>
<circle cx="604.4" cy="765.7" r="1" fill="#7FA6D0"/>
<circle cx="625.9" cy="765.7" r="1.7" fill="#7FA6D0"/>
<circle cx="647.5" cy="765.7" r="1.1" fill="#7FA6D0"/>
<circle cx="669.0" cy="765.7" r="2" fill="#5682BE"/>
<circle cx="690.6" cy="765.7" r="3.2" fill="#7FA6D0"/>
<circle cx="712.2" cy="765.7" r="4.4" fill="#7FA6D0"/>
<circle cx="733.7" cy="765.7" r="4.8" fill="#A2C8E2"/>
<circle cx="755.3" cy="765.7" r="1.6" fill="#7FA6D0"/>
<circle cx="776.8" cy="765.7" r="1.6" fill="#7FA6D0"/>
<circle cx="798.4" cy="765.7" r="1.6" fill="#7FA6D0"/>
<circle cx="820.0" cy="765.7" r="1.7" fill="#A2C8E2"/>
<circle cx="841.5" cy="765.7" r="7.3" fill="#FFF9AE"/>
<circle cx="863.1" cy="765.7" r="2.8" fill="#ECF5D5"/>
<circle cx="884.6" cy="765.7" r="1.1" fill="#7FA6D0"/>
<circle cx="906.2" cy="765.7" r="2" fill="#7FA6D0"/>
<circle cx="927.8" cy="765.7" r="4.1" fill="#A2C8E2"/>
<circle cx="949.3" cy="765.7" r="2.7" fill="#A2C8E2"/>
<circle cx="970.9" cy="765.7" r="3.8" fill="#C6E0EE"/>
<circle cx="992.4" cy="765.7" r="1.1" fill="#7FA6D0"/>
<circle cx="1014.0" cy="765.7" r="10.6" fill="#DA3528"/>
<circle cx="1035.6" cy="765.7" r="10.6" fill="#DA3528"/>
<circle cx="1057.1" cy="765.7" r="11" fill="#DA3528"/>
<circle cx="367.2" cy="790.2" r="1" fill="#7FA6D0"/>
<circle cx="388.8" cy="790.2" r="1.4" fill="#7FA6D0"/>
<circle cx="410.3" cy="790.2" r="1.7" fill="#5682BE"/>
<circle cx="431.9" cy="790.2" r="2.5" fill="#7FA6D0"/>
<circle cx="453.4" cy="790.2" r="1.4" fill="#5682BE"/>
<circle cx="475.0" cy="790.2" r="7.9" fill="#FEE28E"/>
<circle cx="496.6" cy="790.2" r="1.4" fill="#5682BE"/>
<circle cx="518.1" cy="790.2" r="1.4" fill="#7FA6D0"/>
<circle cx="539.7" cy="790.2" r="1" fill="#7FA6D0"/>
<circle cx="561.2" cy="790.2" r="1.7" fill="#5682BE"/>
<circle cx="582.8" cy="790.2" r="1.4" fill="#7FA6D0"/>
<circle cx="604.4" cy="790.2" r="1" fill="#7FA6D0"/>
<circle cx="625.9" cy="790.2" r="4.6" fill="#DFEEE7"/>
<circle cx="647.5" cy="790.2" r="1.4" fill="#7FA6D0"/>
<circle cx="669.0" cy="790.2" r="2" fill="#5682BE"/>
<circle cx="690.6" cy="790.2" r="3.4" fill="#7FA6D0"/>
<circle cx="712.2" cy="790.2" r="4.2" fill="#7FA6D0"/>
<circle cx="733.7" cy="790.2" r="7.8" fill="#FEE28E"/>
<circle cx="755.3" cy="790.2" r="1.6" fill="#7FA6D0"/>
<circle cx="776.8" cy="790.2" r="1.4" fill="#7FA6D0"/>
<circle cx="798.4" cy="790.2" r="1.4" fill="#7FA6D0"/>
<circle cx="820.0" cy="790.2" r="1.8" fill="#A2C8E2"/>
<circle cx="841.5" cy="790.2" r="3.9" fill="#C6E0EE"/>
<circle cx="863.1" cy="790.2" r="1.7" fill="#7FA6D0"/>
<circle cx="884.6" cy="790.2" r="1.1" fill="#7FA6D0"/>
<circle cx="906.2" cy="790.2" r="1.7" fill="#7FA6D0"/>
<circle cx="927.8" cy="790.2" r="3.9" fill="#ECF5D5"/>
<circle cx="949.3" cy="790.2" r="9" fill="#DA3528"/>
<circle cx="970.9" cy="790.2" r="10.2" fill="#DA3528"/>
<circle cx="992.4" cy="790.2" r="9" fill="#DA3528"/>
<circle cx="1014.0" cy="790.2" r="8.5" fill="#DFEEE7"/>
<circle cx="1035.6" cy="790.2" r="9.4" fill="#DFEEE7"/>
<circle cx="1057.1" cy="790.2" r="9.2" fill="#DFEEE7"/>
<circle cx="367.2" cy="814.7" r="1.3" fill="#7FA6D0"/>
<circle cx="388.8" cy="814.7" r="3.4" fill="#7FA6D0"/>
<circle cx="410.3" cy="814.7" r="3.5" fill="#7FA6D0"/>
<circle cx="431.9" cy="814.7" r="3" fill="#A2C8E2"/>
<circle cx="453.4" cy="814.7" r="4.1" fill="#DFEEE7"/>
<circle cx="475.0" cy="814.7" r="5.1" fill="#C6E0EE"/>
<circle cx="496.6" cy="814.7" r="3.8" fill="#5682BE"/>
<circle cx="518.1" cy="814.7" r="2.3" fill="#7FA6D0"/>
<circle cx="539.7" cy="814.7" r="1" fill="#7FA6D0"/>
<circle cx="561.2" cy="814.7" r="6.2" fill="#7FA6D0"/>
<circle cx="582.8" cy="814.7" r="3.1" fill="#7FA6D0"/>
<circle cx="604.4" cy="814.7" r="1.7" fill="#7FA6D0"/>
<circle cx="625.9" cy="814.7" r="4.1" fill="#A2C8E2"/>
<circle cx="647.5" cy="814.7" r="3.4" fill="#A2C8E2"/>
<circle cx="669.0" cy="814.7" r="6.6" fill="#C6E0EE"/>
<circle cx="690.6" cy="814.7" r="6.2" fill="#7FA6D0"/>
<circle cx="712.2" cy="814.7" r="8.9" fill="#A2C8E2"/>
<circle cx="733.7" cy="814.7" r="4.1" fill="#A2C8E2"/>
<circle cx="755.3" cy="814.7" r="5.4" fill="#A2C8E2"/>
<circle cx="776.8" cy="814.7" r="4.4" fill="#C6E0EE"/>
<circle cx="798.4" cy="814.7" r="3.4" fill="#A2C8E2"/>
<circle cx="820.0" cy="814.7" r="2.1" fill="#A2C8E2"/>
<circle cx="841.5" cy="814.7" r="3.1" fill="#C6E0EE"/>
<circle cx="863.1" cy="814.7" r="1.4" fill="#7FA6D0"/>
<circle cx="884.6" cy="814.7" r="3.1" fill="#DA3528"/>
<circle cx="906.2" cy="814.7" r="4.1" fill="#DA3528"/>
<circle cx="927.8" cy="814.7" r="5.4" fill="#FDBF71"/>
<circle cx="949.3" cy="814.7" r="4.9" fill="#A2C8E2"/>
<circle cx="970.9" cy="814.7" r="3.1" fill="#A2C8E2"/>
<circle cx="992.4" cy="814.7" r="1.1" fill="#7FA6D0"/>
<circle cx="1014.0" cy="814.7" r="4.4" fill="#A2C8E2"/>
<circle cx="1035.6" cy="814.7" r="6.9" fill="#A2C8E2"/>
<circle cx="1057.1" cy="814.7" r="6.1" fill="#C6E0EE"/>
<circle cx="367.2" cy="839.3" r="1.3" fill="#7FA6D0"/>
<circle cx="388.8" cy="839.3" r="1.6" fill="#7FA6D0"/>
<circle cx="410.3" cy="839.3" r="1.4" fill="#7FA6D0"/>
<circle cx="431.9" cy="839.3" r="5.9" fill="#DA3528"/>
<circle cx="453.4" cy="839.3" r="6.2" fill="#DA3528"/>
<circle cx="475.0" cy="839.3" r="9" fill="#FDBF71"/>
<circle cx="496.6" cy="839.3" r="1.3" fill="#5682BE"/>
<circle cx="518.1" cy="839.3" r="1.7" fill="#7FA6D0"/>
<circle cx="539.7" cy="839.3" r="1" fill="#7FA6D0"/>
<circle cx="561.2" cy="839.3" r="1.7" fill="#7FA6D0"/>
<circle cx="582.8" cy="839.3" r="1.3" fill="#7FA6D0"/>
<circle cx="604.4" cy="839.3" r="1.4" fill="#7FA6D0"/>
<circle cx="625.9" cy="839.3" r="2.3" fill="#7FA6D0"/>
<circle cx="647.5" cy="839.3" r="1.7" fill="#7FA6D0"/>
<circle cx="669.0" cy="839.3" r="2.7" fill="#5682BE"/>
<circle cx="690.6" cy="839.3" r="3.7" fill="#7FA6D0"/>
<circle cx="712.2" cy="839.3" r="8.3" fill="#A2C8E2"/>
<circle cx="733.7" cy="839.3" r="5.6" fill="#C6E0EE"/>
<circle cx="755.3" cy="839.3" r="1.4" fill="#7FA6D0"/>
<circle cx="776.8" cy="839.3" r="1" fill="#7FA6D0"/>
<circle cx="798.4" cy="839.3" r="1" fill="#7FA6D0"/>
<circle cx="820.0" cy="839.3" r="4.5" fill="#DA3528"/>
<circle cx="841.5" cy="839.3" r="6.8" fill="#DA3528"/>
<circle cx="863.1" cy="839.3" r="4.4" fill="#DA3528"/>
<circle cx="884.6" cy="839.3" r="2.7" fill="#ECF5D5"/>
<circle cx="906.2" cy="839.3" r="4.7" fill="#FDBF71"/>
<circle cx="927.8" cy="839.3" r="7.3" fill="#F67F4D"/>
<circle cx="949.3" cy="839.3" r="3" fill="#A2C8E2"/>
<circle cx="970.9" cy="839.3" r="2.7" fill="#A2C8E2"/>
<circle cx="992.4" cy="839.3" r="1.6" fill="#A2C8E2"/>
<circle cx="1014.0" cy="839.3" r="5.9" fill="#C6E0EE"/>
<circle cx="1035.6" cy="839.3" r="7.9" fill="#C6E0EE"/>
<circle cx="1057.1" cy="839.3" r="9.4" fill="#DFEEE7"/>
<circle cx="367.2" cy="863.8" r="1.7" fill="#7FA6D0"/>
<circle cx="388.8" cy="863.8" r="4.4" fill="#7FA6D0"/>
<circle cx="410.3" cy="863.8" r="2.1" fill="#5682BE"/>
<circle cx="431.9" cy="863.8" r="1.1" fill="#7FA6D0"/>
<circle cx="453.4" cy="863.8" r="3.7" fill="#5682BE"/>
<circle cx="475.0" cy="863.8" r="3" fill="#5682BE"/>
<circle cx="496.6" cy="863.8" r="2.1" fill="#5682BE"/>
<circle cx="518.1" cy="863.8" r="1.8" fill="#7FA6D0"/>
<circle cx="539.7" cy="863.8" r="0.8" fill="#7FA6D0"/>
<circle cx="561.2" cy="863.8" r="10.7" fill="#C6E0EE"/>
<circle cx="582.8" cy="863.8" r="3.1" fill="#7FA6D0"/>
<circle cx="604.4" cy="863.8" r="1.7" fill="#7FA6D0"/>
<circle cx="625.9" cy="863.8" r="7.8" fill="#A2C8E2"/>
<circle cx="647.5" cy="863.8" r="2.8" fill="#7FA6D0"/>
<circle cx="669.0" cy="863.8" r="10.6" fill="#C6E0EE"/>
<circle cx="690.6" cy="863.8" r="2.8" fill="#5682BE"/>
<circle cx="712.2" cy="863.8" r="5.1" fill="#5682BE"/>
<circle cx="733.7" cy="863.8" r="1.7" fill="#5682BE"/>
<circle cx="755.3" cy="863.8" r="10.7" fill="#DA3528"/>
<circle cx="776.8" cy="863.8" r="10.7" fill="#DA3528"/>
<circle cx="798.4" cy="863.8" r="10.7" fill="#DA3528"/>
<circle cx="820.0" cy="863.8" r="1" fill="#7FA6D0"/>
<circle cx="841.5" cy="863.8" r="1.7" fill="#7FA6D0"/>
<circle cx="863.1" cy="863.8" r="3.5" fill="#A2C8E2"/>
<circle cx="884.6" cy="863.8" r="1.7" fill="#7FA6D0"/>
<circle cx="906.2" cy="863.8" r="1.7" fill="#7FA6D0"/>
<circle cx="927.8" cy="863.8" r="3.1" fill="#5682BE"/>
<circle cx="949.3" cy="863.8" r="8.9" fill="#A2C8E2"/>
<circle cx="970.9" cy="863.8" r="3.2" fill="#A2C8E2"/>
<circle cx="992.4" cy="863.8" r="2.7" fill="#A2C8E2"/>
<circle cx="1014.0" cy="863.8" r="5.2" fill="#7FA6D0"/>
<circle cx="1035.6" cy="863.8" r="11" fill="#A2C8E2"/>
<circle cx="1057.1" cy="863.8" r="8.5" fill="#7FA6D0"/>
<circle cx="367.2" cy="888.3" r="1.3" fill="#7FA6D0"/>
<circle cx="388.8" cy="888.3" r="3.1" fill="#5682BE"/>
<circle cx="410.3" cy="888.3" r="5.5" fill="#C6E0EE"/>
<circle cx="431.9" cy="888.3" r="1.6" fill="#7FA6D0"/>
<circle cx="453.4" cy="888.3" r="1.7" fill="#7FA6D0"/>
<circle cx="475.0" cy="888.3" r="3.4" fill="#7FA6D0"/>
<circle cx="496.6" cy="888.3" r="8.7" fill="#ECF5D5"/>
<circle cx="518.1" cy="888.3" r="5.6" fill="#FFF9AE"/>
<circle cx="539.7" cy="888.3" r="3.5" fill="#C6E0EE"/>
<circle cx="561.2" cy="888.3" r="7.8" fill="#7FA6D0"/>
<circle cx="582.8" cy="888.3" r="5.1" fill="#A2C8E2"/>
<circle cx="604.4" cy="888.3" r="2.4" fill="#7FA6D0"/>
<circle cx="625.9" cy="888.3" r="1.4" fill="#7FA6D0"/>
<circle cx="647.5" cy="888.3" r="1.7" fill="#7FA6D0"/>
<circle cx="669.0" cy="888.3" r="7.3" fill="#7FA6D0"/>
<circle cx="690.6" cy="888.3" r="9.7" fill="#DA3528"/>
<circle cx="712.2" cy="888.3" r="10.3" fill="#DA3528"/>
<circle cx="733.7" cy="888.3" r="10" fill="#DA3528"/>
<circle cx="755.3" cy="888.3" r="6.6" fill="#A2C8E2"/>
<circle cx="776.8" cy="888.3" r="3.2" fill="#A2C8E2"/>
<circle cx="798.4" cy="888.3" r="1" fill="#7FA6D0"/>
<circle cx="820.0" cy="888.3" r="1.3" fill="#7FA6D0"/>
<circle cx="841.5" cy="888.3" r="1.7" fill="#7FA6D0"/>
<circle cx="863.1" cy="888.3" r="1.3" fill="#7FA6D0"/>
<circle cx="884.6" cy="888.3" r="1.1" fill="#7FA6D0"/>
<circle cx="906.2" cy="888.3" r="2.1" fill="#7FA6D0"/>
<circle cx="927.8" cy="888.3" r="3.1" fill="#A2C8E2"/>
<circle cx="949.3" cy="888.3" r="2.4" fill="#A2C8E2"/>
<circle cx="970.9" cy="888.3" r="1.6" fill="#7FA6D0"/>
<circle cx="992.4" cy="888.3" r="1.4" fill="#7FA6D0"/>
<circle cx="1014.0" cy="888.3" r="1.8" fill="#7FA6D0"/>
<circle cx="1035.6" cy="888.3" r="3.2" fill="#7FA6D0"/>
<circle cx="1057.1" cy="888.3" r="4.9" fill="#7FA6D0"/>
<circle cx="367.2" cy="912.8" r="7.1" fill="#DFEEE7"/>
<circle cx="388.8" cy="912.8" r="11" fill="#F67F4D"/>
<circle cx="410.3" cy="912.8" r="8.2" fill="#FFF9AE"/>
<circle cx="431.9" cy="912.8" r="2.5" fill="#7FA6D0"/>
<circle cx="453.4" cy="912.8" r="2.1" fill="#5682BE"/>
<circle cx="475.0" cy="912.8" r="3.1" fill="#5682BE"/>
<circle cx="496.6" cy="912.8" r="4.8" fill="#5682BE"/>
<circle cx="518.1" cy="912.8" r="2.8" fill="#7FA6D0"/>
<circle cx="539.7" cy="912.8" r="2.1" fill="#A2C8E2"/>
<circle cx="561.2" cy="912.8" r="10.3" fill="#F67F4D"/>
<circle cx="582.8" cy="912.8" r="4.1" fill="#A2C8E2"/>
<circle cx="604.4" cy="912.8" r="1.7" fill="#7FA6D0"/>
<circle cx="625.9" cy="912.8" r="10" fill="#DA3528"/>
<circle cx="647.5" cy="912.8" r="9.9" fill="#DA3528"/>
<circle cx="669.0" cy="912.8" r="11" fill="#DA3528"/>
<circle cx="690.6" cy="912.8" r="7.3" fill="#7FA6D0"/>
<circle cx="712.2" cy="912.8" r="10.6" fill="#A2C8E2"/>
<circle cx="733.7" cy="912.8" r="1.7" fill="#5682BE"/>
<circle cx="755.3" cy="912.8" r="2.5" fill="#7FA6D0"/>
<circle cx="776.8" cy="912.8" r="4.1" fill="#A2C8E2"/>
<circle cx="798.4" cy="912.8" r="1.4" fill="#7FA6D0"/>
<circle cx="820.0" cy="912.8" r="1" fill="#7FA6D0"/>
<circle cx="841.5" cy="912.8" r="1.1" fill="#5682BE"/>
<circle cx="863.1" cy="912.8" r="1.1" fill="#7FA6D0"/>
<circle cx="884.6" cy="912.8" r="1.1" fill="#7FA6D0"/>
<circle cx="906.2" cy="912.8" r="2.1" fill="#7FA6D0"/>
<circle cx="927.8" cy="912.8" r="3.5" fill="#5682BE"/>
<circle cx="949.3" cy="912.8" r="5.1" fill="#A2C8E2"/>
<circle cx="970.9" cy="912.8" r="1.4" fill="#7FA6D0"/>
<circle cx="992.4" cy="912.8" r="1.1" fill="#7FA6D0"/>
<circle cx="1014.0" cy="912.8" r="1.7" fill="#7FA6D0"/>
<circle cx="1035.6" cy="912.8" r="2.5" fill="#7FA6D0"/>
<circle cx="1057.1" cy="912.8" r="3.2" fill="#5682BE"/>
<circle cx="367.2" cy="937.3" r="3" fill="#A2C8E2"/>
<circle cx="388.8" cy="937.3" r="7.1" fill="#A2C8E2"/>
<circle cx="410.3" cy="937.3" r="6.1" fill="#A2C8E2"/>
<circle cx="431.9" cy="937.3" r="1.4" fill="#7FA6D0"/>
<circle cx="453.4" cy="937.3" r="1" fill="#7FA6D0"/>
<circle cx="475.0" cy="937.3" r="2.4" fill="#5682BE"/>
<circle cx="496.6" cy="937.3" r="10.2" fill="#FEE28E"/>
<circle cx="518.1" cy="937.3" r="3.2" fill="#7FA6D0"/>
<circle cx="539.7" cy="937.3" r="3.7" fill="#ECF5D5"/>
<circle cx="561.2" cy="937.3" r="10.4" fill="#F67F4D"/>
<circle cx="582.8" cy="937.3" r="9.9" fill="#DA3528"/>
<circle cx="604.4" cy="937.3" r="9.9" fill="#DA3528"/>
<circle cx="625.9" cy="937.3" r="1" fill="#7FA6D0"/>
<circle cx="647.5" cy="937.3" r="2.4" fill="#A2C8E2"/>
<circle cx="669.0" cy="937.3" r="6.8" fill="#7FA6D0"/>
<circle cx="690.6" cy="937.3" r="10.4" fill="#C6E0EE"/>
<circle cx="712.2" cy="937.3" r="10.6" fill="#C6E0EE"/>
<circle cx="733.7" cy="937.3" r="4.9" fill="#7FA6D0"/>
<circle cx="755.3" cy="937.3" r="5.4" fill="#A2C8E2"/>
<circle cx="776.8" cy="937.3" r="1.3" fill="#7FA6D0"/>
<circle cx="798.4" cy="937.3" r="1" fill="#7FA6D0"/>
<circle cx="820.0" cy="937.3" r="1" fill="#7FA6D0"/>
<circle cx="841.5" cy="937.3" r="1.3" fill="#7FA6D0"/>
<circle cx="863.1" cy="937.3" r="1.1" fill="#7FA6D0"/>
<circle cx="884.6" cy="937.3" r="1.4" fill="#7FA6D0"/>
<circle cx="906.2" cy="937.3" r="1.1" fill="#7FA6D0"/>
<circle cx="927.8" cy="937.3" r="1.3" fill="#5682BE"/>
<circle cx="949.3" cy="937.3" r="1.6" fill="#7FA6D0"/>
<circle cx="970.9" cy="937.3" r="1.1" fill="#7FA6D0"/>
<circle cx="992.4" cy="937.3" r="1.1" fill="#7FA6D0"/>
<circle cx="1014.0" cy="937.3" r="1.1" fill="#7FA6D0"/>
<circle cx="1035.6" cy="937.3" r="1.6" fill="#7FA6D0"/>
<circle cx="1057.1" cy="937.3" r="1.8" fill="#5682BE"/>
<circle cx="367.2" cy="961.9" r="3.1" fill="#A2C8E2"/>
<circle cx="388.8" cy="961.9" r="8.2" fill="#C6E0EE"/>
<circle cx="410.3" cy="961.9" r="6.6" fill="#A2C8E2"/>
<circle cx="431.9" cy="961.9" r="1.8" fill="#7FA6D0"/>
<circle cx="453.4" cy="961.9" r="1.4" fill="#7FA6D0"/>
<circle cx="475.0" cy="961.9" r="3" fill="#5682BE"/>
<circle cx="496.6" cy="961.9" r="9.9" fill="#F67F4D"/>
<circle cx="518.1" cy="961.9" r="7" fill="#DA3528"/>
<circle cx="539.7" cy="961.9" r="7.3" fill="#DA3528"/>
<circle cx="561.2" cy="961.9" r="9.2" fill="#A2C8E2"/>
<circle cx="582.8" cy="961.9" r="9" fill="#ECF5D5"/>
<circle cx="604.4" cy="961.9" r="8.2" fill="#ECF5D5"/>
<circle cx="625.9" cy="961.9" r="1" fill="#7FA6D0"/>
<circle cx="647.5" cy="961.9" r="1.7" fill="#7FA6D0"/>
<circle cx="669.0" cy="961.9" r="8.5" fill="#A2C8E2"/>
<circle cx="690.6" cy="961.9" r="9.9" fill="#ECF5D5"/>
<circle cx="712.2" cy="961.9" r="7.6" fill="#A2C8E2"/>
<circle cx="733.7" cy="961.9" r="3.8" fill="#5682BE"/>
<circle cx="755.3" cy="961.9" r="3.1" fill="#7FA6D0"/>
<circle cx="776.8" cy="961.9" r="1.3" fill="#7FA6D0"/>
<circle cx="798.4" cy="961.9" r="1" fill="#7FA6D0"/>
<circle cx="820.0" cy="961.9" r="1.1" fill="#7FA6D0"/>
<circle cx="841.5" cy="961.9" r="1.7" fill="#7FA6D0"/>
<circle cx="863.1" cy="961.9" r="1.1" fill="#7FA6D0"/>
<circle cx="884.6" cy="961.9" r="1.1" fill="#7FA6D0"/>
<circle cx="906.2" cy="961.9" r="1.4" fill="#7FA6D0"/>
<circle cx="927.8" cy="961.9" r="2.1" fill="#5682BE"/>
<circle cx="949.3" cy="961.9" r="1.7" fill="#7FA6D0"/>
<circle cx="970.9" cy="961.9" r="1.3" fill="#7FA6D0"/>
<circle cx="992.4" cy="961.9" r="1.1" fill="#7FA6D0"/>
<circle cx="1014.0" cy="961.9" r="1.4" fill="#7FA6D0"/>
<circle cx="1035.6" cy="961.9" r="1.8" fill="#7FA6D0"/>
<circle cx="1057.1" cy="961.9" r="2.3" fill="#5682BE"/>
<circle cx="367.2" cy="986.4" r="2.7" fill="#7FA6D0"/>
<circle cx="388.8" cy="986.4" r="5.5" fill="#A2C8E2"/>
<circle cx="410.3" cy="986.4" r="6.3" fill="#C6E0EE"/>
<circle cx="431.9" cy="986.4" r="3.8" fill="#FDBF71"/>
<circle cx="453.4" cy="986.4" r="3.8" fill="#FEE28E"/>
<circle cx="475.0" cy="986.4" r="4.9" fill="#DFEEE7"/>
<circle cx="496.6" cy="986.4" r="7" fill="#ECF5D5"/>
<circle cx="518.1" cy="986.4" r="3.4" fill="#7FA6D0"/>
<circle cx="539.7" cy="986.4" r="2.8" fill="#A2C8E2"/>
<circle cx="561.2" cy="986.4" r="6.8" fill="#7FA6D0"/>
<circle cx="582.8" cy="986.4" r="6.1" fill="#A2C8E2"/>
<circle cx="604.4" cy="986.4" r="4.8" fill="#A2C8E2"/>
<circle cx="625.9" cy="986.4" r="1.4" fill="#7FA6D0"/>
<circle cx="647.5" cy="986.4" r="1.6" fill="#7FA6D0"/>
<circle cx="669.0" cy="986.4" r="7" fill="#A2C8E2"/>
<circle cx="690.6" cy="986.4" r="8.2" fill="#C6E0EE"/>
<circle cx="712.2" cy="986.4" r="9.5" fill="#C6E0EE"/>
<circle cx="733.7" cy="986.4" r="5.1" fill="#7FA6D0"/>
<circle cx="755.3" cy="986.4" r="3.2" fill="#7FA6D0"/>
<circle cx="776.8" cy="986.4" r="1.4" fill="#7FA6D0"/>
<circle cx="798.4" cy="986.4" r="1" fill="#7FA6D0"/>
<circle cx="820.0" cy="986.4" r="1.4" fill="#A2C8E2"/>
<circle cx="841.5" cy="986.4" r="2.8" fill="#A2C8E2"/>
<circle cx="863.1" cy="986.4" r="1.4" fill="#A2C8E2"/>
<circle cx="884.6" cy="986.4" r="1.1" fill="#7FA6D0"/>
<circle cx="906.2" cy="986.4" r="2" fill="#A2C8E2"/>
<circle cx="927.8" cy="986.4" r="2.8" fill="#7FA6D0"/>
<circle cx="949.3" cy="986.4" r="1.7" fill="#7FA6D0"/>
<circle cx="970.9" cy="986.4" r="1.7" fill="#7FA6D0"/>
<circle cx="992.4" cy="986.4" r="1.1" fill="#7FA6D0"/>
<circle cx="1014.0" cy="986.4" r="3.4" fill="#A2C8E2"/>
<circle cx="1035.6" cy="986.4" r="4.5" fill="#A2C8E2"/>
<circle cx="1057.1" cy="986.4" r="5.4" fill="#C6E0EE"/>
<circle cx="367.2" cy="1010.9" r="9.6" fill="#DA3528"/>
<circle cx="388.8" cy="1010.9" r="10.6" fill="#F67F4D"/>
<circle cx="410.3" cy="1010.9" r="10.6" fill="#DA3528"/>
<circle cx="431.9" cy="1010.9" r="2.8" fill="#7FA6D0"/>
<circle cx="453.4" cy="1010.9" r="1.4" fill="#7FA6D0"/>
<circle cx="475.0" cy="1010.9" r="3" fill="#5682BE"/>
<circle cx="496.6" cy="1010.9" r="8.7" fill="#C6E0EE"/>
<circle cx="518.1" cy="1010.9" r="6.8" fill="#ECF5D5"/>
<circle cx="539.7" cy="1010.9" r="3.1" fill="#A2C8E2"/>
<circle cx="561.2" cy="1010.9" r="9.3" fill="#7FA6D0"/>
<circle cx="582.8" cy="1010.9" r="5.9" fill="#A2C8E2"/>
<circle cx="604.4" cy="1010.9" r="5.4" fill="#A2C8E2"/>
<circle cx="625.9" cy="1010.9" r="1.7" fill="#7FA6D0"/>
<circle cx="647.5" cy="1010.9" r="1.7" fill="#7FA6D0"/>
<circle cx="669.0" cy="1010.9" r="9.9" fill="#DFEEE7"/>
<circle cx="690.6" cy="1010.9" r="9.9" fill="#A2C8E2"/>
<circle cx="712.2" cy="1010.9" r="8" fill="#A2C8E2"/>
<circle cx="733.7" cy="1010.9" r="2.8" fill="#5682BE"/>
<circle cx="755.3" cy="1010.9" r="1.3" fill="#7FA6D0"/>
<circle cx="776.8" cy="1010.9" r="1.1" fill="#7FA6D0"/>
<circle cx="798.4" cy="1010.9" r="1.1" fill="#7FA6D0"/>
<circle cx="820.0" cy="1010.9" r="1.1" fill="#7FA6D0"/>
<circle cx="841.5" cy="1010.9" r="1" fill="#7FA6D0"/>
<circle cx="863.1" cy="1010.9" r="1.1" fill="#7FA6D0"/>
<circle cx="884.6" cy="1010.9" r="1.1" fill="#7FA6D0"/>
<circle cx="906.2" cy="1010.9" r="1.8" fill="#7FA6D0"/>
<circle cx="927.8" cy="1010.9" r="2.5" fill="#5682BE"/>
<circle cx="949.3" cy="1010.9" r="1.3" fill="#7FA6D0"/>
<circle cx="970.9" cy="1010.9" r="1.1" fill="#7FA6D0"/>
<circle cx="992.4" cy="1010.9" r="1.1" fill="#7FA6D0"/>
<circle cx="1014.0" cy="1010.9" r="1.3" fill="#7FA6D0"/>
<circle cx="1035.6" cy="1010.9" r="1.8" fill="#7FA6D0"/>
<circle cx="1057.1" cy="1010.9" r="2.3" fill="#5682BE"/>
<path d="M354.4 751.2V1025.2H1071" stroke="#000" stroke-width="1.6" fill="none"/>
<path d="M349.6 765.7H354.4M349.6 790.2H354.4M349.6 814.7H354.4M349.6 839.3H354.4M349.6 863.8H354.4M349.6 888.3H354.4M349.6 912.8H354.4M349.6 937.3H354.4M349.6 961.9H354.4M349.6 986.4H354.4M349.6 1010.9H354.4M367.2 1025.2V1030M388.8 1025.2V1030M410.3 1025.2V1030M431.9 1025.2V1030M453.4 1025.2V1030M475.0 1025.2V1030M496.6 1025.2V1030M518.1 1025.2V1030M539.7 1025.2V1030M561.2 1025.2V1030M582.8 1025.2V1030M604.4 1025.2V1030M625.9 1025.2V1030M647.5 1025.2V1030M669.0 1025.2V1030M690.6 1025.2V1030M712.2 1025.2V1030M733.7 1025.2V1030M755.3 1025.2V1030M776.8 1025.2V1030M798.4 1025.2V1030M820.0 1025.2V1030M841.5 1025.2V1030M863.1 1025.2V1030M884.6 1025.2V1030M906.2 1025.2V1030M927.8 1025.2V1030M949.3 1025.2V1030M970.9 1025.2V1030M992.4 1025.2V1030M1014.0 1025.2V1030M1035.6 1025.2V1030M1057.1 1025.2V1030" stroke="#000" stroke-width="1.4" fill="none"/>
<text x="342.8" y="772.7" font-size="21.0" text-anchor="end">11 PPA ciliated</text>
<text x="342.8" y="797.2" font-size="21.0" text-anchor="end">10 PFA ciliated/GP-like</text>
<text x="342.8" y="821.7" font-size="21.0" text-anchor="end">9 PFA hypoxic; Mm CP</text>
<text x="342.8" y="846.3" font-size="21.0" text-anchor="end">8 PFA GP-like/immune-like</text>
<text x="342.8" y="870.8" font-size="21.0" text-anchor="end">7 Mm CP</text>
<text x="342.8" y="895.3" font-size="21.0" text-anchor="end">6 Mm Bglia/astrocytes; PFA GP-like</text>
<text x="342.8" y="919.8" font-size="21.0" text-anchor="end">5 Mm RPSCs/CP</text>
<text x="342.8" y="944.3" font-size="21.0" text-anchor="end">4 Mm VZ progenitors</text>
<text x="342.8" y="968.9" font-size="21.0" text-anchor="end">3 Mm NSCs/GPs; PFA GP-like</text>
<text x="342.8" y="993.4" font-size="21.0" text-anchor="end">2 Mm NSCs/GPs; PFA cycling</text>
<text x="342.8" y="1017.9" font-size="21.0" text-anchor="end">1 Mm NSCs</text>
<text x="0" y="0" font-size="20.7" text-anchor="end" transform="translate(374.5,1036.4) rotate(-90)">Crabp1</text>
<text x="0" y="0" font-size="20.7" text-anchor="end" transform="translate(396.1,1036.4) rotate(-90)">Crabp2</text>
<text x="0" y="0" font-size="20.7" text-anchor="end" transform="translate(417.6,1036.4) rotate(-90)">Pclaf</text>
<text x="0" y="0" font-size="20.7" text-anchor="end" transform="translate(439.2,1036.4) rotate(-90)">Car3</text>
<text x="0" y="0" font-size="20.7" text-anchor="end" transform="translate(460.7,1036.4) rotate(-90)">Igf2</text>
<text x="0" y="0" font-size="20.7" text-anchor="end" transform="translate(482.3,1036.4) rotate(-90)">Gm8797</text>
<text x="0" y="0" font-size="20.7" text-anchor="end" transform="translate(503.9,1036.4) rotate(-90)">Hes5</text>
<text x="0" y="0" font-size="20.7" text-anchor="end" transform="translate(525.4,1036.4) rotate(-90)">Fgfbp3</text>
<text x="0" y="0" font-size="20.7" text-anchor="end" transform="translate(547.0,1036.4) rotate(-90)">Wnt7b</text>
<text x="0" y="0" font-size="20.7" text-anchor="end" transform="translate(568.5,1036.4) rotate(-90)">Cdkn1c</text>
<text x="0" y="0" font-size="20.7" text-anchor="end" transform="translate(590.1,1036.4) rotate(-90)">Tubb3</text>
<text x="0" y="0" font-size="20.7" text-anchor="end" transform="translate(611.7,1036.4) rotate(-90)">Elavl3</text>
<text x="0" y="0" font-size="20.7" text-anchor="end" transform="translate(633.2,1036.4) rotate(-90)">Colec12</text>
<text x="0" y="0" font-size="20.7" text-anchor="end" transform="translate(654.8,1036.4) rotate(-90)">Mafb</text>
<text x="0" y="0" font-size="20.7" text-anchor="end" transform="translate(676.3,1036.4) rotate(-90)">Mest</text>
<text x="0" y="0" font-size="20.7" text-anchor="end" transform="translate(697.9,1036.4) rotate(-90)">Fabp7</text>
<text x="0" y="0" font-size="20.7" text-anchor="end" transform="translate(719.5,1036.4) rotate(-90)">Ptn</text>
<text x="0" y="0" font-size="20.7" text-anchor="end" transform="translate(741.0,1036.4) rotate(-90)">Sparcl1</text>
<text x="0" y="0" font-size="20.7" text-anchor="end" transform="translate(762.6,1036.4) rotate(-90)">Ttr</text>
<text x="0" y="0" font-size="20.7" text-anchor="end" transform="translate(784.1,1036.4) rotate(-90)">Sostdc1</text>
<text x="0" y="0" font-size="20.7" text-anchor="end" transform="translate(805.7,1036.4) rotate(-90)">Kcne2</text>
<text x="0" y="0" font-size="20.7" text-anchor="end" transform="translate(827.3,1036.4) rotate(-90)">Ccl3</text>
<text x="0" y="0" font-size="20.7" text-anchor="end" transform="translate(848.8,1036.4) rotate(-90)">Cd74</text>
<text x="0" y="0" font-size="20.7" text-anchor="end" transform="translate(870.4,1036.4) rotate(-90)">Apoc1</text>
<text x="0" y="0" font-size="20.7" text-anchor="end" transform="translate(891.9,1036.4) rotate(-90)">Chil1</text>
<text x="0" y="0" font-size="20.7" text-anchor="end" transform="translate(913.5,1036.4) rotate(-90)">Timp1</text>
<text x="0" y="0" font-size="20.7" text-anchor="end" transform="translate(935.1,1036.4) rotate(-90)">Ifitm3</text>
<text x="0" y="0" font-size="20.7" text-anchor="end" transform="translate(956.6,1036.4) rotate(-90)">Syne1</text>
<text x="0" y="0" font-size="20.7" text-anchor="end" transform="translate(978.2,1036.4) rotate(-90)">Dnaaf1</text>
<text x="0" y="0" font-size="20.7" text-anchor="end" transform="translate(999.7,1036.4) rotate(-90)">Cfap157</text>
<text x="0" y="0" font-size="20.7" text-anchor="end" transform="translate(1021.3,1036.4) rotate(-90)">1700013F07Rik</text>
<text x="0" y="0" font-size="20.7" text-anchor="end" transform="translate(1042.9,1036.4) rotate(-90)">1110017D15Rik</text>
<text x="0" y="0" font-size="20.7" text-anchor="end" transform="translate(1064.4,1036.4) rotate(-90)">Ak1</text>
<text x="512.7" y="736.0" font-size="28.5">Top 3 gene markers per cluster</text>
<text x="1084.3" y="796.1" font-size="20.7">Average Expression</text>
<defs><linearGradient id="dotgrad" x1="0" y1="1" x2="0" y2="0"><stop offset="0" stop-color="#4575B4"/><stop offset="0.167" stop-color="#91BFDB"/><stop offset="0.333" stop-color="#E0F3F8"/><stop offset="0.5" stop-color="#FFFFBF"/><stop offset="0.667" stop-color="#FEE090"/><stop offset="0.833" stop-color="#FC8D59"/><stop offset="1" stop-color="#D73027"/></linearGradient></defs>
<rect x="1083.0" y="807.1" width="20.9" height="98.8" fill="url(#dotgrad)"/>
<path d="M1083 821.8h4.2M1099.7 821.8h4.2M1083 850.3h4.2M1099.7 850.3h4.2M1083 878.7h4.2M1099.7 878.7h4.2" stroke="#fff" stroke-width="1.5"/>
<text x="1113.7" y="829.1" font-size="20.7">2</text>
<text x="1113.7" y="857.6" font-size="20.7">1</text>
<text x="1113.7" y="886.0" font-size="20.7">0</text>
<text x="1084.3" y="934.2" font-size="20.7">Percent Expressed</text>
<circle cx="1093.4" cy="955.1" r="4.2" fill="#000"/>
<text x="1113.7" y="962.4" font-size="20.7">25</text>
<circle cx="1093.4" cy="974.1" r="6.3" fill="#000"/>
<text x="1113.7" y="981.4" font-size="20.7">50</text>
<circle cx="1093.4" cy="994.1" r="8.9" fill="#000"/>
<text x="1113.7" y="1001.4" font-size="20.7">75</text>
<text x="1315.5" y="739.0" font-size="33" font-weight="bold">e</text>
<text x="1621.0" y="736.4" font-size="28.4">Integrated clusters in pseudotime</text>
<path d="M1683.0 751.2V1171M1764.5 751.2V1171M1846.0 751.2V1171M1927.6 751.2V1171M2009.1 751.2V1171" stroke="#E6E6E6" stroke-width="1.3"/>
<path d="M1671.1 833.0C1694.3 833.0 1717.4 832.9 1740.6 832.8C1748.3 832.8 1756.0 832.7 1763.6 832.6C1775.1 832.4 1786.7 832.4 1798.2 832.1C1801.2 832.0 1804.3 831.7 1807.4 831.7C1810.5 831.7 1813.5 832.3 1816.6 832.3C1822.7 832.3 1828.9 832.3 1835.0 832.3C1837.3 832.3 1839.6 830.4 1841.9 829.8C1844.2 829.2 1846.5 828.4 1848.8 828.4C1852.7 828.4 1856.5 828.5 1860.3 828.7C1863.0 828.8 1865.7 829.7 1868.4 830.3C1870.3 830.7 1872.2 831.7 1874.2 831.7C1876.5 831.7 1878.8 830.2 1881.1 829.3C1884.1 828.2 1887.2 825.9 1890.3 825.7C1893.4 825.4 1896.4 825.5 1899.5 825.2C1901.8 825.0 1904.1 822.3 1906.4 820.6C1908.7 818.9 1911.0 815.8 1913.3 814.8C1916.4 813.6 1919.5 812.5 1922.5 812.5C1924.8 812.5 1927.1 813.9 1929.4 814.8C1931.7 815.8 1934.0 818.3 1936.3 818.3C1938.3 818.3 1940.2 812.9 1942.1 810.2C1943.6 808.1 1945.2 804.0 1946.7 804.0C1948.2 804.0 1949.8 806.4 1951.3 807.9C1952.8 809.5 1954.4 812.0 1955.9 813.7C1957.1 815.0 1958.2 817.1 1959.4 817.1C1960.9 817.1 1962.4 803.2 1964.0 799.9C1965.5 796.6 1967.0 794.1 1968.6 793.0C1969.8 792.1 1971.0 791.1 1972.3 791.1C1973.3 791.1 1974.4 793.3 1975.5 795.3C1976.6 797.4 1977.8 803.9 1978.9 806.8C1980.1 809.7 1981.2 812.3 1982.4 813.7C1984.7 816.5 1987.0 818.2 1989.3 819.4C1992.4 821.1 1995.4 822.0 1998.5 822.9C2000.8 823.6 2003.1 824.5 2005.4 824.7C2007.3 825.0 2009.3 825.2 2011.2 825.2C2013.1 825.2 2015.0 824.2 2016.9 822.9C2018.5 821.9 2020.0 817.3 2021.5 813.7C2023.1 810.1 2024.6 802.6 2026.1 800.3C2027.7 798.1 2029.2 795.7 2030.8 795.7C2031.9 795.7 2033.1 797.9 2034.2 799.9C2035.7 802.6 2037.3 810.8 2038.8 816.0C2040.3 821.2 2041.9 829.7 2043.4 831.0C2044.9 832.2 2046.5 832.3 2048.0 833.0Z" fill="#E8A8E4"/>
<path d="M1671.1 833.0C1694.3 833.0 1717.4 832.9 1740.6 832.8C1748.3 832.8 1756.0 832.7 1763.6 832.6C1775.1 832.4 1786.7 832.4 1798.2 832.1C1801.2 832.0 1804.3 831.7 1807.4 831.7C1810.5 831.7 1813.5 832.3 1816.6 832.3C1822.7 832.3 1828.9 832.3 1835.0 832.3C1837.3 832.3 1839.6 830.4 1841.9 829.8C1844.2 829.2 1846.5 828.4 1848.8 828.4C1852.7 828.4 1856.5 828.5 1860.3 828.7C1863.0 828.8 1865.7 829.7 1868.4 830.3C1870.3 830.7 1872.2 831.7 1874.2 831.7C1876.5 831.7 1878.8 830.2 1881.1 829.3C1884.1 828.2 1887.2 825.9 1890.3 825.7C1893.4 825.4 1896.4 825.5 1899.5 825.2C1901.8 825.0 1904.1 822.3 1906.4 820.6C1908.7 818.9 1911.0 815.8 1913.3 814.8C1916.4 813.6 1919.5 812.5 1922.5 812.5C1924.8 812.5 1927.1 813.9 1929.4 814.8C1931.7 815.8 1934.0 818.3 1936.3 818.3C1938.3 818.3 1940.2 812.9 1942.1 810.2C1943.6 808.1 1945.2 804.0 1946.7 804.0C1948.2 804.0 1949.8 806.4 1951.3 807.9C1952.8 809.5 1954.4 812.0 1955.9 813.7C1957.1 815.0 1958.2 817.1 1959.4 817.1C1960.9 817.1 1962.4 803.2 1964.0 799.9C1965.5 796.6 1967.0 794.1 1968.6 793.0C1969.8 792.1 1971.0 791.1 1972.3 791.1C1973.3 791.1 1974.4 793.3 1975.5 795.3C1976.6 797.4 1977.8 803.9 1978.9 806.8C1980.1 809.7 1981.2 812.3 1982.4 813.7C1984.7 816.5 1987.0 818.2 1989.3 819.4C1992.4 821.1 1995.4 822.0 1998.5 822.9C2000.8 823.6 2003.1 824.5 2005.4 824.7C2007.3 825.0 2009.3 825.2 2011.2 825.2C2013.1 825.2 2015.0 824.2 2016.9 822.9C2018.5 821.9 2020.0 817.3 2021.5 813.7C2023.1 810.1 2024.6 802.6 2026.1 800.3C2027.7 798.1 2029.2 795.7 2030.8 795.7C2031.9 795.7 2033.1 797.9 2034.2 799.9C2035.7 802.6 2037.3 810.8 2038.8 816.0C2040.3 821.2 2041.9 829.7 2043.4 831.0C2044.9 832.2 2046.5 832.3 2048.0 833.0" fill="none" stroke="#000" stroke-width="1.5"/>
<text x="1658.5" y="833.3" font-size="21.0" text-anchor="end">11 PPA ciliated</text>
<path d="M1671.1 866.2C1758.0 866.2 1844.9 866.2 1931.7 866.2C1934.8 866.2 1937.9 866.0 1940.9 865.7C1942.9 865.6 1944.8 865.3 1946.7 864.4C1947.7 863.9 1948.7 860.9 1949.7 857.4C1950.6 854.3 1951.5 844.3 1952.5 839.0C1953.6 832.4 1954.8 823.1 1955.9 821.8C1957.1 820.4 1958.2 819.4 1959.4 819.4C1960.9 819.4 1962.4 820.7 1964.0 821.8C1965.5 822.8 1967.0 825.1 1968.6 827.0C1969.7 828.5 1970.9 832.1 1972.0 832.1C1973.0 832.1 1974.0 823.2 1975.0 818.3C1976.3 811.9 1977.6 803.5 1978.9 797.6C1980.1 792.3 1981.2 786.4 1982.4 783.8C1983.3 781.6 1984.2 781.5 1985.2 779.1C1986.2 776.6 1987.2 768.0 1988.2 763.0C1989.1 758.5 1990.0 750.4 1990.9 750.4C1991.9 750.4 1992.9 753.9 1993.9 758.4C1994.7 761.9 1995.4 775.0 1996.2 786.1C1997.0 797.1 1997.7 816.5 1998.5 827.5C1999.3 838.6 2000.0 851.4 2000.8 855.1C2002.0 860.7 2003.1 864.7 2004.3 865.0C2006.2 865.7 2008.1 866.0 2010.0 866.0C2016.2 866.0 2022.3 865.7 2028.5 865.7C2031.5 865.7 2034.6 865.9 2037.7 866.0C2041.1 866.0 2044.6 866.1 2048.0 866.2Z" fill="#A8789E"/>
<path d="M1671.1 866.2C1758.0 866.2 1844.9 866.2 1931.7 866.2C1934.8 866.2 1937.9 866.0 1940.9 865.7C1942.9 865.6 1944.8 865.3 1946.7 864.4C1947.7 863.9 1948.7 860.9 1949.7 857.4C1950.6 854.3 1951.5 844.3 1952.5 839.0C1953.6 832.4 1954.8 823.1 1955.9 821.8C1957.1 820.4 1958.2 819.4 1959.4 819.4C1960.9 819.4 1962.4 820.7 1964.0 821.8C1965.5 822.8 1967.0 825.1 1968.6 827.0C1969.7 828.5 1970.9 832.1 1972.0 832.1C1973.0 832.1 1974.0 823.2 1975.0 818.3C1976.3 811.9 1977.6 803.5 1978.9 797.6C1980.1 792.3 1981.2 786.4 1982.4 783.8C1983.3 781.6 1984.2 781.5 1985.2 779.1C1986.2 776.6 1987.2 768.0 1988.2 763.0C1989.1 758.5 1990.0 750.4 1990.9 750.4C1991.9 750.4 1992.9 753.9 1993.9 758.4C1994.7 761.9 1995.4 775.0 1996.2 786.1C1997.0 797.1 1997.7 816.5 1998.5 827.5C1999.3 838.6 2000.0 851.4 2000.8 855.1C2002.0 860.7 2003.1 864.7 2004.3 865.0C2006.2 865.7 2008.1 866.0 2010.0 866.0C2016.2 866.0 2022.3 865.7 2028.5 865.7C2031.5 865.7 2034.6 865.9 2037.7 866.0C2041.1 866.0 2044.6 866.1 2048.0 866.2" fill="none" stroke="#000" stroke-width="1.5"/>
<text x="1658.5" y="866.5" font-size="21.0" text-anchor="end">10 PFA ciliated/GP-like</text>
<path d="M1671.1 899.4C1736.5 899.4 1801.9 899.4 1867.3 899.4C1868.8 899.4 1870.3 895.5 1871.9 892.0C1873.0 889.4 1874.2 879.3 1875.3 879.3C1876.5 879.3 1877.6 879.3 1878.8 879.3C1880.3 879.3 1881.8 883.9 1883.4 883.9C1884.5 883.9 1885.7 883.9 1886.8 883.9C1888.0 883.9 1889.1 878.9 1890.3 875.9C1891.0 873.8 1891.8 871.0 1892.6 869.0C1893.7 865.9 1894.9 862.2 1896.0 860.9C1897.6 859.1 1899.1 858.9 1900.6 857.4C1901.8 856.3 1902.9 854.9 1904.1 852.8C1905.6 850.1 1907.2 843.0 1908.7 839.0C1910.2 835.1 1911.8 828.7 1913.3 828.7C1914.5 828.7 1915.6 833.6 1916.8 836.7C1917.9 839.9 1919.1 845.4 1920.2 848.2C1921.4 851.1 1922.5 855.1 1923.7 855.1C1924.8 855.1 1926.0 853.5 1927.1 853.5C1927.9 853.5 1928.7 855.5 1929.4 857.4C1930.2 859.4 1931.0 865.2 1931.7 869.0C1932.9 874.5 1934.0 883.2 1935.2 885.1C1936.3 887.0 1937.5 888.5 1938.6 888.5C1940.6 888.5 1942.5 885.5 1944.4 885.5C1945.9 885.5 1947.5 890.0 1949.0 892.0C1950.5 894.0 1952.1 897.0 1953.6 897.7C1955.5 898.6 1957.4 899.4 1959.4 899.4C1965.5 899.4 1971.6 899.4 1977.8 899.4C1979.3 899.4 1980.9 898.8 1982.4 898.4C1984.3 898.0 1986.2 897.1 1988.2 897.1C1989.7 897.1 1991.2 898.2 1992.8 898.4C1995.4 898.9 1998.1 899.4 2000.8 899.4C2016.5 899.4 2032.3 899.4 2048.0 899.4Z" fill="#6A8E69"/>
<path d="M1671.1 899.4C1736.5 899.4 1801.9 899.4 1867.3 899.4C1868.8 899.4 1870.3 895.5 1871.9 892.0C1873.0 889.4 1874.2 879.3 1875.3 879.3C1876.5 879.3 1877.6 879.3 1878.8 879.3C1880.3 879.3 1881.8 883.9 1883.4 883.9C1884.5 883.9 1885.7 883.9 1886.8 883.9C1888.0 883.9 1889.1 878.9 1890.3 875.9C1891.0 873.8 1891.8 871.0 1892.6 869.0C1893.7 865.9 1894.9 862.2 1896.0 860.9C1897.6 859.1 1899.1 858.9 1900.6 857.4C1901.8 856.3 1902.9 854.9 1904.1 852.8C1905.6 850.1 1907.2 843.0 1908.7 839.0C1910.2 835.1 1911.8 828.7 1913.3 828.7C1914.5 828.7 1915.6 833.6 1916.8 836.7C1917.9 839.9 1919.1 845.4 1920.2 848.2C1921.4 851.1 1922.5 855.1 1923.7 855.1C1924.8 855.1 1926.0 853.5 1927.1 853.5C1927.9 853.5 1928.7 855.5 1929.4 857.4C1930.2 859.4 1931.0 865.2 1931.7 869.0C1932.9 874.5 1934.0 883.2 1935.2 885.1C1936.3 887.0 1937.5 888.5 1938.6 888.5C1940.6 888.5 1942.5 885.5 1944.4 885.5C1945.9 885.5 1947.5 890.0 1949.0 892.0C1950.5 894.0 1952.1 897.0 1953.6 897.7C1955.5 898.6 1957.4 899.4 1959.4 899.4C1965.5 899.4 1971.6 899.4 1977.8 899.4C1979.3 899.4 1980.9 898.8 1982.4 898.4C1984.3 898.0 1986.2 897.1 1988.2 897.1C1989.7 897.1 1991.2 898.2 1992.8 898.4C1995.4 898.9 1998.1 899.4 2000.8 899.4C2016.5 899.4 2032.3 899.4 2048.0 899.4" fill="none" stroke="#000" stroke-width="1.5"/>
<text x="1658.5" y="899.7" font-size="21.0" text-anchor="end">9 PFA hypoxic; Mm CP</text>
<path d="M1671.1 932.5C1724.2 932.5 1777.3 932.5 1830.4 932.5C1832.7 932.5 1835.0 931.3 1837.3 930.0C1838.9 929.1 1840.4 926.6 1841.9 924.2C1843.5 921.9 1845.0 918.4 1846.5 915.0C1848.1 911.6 1849.6 907.1 1851.1 903.5C1852.7 899.9 1854.2 896.6 1855.7 893.1C1857.3 889.7 1858.8 886.3 1860.3 882.8C1861.5 880.1 1862.6 876.3 1863.8 874.7C1865.0 873.1 1866.1 871.7 1867.3 871.3C1868.3 870.9 1869.2 870.6 1870.2 870.6C1871.2 870.6 1872.1 871.4 1873.0 872.4C1874.2 873.6 1875.3 879.1 1876.5 882.8C1877.6 886.4 1878.8 890.9 1879.9 894.3C1881.1 897.7 1882.2 902.3 1883.4 903.5C1884.5 904.7 1885.7 905.8 1886.8 905.8C1888.0 905.8 1889.1 903.7 1890.3 902.3C1891.4 901.0 1892.6 899.0 1893.7 897.7C1894.9 896.5 1896.0 894.7 1897.2 894.7C1898.7 894.7 1900.3 896.5 1901.8 897.7C1903.3 899.0 1904.9 901.1 1906.4 902.3C1907.9 903.6 1909.5 903.8 1911.0 905.3C1912.2 906.5 1913.3 910.0 1914.5 912.7C1915.6 915.4 1916.8 919.7 1917.9 921.9C1919.5 924.9 1921.0 927.8 1922.5 928.8C1924.8 930.4 1927.1 931.5 1929.4 931.8C1931.3 932.1 1933.3 932.3 1935.2 932.3C1937.1 932.3 1939.0 931.7 1940.9 931.1C1942.9 930.6 1944.8 929.3 1946.7 928.4C1948.2 927.6 1949.8 926.1 1951.3 926.1C1952.5 926.1 1953.6 927.9 1954.8 928.8C1956.3 930.1 1957.8 932.5 1959.4 932.5C1988.9 932.5 2018.5 932.5 2048.0 932.5Z" fill="#D8BCD8"/>
<path d="M1671.1 932.5C1724.2 932.5 1777.3 932.5 1830.4 932.5C1832.7 932.5 1835.0 931.3 1837.3 930.0C1838.9 929.1 1840.4 926.6 1841.9 924.2C1843.5 921.9 1845.0 918.4 1846.5 915.0C1848.1 911.6 1849.6 907.1 1851.1 903.5C1852.7 899.9 1854.2 896.6 1855.7 893.1C1857.3 889.7 1858.8 886.3 1860.3 882.8C1861.5 880.1 1862.6 876.3 1863.8 874.7C1865.0 873.1 1866.1 871.7 1867.3 871.3C1868.3 870.9 1869.2 870.6 1870.2 870.6C1871.2 870.6 1872.1 871.4 1873.0 872.4C1874.2 873.6 1875.3 879.1 1876.5 882.8C1877.6 886.4 1878.8 890.9 1879.9 894.3C1881.1 897.7 1882.2 902.3 1883.4 903.5C1884.5 904.7 1885.7 905.8 1886.8 905.8C1888.0 905.8 1889.1 903.7 1890.3 902.3C1891.4 901.0 1892.6 899.0 1893.7 897.7C1894.9 896.5 1896.0 894.7 1897.2 894.7C1898.7 894.7 1900.3 896.5 1901.8 897.7C1903.3 899.0 1904.9 901.1 1906.4 902.3C1907.9 903.6 1909.5 903.8 1911.0 905.3C1912.2 906.5 1913.3 910.0 1914.5 912.7C1915.6 915.4 1916.8 919.7 1917.9 921.9C1919.5 924.9 1921.0 927.8 1922.5 928.8C1924.8 930.4 1927.1 931.5 1929.4 931.8C1931.3 932.1 1933.3 932.3 1935.2 932.3C1937.1 932.3 1939.0 931.7 1940.9 931.1C1942.9 930.6 1944.8 929.3 1946.7 928.4C1948.2 927.6 1949.8 926.1 1951.3 926.1C1952.5 926.1 1953.6 927.9 1954.8 928.8C1956.3 930.1 1957.8 932.5 1959.4 932.5C1988.9 932.5 2018.5 932.5 2048.0 932.5" fill="none" stroke="#000" stroke-width="1.5"/>
<text x="1658.5" y="932.8" font-size="21.0" text-anchor="end">8 PFA GP-like/immune-like</text>
<path d="M1671.1 965.7C1751.8 965.7 1832.6 965.7 1913.3 965.7C1915.6 965.7 1917.9 964.7 1920.2 963.8C1922.5 963.0 1924.8 960.6 1927.1 959.9C1930.2 959.0 1933.3 959.1 1936.3 958.1C1937.9 957.6 1939.4 956.7 1940.9 955.3C1942.5 953.9 1944.0 951.0 1945.5 947.3C1947.1 943.5 1948.6 935.0 1950.2 928.8C1951.3 924.2 1952.5 921.0 1953.6 915.0C1954.8 909.1 1955.9 899.4 1957.1 889.7C1958.2 879.9 1959.4 863.4 1960.5 855.1C1961.8 845.7 1963.1 833.3 1964.4 833.3C1965.7 833.3 1966.9 842.2 1968.1 850.5C1969.0 856.8 1970.0 871.9 1970.9 882.8C1972.0 896.4 1973.2 917.1 1974.3 924.2C1975.9 933.7 1977.4 942.6 1978.9 942.6C1980.1 942.6 1981.2 940.3 1982.4 938.0C1983.3 936.3 1984.2 931.5 1985.2 928.8C1985.9 926.6 1986.7 923.1 1987.5 923.1C1988.5 923.1 1989.5 927.5 1990.5 931.1C1991.6 935.4 1992.8 946.9 1993.9 951.9C1995.1 956.8 1996.2 962.1 1997.4 963.4C1998.5 964.7 1999.7 965.7 2000.8 965.7C2007.0 965.7 2013.1 965.7 2019.2 965.7C2021.5 965.7 2023.8 964.4 2026.1 963.8C2027.7 963.5 2029.2 962.9 2030.8 962.9C2032.7 962.9 2034.6 964.2 2036.5 964.5C2040.3 965.1 2044.2 965.3 2048.0 965.7Z" fill="#D872F6"/>
<path d="M1671.1 965.7C1751.8 965.7 1832.6 965.7 1913.3 965.7C1915.6 965.7 1917.9 964.7 1920.2 963.8C1922.5 963.0 1924.8 960.6 1927.1 959.9C1930.2 959.0 1933.3 959.1 1936.3 958.1C1937.9 957.6 1939.4 956.7 1940.9 955.3C1942.5 953.9 1944.0 951.0 1945.5 947.3C1947.1 943.5 1948.6 935.0 1950.2 928.8C1951.3 924.2 1952.5 921.0 1953.6 915.0C1954.8 909.1 1955.9 899.4 1957.1 889.7C1958.2 879.9 1959.4 863.4 1960.5 855.1C1961.8 845.7 1963.1 833.3 1964.4 833.3C1965.7 833.3 1966.9 842.2 1968.1 850.5C1969.0 856.8 1970.0 871.9 1970.9 882.8C1972.0 896.4 1973.2 917.1 1974.3 924.2C1975.9 933.7 1977.4 942.6 1978.9 942.6C1980.1 942.6 1981.2 940.3 1982.4 938.0C1983.3 936.3 1984.2 931.5 1985.2 928.8C1985.9 926.6 1986.7 923.1 1987.5 923.1C1988.5 923.1 1989.5 927.5 1990.5 931.1C1991.6 935.4 1992.8 946.9 1993.9 951.9C1995.1 956.8 1996.2 962.1 1997.4 963.4C1998.5 964.7 1999.7 965.7 2000.8 965.7C2007.0 965.7 2013.1 965.7 2019.2 965.7C2021.5 965.7 2023.8 964.4 2026.1 963.8C2027.7 963.5 2029.2 962.9 2030.8 962.9C2032.7 962.9 2034.6 964.2 2036.5 964.5C2040.3 965.1 2044.2 965.3 2048.0 965.7" fill="none" stroke="#000" stroke-width="1.5"/>
<text x="1658.5" y="966.0" font-size="21.0" text-anchor="end">7 Mm CP</text>
<path d="M1671.1 999.2C1721.1 999.2 1771.2 999.2 1821.2 999.2C1827.3 999.2 1833.5 998.5 1839.6 998.0C1844.2 997.7 1848.8 997.2 1853.4 996.6C1856.5 996.3 1859.6 995.8 1862.6 995.3C1865.7 994.7 1868.8 994.1 1871.9 993.4C1878.0 992.2 1884.1 990.9 1890.3 989.5C1894.9 988.4 1899.5 987.9 1904.1 986.1C1906.4 985.1 1908.7 982.7 1911.0 980.3C1913.3 977.9 1915.6 973.1 1917.9 971.1C1919.5 969.8 1921.0 968.1 1922.5 968.1C1924.1 968.1 1925.6 971.5 1927.1 973.4C1928.7 975.3 1930.2 979.6 1931.7 979.6C1933.7 979.6 1935.6 978.6 1937.5 978.0C1939.0 977.5 1940.6 977.3 1942.1 976.4C1943.6 975.4 1945.2 967.9 1946.7 963.0C1948.2 958.2 1949.8 949.6 1951.3 946.9C1952.5 944.9 1953.6 942.8 1954.8 942.8C1955.9 942.8 1957.1 945.1 1958.2 946.9C1959.8 949.3 1961.3 954.8 1962.8 957.3C1964.7 960.3 1966.7 964.2 1968.6 964.2C1970.5 964.2 1972.4 963.3 1974.3 963.0C1975.5 962.8 1976.6 962.6 1977.8 962.6C1979.3 962.6 1980.9 964.9 1982.4 966.5C1984.3 968.5 1986.2 971.1 1988.2 974.5C1990.1 977.9 1992.0 984.7 1993.9 988.4C1995.8 992.0 1997.7 996.7 1999.7 997.6C2001.6 998.5 2003.5 999.2 2005.4 999.2C2019.6 999.2 2033.8 999.2 2048.0 999.2Z" fill="#50E8C0"/>
<path d="M1671.1 999.2C1721.1 999.2 1771.2 999.2 1821.2 999.2C1827.3 999.2 1833.5 998.5 1839.6 998.0C1844.2 997.7 1848.8 997.2 1853.4 996.6C1856.5 996.3 1859.6 995.8 1862.6 995.3C1865.7 994.7 1868.8 994.1 1871.9 993.4C1878.0 992.2 1884.1 990.9 1890.3 989.5C1894.9 988.4 1899.5 987.9 1904.1 986.1C1906.4 985.1 1908.7 982.7 1911.0 980.3C1913.3 977.9 1915.6 973.1 1917.9 971.1C1919.5 969.8 1921.0 968.1 1922.5 968.1C1924.1 968.1 1925.6 971.5 1927.1 973.4C1928.7 975.3 1930.2 979.6 1931.7 979.6C1933.7 979.6 1935.6 978.6 1937.5 978.0C1939.0 977.5 1940.6 977.3 1942.1 976.4C1943.6 975.4 1945.2 967.9 1946.7 963.0C1948.2 958.2 1949.8 949.6 1951.3 946.9C1952.5 944.9 1953.6 942.8 1954.8 942.8C1955.9 942.8 1957.1 945.1 1958.2 946.9C1959.8 949.3 1961.3 954.8 1962.8 957.3C1964.7 960.3 1966.7 964.2 1968.6 964.2C1970.5 964.2 1972.4 963.3 1974.3 963.0C1975.5 962.8 1976.6 962.6 1977.8 962.6C1979.3 962.6 1980.9 964.9 1982.4 966.5C1984.3 968.5 1986.2 971.1 1988.2 974.5C1990.1 977.9 1992.0 984.7 1993.9 988.4C1995.8 992.0 1997.7 996.7 1999.7 997.6C2001.6 998.5 2003.5 999.2 2005.4 999.2C2019.6 999.2 2033.8 999.2 2048.0 999.2" fill="none" stroke="#000" stroke-width="1.5"/>
<text x="1658.5" y="999.5" font-size="21.0" text-anchor="end">6 Mm Bglia/astrocytes; PFA GP-like</text>
<path d="M1671.1 1032.3C1704.2 1032.3 1737.4 1032.3 1770.5 1032.3C1775.1 1032.3 1779.7 1031.4 1784.4 1031.4C1789.0 1031.4 1793.6 1032.1 1798.2 1032.1C1812.0 1032.1 1825.8 1032.1 1839.6 1032.1C1841.9 1032.1 1844.2 1031.5 1846.5 1031.0C1848.8 1030.4 1851.1 1029.5 1853.4 1028.7C1855.7 1027.8 1858.0 1027.1 1860.3 1025.7C1861.9 1024.7 1863.4 1023.3 1865.0 1020.6C1866.1 1018.6 1867.3 1012.5 1868.4 1006.8C1869.6 1001.0 1870.7 988.3 1871.9 983.8C1873.0 979.2 1874.2 974.1 1875.3 974.1C1876.5 974.1 1877.6 979.4 1878.8 983.8C1879.9 988.1 1881.1 1002.4 1882.2 1004.5C1883.8 1007.2 1885.3 1009.1 1886.8 1009.1C1888.4 1009.1 1889.9 1004.8 1891.4 999.9C1892.6 996.2 1893.7 981.0 1894.9 974.5C1896.4 965.9 1898.0 956.6 1899.5 953.8C1901.0 951.0 1902.6 948.5 1904.1 948.5C1905.3 948.5 1906.4 950.9 1907.6 953.8C1908.7 956.7 1909.9 969.1 1911.0 979.1C1912.2 989.2 1913.3 1014.1 1914.5 1016.0C1916.4 1019.1 1918.3 1020.6 1920.2 1020.6C1921.8 1020.6 1923.3 1020.4 1924.8 1020.1C1926.0 1019.9 1927.1 1018.8 1928.3 1018.8C1929.4 1018.8 1930.6 1021.5 1931.7 1022.9C1933.3 1024.8 1934.8 1028.7 1936.3 1028.7C1937.9 1028.7 1939.4 1024.0 1940.9 1022.9C1942.1 1022.1 1943.2 1021.1 1944.4 1021.1C1945.5 1021.1 1946.7 1023.7 1947.9 1025.2C1949.0 1026.7 1950.2 1029.6 1951.3 1030.3C1953.2 1031.4 1955.1 1032.3 1957.1 1032.3C1987.4 1032.3 2017.7 1032.3 2048.0 1032.3Z" fill="#FF3AA9"/>
<path d="M1671.1 1032.3C1704.2 1032.3 1737.4 1032.3 1770.5 1032.3C1775.1 1032.3 1779.7 1031.4 1784.4 1031.4C1789.0 1031.4 1793.6 1032.1 1798.2 1032.1C1812.0 1032.1 1825.8 1032.1 1839.6 1032.1C1841.9 1032.1 1844.2 1031.5 1846.5 1031.0C1848.8 1030.4 1851.1 1029.5 1853.4 1028.7C1855.7 1027.8 1858.0 1027.1 1860.3 1025.7C1861.9 1024.7 1863.4 1023.3 1865.0 1020.6C1866.1 1018.6 1867.3 1012.5 1868.4 1006.8C1869.6 1001.0 1870.7 988.3 1871.9 983.8C1873.0 979.2 1874.2 974.1 1875.3 974.1C1876.5 974.1 1877.6 979.4 1878.8 983.8C1879.9 988.1 1881.1 1002.4 1882.2 1004.5C1883.8 1007.2 1885.3 1009.1 1886.8 1009.1C1888.4 1009.1 1889.9 1004.8 1891.4 999.9C1892.6 996.2 1893.7 981.0 1894.9 974.5C1896.4 965.9 1898.0 956.6 1899.5 953.8C1901.0 951.0 1902.6 948.5 1904.1 948.5C1905.3 948.5 1906.4 950.9 1907.6 953.8C1908.7 956.7 1909.9 969.1 1911.0 979.1C1912.2 989.2 1913.3 1014.1 1914.5 1016.0C1916.4 1019.1 1918.3 1020.6 1920.2 1020.6C1921.8 1020.6 1923.3 1020.4 1924.8 1020.1C1926.0 1019.9 1927.1 1018.8 1928.3 1018.8C1929.4 1018.8 1930.6 1021.5 1931.7 1022.9C1933.3 1024.8 1934.8 1028.7 1936.3 1028.7C1937.9 1028.7 1939.4 1024.0 1940.9 1022.9C1942.1 1022.1 1943.2 1021.1 1944.4 1021.1C1945.5 1021.1 1946.7 1023.7 1947.9 1025.2C1949.0 1026.7 1950.2 1029.6 1951.3 1030.3C1953.2 1031.4 1955.1 1032.3 1957.1 1032.3C1987.4 1032.3 2017.7 1032.3 2048.0 1032.3" fill="none" stroke="#000" stroke-width="1.5"/>
<text x="1658.5" y="1032.6" font-size="21.0" text-anchor="end">5 Mm RPSCs/CP</text>
<path d="M1671.1 1065.5C1713.5 1065.5 1755.8 1065.5 1798.2 1065.5C1804.3 1065.5 1810.5 1065.2 1816.6 1064.8C1819.7 1064.6 1822.7 1064.0 1825.8 1063.7C1827.7 1063.5 1829.6 1063.2 1831.6 1063.2C1833.5 1063.2 1835.4 1064.4 1837.3 1064.4C1838.9 1064.4 1840.4 1061.6 1841.9 1059.7C1843.5 1057.9 1845.0 1054.7 1846.5 1052.8C1848.8 1050.0 1851.1 1048.6 1853.4 1045.9C1855.7 1043.3 1858.0 1039.3 1860.3 1036.7C1862.3 1034.5 1864.2 1033.8 1866.1 1031.0C1867.6 1028.7 1869.2 1023.0 1870.7 1018.3C1872.2 1013.6 1873.8 1007.9 1875.3 1002.2C1876.8 996.4 1878.4 988.0 1879.9 983.8C1881.1 980.6 1882.2 976.4 1883.4 976.4C1884.5 976.4 1885.7 977.3 1886.8 978.0C1888.0 978.7 1889.1 979.7 1890.3 981.5C1891.4 983.2 1892.6 987.5 1893.7 993.0C1894.9 998.4 1896.0 1012.2 1897.2 1020.6C1898.3 1029.0 1899.5 1038.8 1900.6 1043.6C1902.2 1050.1 1903.7 1055.6 1905.3 1057.4C1906.8 1059.3 1908.3 1060.9 1909.9 1060.9C1911.8 1060.9 1913.7 1060.2 1915.6 1060.2C1917.1 1060.2 1918.7 1061.5 1920.2 1062.0C1922.5 1062.9 1924.8 1064.1 1927.1 1064.4C1934.0 1065.1 1940.9 1065.5 1947.9 1065.5C1981.2 1065.5 2014.6 1065.5 2048.0 1065.5Z" fill="#00B1D8"/>
<path d="M1671.1 1065.5C1713.5 1065.5 1755.8 1065.5 1798.2 1065.5C1804.3 1065.5 1810.5 1065.2 1816.6 1064.8C1819.7 1064.6 1822.7 1064.0 1825.8 1063.7C1827.7 1063.5 1829.6 1063.2 1831.6 1063.2C1833.5 1063.2 1835.4 1064.4 1837.3 1064.4C1838.9 1064.4 1840.4 1061.6 1841.9 1059.7C1843.5 1057.9 1845.0 1054.7 1846.5 1052.8C1848.8 1050.0 1851.1 1048.6 1853.4 1045.9C1855.7 1043.3 1858.0 1039.3 1860.3 1036.7C1862.3 1034.5 1864.2 1033.8 1866.1 1031.0C1867.6 1028.7 1869.2 1023.0 1870.7 1018.3C1872.2 1013.6 1873.8 1007.9 1875.3 1002.2C1876.8 996.4 1878.4 988.0 1879.9 983.8C1881.1 980.6 1882.2 976.4 1883.4 976.4C1884.5 976.4 1885.7 977.3 1886.8 978.0C1888.0 978.7 1889.1 979.7 1890.3 981.5C1891.4 983.2 1892.6 987.5 1893.7 993.0C1894.9 998.4 1896.0 1012.2 1897.2 1020.6C1898.3 1029.0 1899.5 1038.8 1900.6 1043.6C1902.2 1050.1 1903.7 1055.6 1905.3 1057.4C1906.8 1059.3 1908.3 1060.9 1909.9 1060.9C1911.8 1060.9 1913.7 1060.2 1915.6 1060.2C1917.1 1060.2 1918.7 1061.5 1920.2 1062.0C1922.5 1062.9 1924.8 1064.1 1927.1 1064.4C1934.0 1065.1 1940.9 1065.5 1947.9 1065.5C1981.2 1065.5 2014.6 1065.5 2048.0 1065.5" fill="none" stroke="#000" stroke-width="1.5"/>
<text x="1658.5" y="1065.8" font-size="21.0" text-anchor="end">4 Mm VZ progenitors</text>
<path d="M1671.1 1098.7C1682.8 1098.7 1694.4 1098.7 1706.1 1098.7C1713.0 1098.7 1719.9 1098.3 1726.8 1098.0C1729.9 1097.8 1732.9 1097.5 1736.0 1097.1C1738.3 1096.7 1740.6 1096.4 1742.9 1095.4C1744.8 1094.6 1746.7 1088.3 1748.7 1085.1C1750.6 1081.8 1752.5 1077.6 1754.4 1075.9C1756.7 1073.8 1759.0 1074.0 1761.3 1071.7C1762.5 1070.6 1763.6 1067.1 1764.8 1064.4C1766.1 1061.2 1767.4 1053.5 1768.7 1053.5C1770.1 1053.5 1771.5 1058.7 1772.8 1062.0C1774.4 1065.8 1775.9 1073.5 1777.4 1075.9C1779.4 1078.8 1781.3 1081.6 1783.2 1081.6C1784.7 1081.6 1786.3 1078.9 1787.8 1077.0C1789.3 1075.2 1790.9 1072.0 1792.4 1070.1C1794.3 1067.8 1796.3 1067.3 1798.2 1064.4C1799.3 1062.6 1800.5 1058.6 1801.6 1055.1C1802.9 1051.2 1804.2 1041.8 1805.5 1041.8C1806.8 1041.8 1808.0 1046.5 1809.2 1050.5C1810.1 1053.6 1811.1 1061.4 1812.0 1064.4C1813.5 1069.3 1815.1 1074.7 1816.6 1074.7C1818.1 1074.7 1819.7 1071.6 1821.2 1070.8C1822.7 1070.0 1824.3 1069.0 1825.8 1069.0C1827.7 1069.0 1829.6 1069.1 1831.6 1069.4C1833.1 1069.7 1834.6 1075.2 1836.2 1078.2C1837.7 1081.2 1839.2 1084.6 1840.8 1087.4C1841.9 1089.5 1843.1 1092.4 1844.2 1093.1C1846.5 1094.5 1848.8 1095.0 1851.1 1095.4C1854.2 1096.0 1857.3 1096.3 1860.3 1096.6C1863.4 1096.9 1866.5 1097.1 1869.6 1097.3C1872.6 1097.5 1875.7 1098.0 1878.8 1098.0C1882.6 1098.0 1886.4 1097.5 1890.3 1097.5C1893.4 1097.5 1896.4 1098.7 1899.5 1098.7C1949.0 1098.7 1998.5 1098.7 2048.0 1098.7Z" fill="#72AD22"/>
<path d="M1671.1 1098.7C1682.8 1098.7 1694.4 1098.7 1706.1 1098.7C1713.0 1098.7 1719.9 1098.3 1726.8 1098.0C1729.9 1097.8 1732.9 1097.5 1736.0 1097.1C1738.3 1096.7 1740.6 1096.4 1742.9 1095.4C1744.8 1094.6 1746.7 1088.3 1748.7 1085.1C1750.6 1081.8 1752.5 1077.6 1754.4 1075.9C1756.7 1073.8 1759.0 1074.0 1761.3 1071.7C1762.5 1070.6 1763.6 1067.1 1764.8 1064.4C1766.1 1061.2 1767.4 1053.5 1768.7 1053.5C1770.1 1053.5 1771.5 1058.7 1772.8 1062.0C1774.4 1065.8 1775.9 1073.5 1777.4 1075.9C1779.4 1078.8 1781.3 1081.6 1783.2 1081.6C1784.7 1081.6 1786.3 1078.9 1787.8 1077.0C1789.3 1075.2 1790.9 1072.0 1792.4 1070.1C1794.3 1067.8 1796.3 1067.3 1798.2 1064.4C1799.3 1062.6 1800.5 1058.6 1801.6 1055.1C1802.9 1051.2 1804.2 1041.8 1805.5 1041.8C1806.8 1041.8 1808.0 1046.5 1809.2 1050.5C1810.1 1053.6 1811.1 1061.4 1812.0 1064.4C1813.5 1069.3 1815.1 1074.7 1816.6 1074.7C1818.1 1074.7 1819.7 1071.6 1821.2 1070.8C1822.7 1070.0 1824.3 1069.0 1825.8 1069.0C1827.7 1069.0 1829.6 1069.1 1831.6 1069.4C1833.1 1069.7 1834.6 1075.2 1836.2 1078.2C1837.7 1081.2 1839.2 1084.6 1840.8 1087.4C1841.9 1089.5 1843.1 1092.4 1844.2 1093.1C1846.5 1094.5 1848.8 1095.0 1851.1 1095.4C1854.2 1096.0 1857.3 1096.3 1860.3 1096.6C1863.4 1096.9 1866.5 1097.1 1869.6 1097.3C1872.6 1097.5 1875.7 1098.0 1878.8 1098.0C1882.6 1098.0 1886.4 1097.5 1890.3 1097.5C1893.4 1097.5 1896.4 1098.7 1899.5 1098.7C1949.0 1098.7 1998.5 1098.7 2048.0 1098.7" fill="none" stroke="#000" stroke-width="1.5"/>
<text x="1658.5" y="1099.0" font-size="21.0" text-anchor="end">3 Mm NSCs/GPs; PFA GP-like</text>
<path d="M1671.1 1131.6C1690.4 1131.6 1709.8 1131.6 1729.1 1131.6C1732.2 1131.6 1735.2 1131.4 1738.3 1131.1C1740.6 1130.9 1742.9 1129.2 1745.2 1127.7C1747.1 1126.4 1749.0 1123.0 1751.0 1121.9C1752.9 1120.8 1754.8 1120.6 1756.7 1119.6C1758.3 1118.8 1759.8 1118.1 1761.3 1116.2C1762.5 1114.7 1763.6 1108.8 1764.8 1105.8C1765.8 1103.2 1766.8 1098.9 1767.8 1098.9C1768.7 1098.9 1769.6 1101.5 1770.5 1103.5C1771.7 1106.0 1772.8 1112.9 1774.0 1115.0C1775.5 1117.9 1777.1 1120.8 1778.6 1120.8C1780.1 1120.8 1781.7 1119.4 1783.2 1118.5C1785.1 1117.3 1787.0 1115.0 1789.0 1113.9C1790.5 1112.9 1792.0 1112.1 1793.6 1111.6C1795.1 1111.0 1796.6 1111.1 1798.2 1110.4C1799.3 1109.9 1800.5 1106.8 1801.6 1104.7C1802.9 1102.3 1804.2 1096.6 1805.5 1096.6C1806.9 1096.6 1808.3 1098.0 1809.7 1098.9C1811.2 1099.9 1812.8 1102.3 1814.3 1102.3C1815.8 1102.3 1817.4 1100.9 1818.9 1100.0C1820.8 1098.9 1822.7 1096.1 1824.7 1096.1C1826.2 1096.1 1827.7 1098.0 1829.3 1098.9C1831.2 1100.0 1833.1 1102.3 1835.0 1102.3C1836.9 1102.3 1838.9 1100.1 1840.8 1098.9C1842.3 1097.9 1843.8 1095.7 1845.4 1095.7C1846.5 1095.7 1847.7 1097.3 1848.8 1098.9C1850.0 1100.5 1851.1 1105.0 1852.3 1108.1C1853.4 1111.2 1854.6 1115.6 1855.7 1117.3C1857.3 1119.6 1858.8 1120.7 1860.3 1121.9C1862.6 1123.8 1865.0 1124.9 1867.3 1126.5C1868.8 1127.6 1870.3 1130.0 1871.9 1130.0C1873.8 1130.0 1875.7 1130.0 1877.6 1130.0C1879.2 1130.0 1880.7 1129.3 1882.2 1129.3C1884.1 1129.3 1886.1 1131.6 1888.0 1131.6C1941.3 1131.6 1994.7 1131.6 2048.0 1131.6Z" fill="#CCFF66"/>
<path d="M1671.1 1131.6C1690.4 1131.6 1709.8 1131.6 1729.1 1131.6C1732.2 1131.6 1735.2 1131.4 1738.3 1131.1C1740.6 1130.9 1742.9 1129.2 1745.2 1127.7C1747.1 1126.4 1749.0 1123.0 1751.0 1121.9C1752.9 1120.8 1754.8 1120.6 1756.7 1119.6C1758.3 1118.8 1759.8 1118.1 1761.3 1116.2C1762.5 1114.7 1763.6 1108.8 1764.8 1105.8C1765.8 1103.2 1766.8 1098.9 1767.8 1098.9C1768.7 1098.9 1769.6 1101.5 1770.5 1103.5C1771.7 1106.0 1772.8 1112.9 1774.0 1115.0C1775.5 1117.9 1777.1 1120.8 1778.6 1120.8C1780.1 1120.8 1781.7 1119.4 1783.2 1118.5C1785.1 1117.3 1787.0 1115.0 1789.0 1113.9C1790.5 1112.9 1792.0 1112.1 1793.6 1111.6C1795.1 1111.0 1796.6 1111.1 1798.2 1110.4C1799.3 1109.9 1800.5 1106.8 1801.6 1104.7C1802.9 1102.3 1804.2 1096.6 1805.5 1096.6C1806.9 1096.6 1808.3 1098.0 1809.7 1098.9C1811.2 1099.9 1812.8 1102.3 1814.3 1102.3C1815.8 1102.3 1817.4 1100.9 1818.9 1100.0C1820.8 1098.9 1822.7 1096.1 1824.7 1096.1C1826.2 1096.1 1827.7 1098.0 1829.3 1098.9C1831.2 1100.0 1833.1 1102.3 1835.0 1102.3C1836.9 1102.3 1838.9 1100.1 1840.8 1098.9C1842.3 1097.9 1843.8 1095.7 1845.4 1095.7C1846.5 1095.7 1847.7 1097.3 1848.8 1098.9C1850.0 1100.5 1851.1 1105.0 1852.3 1108.1C1853.4 1111.2 1854.6 1115.6 1855.7 1117.3C1857.3 1119.6 1858.8 1120.7 1860.3 1121.9C1862.6 1123.8 1865.0 1124.9 1867.3 1126.5C1868.8 1127.6 1870.3 1130.0 1871.9 1130.0C1873.8 1130.0 1875.7 1130.0 1877.6 1130.0C1879.2 1130.0 1880.7 1129.3 1882.2 1129.3C1884.1 1129.3 1886.1 1131.6 1888.0 1131.6C1941.3 1131.6 1994.7 1131.6 2048.0 1131.6" fill="none" stroke="#000" stroke-width="1.5"/>
<text x="1658.5" y="1131.9" font-size="21.0" text-anchor="end">2 Mm NSCs/GPs; PFA cycling</text>
<path d="M1671.1 1165.0C1671.6 1164.8 1672.1 1164.7 1672.7 1164.5C1673.8 1164.0 1675.0 1162.9 1676.1 1161.5C1677.3 1160.2 1678.4 1156.8 1679.6 1155.3C1680.7 1153.8 1681.9 1151.9 1683.0 1151.9C1684.9 1151.9 1686.9 1152.1 1688.8 1152.3C1690.7 1152.6 1692.6 1153.7 1694.5 1153.7C1696.5 1153.7 1698.4 1150.2 1700.3 1148.4C1702.6 1146.2 1704.9 1144.8 1707.2 1141.5C1708.7 1139.3 1710.3 1134.9 1711.8 1131.1C1713.0 1128.3 1714.1 1121.9 1715.3 1121.9C1716.4 1121.9 1717.6 1123.1 1718.7 1124.2C1720.3 1125.7 1721.8 1130.5 1723.3 1132.3C1724.5 1133.6 1725.6 1135.3 1726.8 1135.3C1728.3 1135.3 1729.9 1132.7 1731.4 1131.1C1732.9 1129.6 1734.5 1126.1 1736.0 1126.1C1737.5 1126.1 1739.1 1126.4 1740.6 1126.5C1741.8 1126.7 1742.9 1127.0 1744.1 1127.0C1745.6 1127.0 1747.1 1121.9 1748.7 1121.9C1750.2 1121.9 1751.7 1123.8 1753.3 1125.4C1754.8 1126.9 1756.3 1129.5 1757.9 1132.3C1759.4 1135.0 1760.9 1139.5 1762.5 1142.6C1763.6 1145.0 1764.8 1149.1 1765.9 1149.1C1767.5 1149.1 1769.0 1147.2 1770.5 1146.8C1772.8 1146.1 1775.1 1145.7 1777.4 1145.4C1779.0 1145.2 1780.5 1145.0 1782.0 1145.0C1783.2 1145.0 1784.4 1146.4 1785.5 1147.7C1786.7 1149.1 1787.8 1152.9 1789.0 1155.3C1790.1 1157.7 1791.3 1160.9 1792.4 1162.2C1793.6 1163.5 1794.7 1165.0 1795.9 1165.0C1812.0 1165.0 1828.1 1164.9 1844.2 1164.8C1846.5 1164.7 1848.8 1164.1 1851.1 1164.1C1853.4 1164.1 1855.7 1164.8 1858.0 1164.8C1864.2 1164.8 1870.3 1164.1 1876.5 1164.1C1879.5 1164.1 1882.6 1164.7 1885.7 1164.8C1939.8 1165.0 1993.9 1164.9 2048.0 1165.0Z" fill="#7397C3"/>
<path d="M1671.1 1165.0C1671.6 1164.8 1672.1 1164.7 1672.7 1164.5C1673.8 1164.0 1675.0 1162.9 1676.1 1161.5C1677.3 1160.2 1678.4 1156.8 1679.6 1155.3C1680.7 1153.8 1681.9 1151.9 1683.0 1151.9C1684.9 1151.9 1686.9 1152.1 1688.8 1152.3C1690.7 1152.6 1692.6 1153.7 1694.5 1153.7C1696.5 1153.7 1698.4 1150.2 1700.3 1148.4C1702.6 1146.2 1704.9 1144.8 1707.2 1141.5C1708.7 1139.3 1710.3 1134.9 1711.8 1131.1C1713.0 1128.3 1714.1 1121.9 1715.3 1121.9C1716.4 1121.9 1717.6 1123.1 1718.7 1124.2C1720.3 1125.7 1721.8 1130.5 1723.3 1132.3C1724.5 1133.6 1725.6 1135.3 1726.8 1135.3C1728.3 1135.3 1729.9 1132.7 1731.4 1131.1C1732.9 1129.6 1734.5 1126.1 1736.0 1126.1C1737.5 1126.1 1739.1 1126.4 1740.6 1126.5C1741.8 1126.7 1742.9 1127.0 1744.1 1127.0C1745.6 1127.0 1747.1 1121.9 1748.7 1121.9C1750.2 1121.9 1751.7 1123.8 1753.3 1125.4C1754.8 1126.9 1756.3 1129.5 1757.9 1132.3C1759.4 1135.0 1760.9 1139.5 1762.5 1142.6C1763.6 1145.0 1764.8 1149.1 1765.9 1149.1C1767.5 1149.1 1769.0 1147.2 1770.5 1146.8C1772.8 1146.1 1775.1 1145.7 1777.4 1145.4C1779.0 1145.2 1780.5 1145.0 1782.0 1145.0C1783.2 1145.0 1784.4 1146.4 1785.5 1147.7C1786.7 1149.1 1787.8 1152.9 1789.0 1155.3C1790.1 1157.7 1791.3 1160.9 1792.4 1162.2C1793.6 1163.5 1794.7 1165.0 1795.9 1165.0C1812.0 1165.0 1828.1 1164.9 1844.2 1164.8C1846.5 1164.7 1848.8 1164.1 1851.1 1164.1C1853.4 1164.1 1855.7 1164.8 1858.0 1164.8C1864.2 1164.8 1870.3 1164.1 1876.5 1164.1C1879.5 1164.1 1882.6 1164.7 1885.7 1164.8C1939.8 1165.0 1993.9 1164.9 2048.0 1165.0" fill="none" stroke="#000" stroke-width="1.5"/>
<text x="1658.5" y="1165.3" font-size="21.0" text-anchor="end">1 Mm NSCs</text>
<text x="1683.0" y="1192.2" font-size="20.7" text-anchor="middle">0</text>
<text x="1764.5" y="1192.2" font-size="20.7" text-anchor="middle">10</text>
<text x="1846.0" y="1192.2" font-size="20.7" text-anchor="middle">20</text>
<text x="1927.6" y="1192.2" font-size="20.7" text-anchor="middle">30</text>
<text x="2009.1" y="1192.2" font-size="20.7" text-anchor="middle">40</text>
<text x="1708.6" y="1219.5" font-size="20.7">Hindbrain pseudotime trajectory</text>
<text x="0.0" y="1296.6" font-size="33" font-weight="bold">f</text>
<text x="101.7" y="1291.1" font-size="20.8" text-anchor="middle">1 Mm NSCs</text>
<text x="293.3" y="1291.1" font-size="20.8" text-anchor="middle">2 Mm NSCs/GPs;</text>
<text x="293.3" y="1312.0" font-size="20.8" text-anchor="middle">PFA cycling</text>
<text x="489.4" y="1291.1" font-size="20.8" text-anchor="middle">3 Mm NSCs/GPs;</text>
<text x="489.4" y="1312.0" font-size="20.8" text-anchor="middle">PFA GP-like</text>
<text x="676.5" y="1291.1" font-size="20.8" text-anchor="middle">4 Mm VZ</text>
<text x="676.5" y="1312.0" font-size="20.8" text-anchor="middle">progenitors</text>
<text x="859.6" y="1291.1" font-size="20.8" text-anchor="middle">5 Mm RPSCs/CP</text>
<text x="1067.7" y="1291.1" font-size="20.8" text-anchor="middle">6 Mm Bglia/astrocytes;</text>
<text x="1067.7" y="1312.0" font-size="20.8" text-anchor="middle">PFA GP-like</text>
<text x="1251.3" y="1291.1" font-size="20.8" text-anchor="middle">7 Mm CP</text>
<text x="1442.9" y="1291.1" font-size="20.8" text-anchor="middle">8 PFA GP-like/</text>
<text x="1442.9" y="1312.0" font-size="20.8" text-anchor="middle">immune-like</text>
<text x="1639.1" y="1291.1" font-size="20.8" text-anchor="middle">9 PFA hypoxic;</text>
<text x="1639.1" y="1312.0" font-size="20.8" text-anchor="middle">Mm CP</text>
<text x="1826.1" y="1291.1" font-size="20.8" text-anchor="middle">10 PFA ciliated/</text>
<text x="1826.1" y="1312.0" font-size="20.8" text-anchor="middle">GP-like</text>
<text x="2017.7" y="1291.1" font-size="20.8" text-anchor="middle">11 PPA ciliated</text>
<circle cx="101.70" cy="1406.30" r="73.39999999999999" fill="#8A6689"/>
<path d="M101.70 1406.30L113.14 1332.58A74.6 74.6 0 1 1 101.70 1331.70Z" fill="#8A6689"/>
<path d="M101.70 1406.30L101.70 1331.70A74.6 74.6 0 0 1 114.06 1332.73Z" fill="#9BCD9B"/>
<circle cx="293.30" cy="1406.30" r="73.39999999999999" fill="#8A6689"/>
<path d="M293.30 1406.30L345.72 1459.38A74.6 74.6 0 1 1 293.30 1331.70Z" fill="#8A6689"/>
<path d="M293.30 1406.30L293.30 1331.70A74.6 74.6 0 0 1 345.05 1460.04Z" fill="#9BCD9B"/>
<circle cx="484.90" cy="1406.30" r="73.39999999999999" fill="#8A6689"/>
<path d="M484.90 1406.30L525.27 1343.57A74.6 74.6 0 1 1 484.90 1331.70Z" fill="#8A6689"/>
<path d="M484.90 1406.30L484.90 1331.70A74.6 74.6 0 0 1 526.05 1344.08Z" fill="#9BCD9B"/>
<circle cx="676.50" cy="1406.30" r="73.39999999999999" fill="#8A6689"/>
<path d="M676.50 1406.30L688.17 1332.62A74.6 74.6 0 1 1 676.50 1331.70Z" fill="#8A6689"/>
<path d="M676.50 1406.30L676.50 1331.70A74.6 74.6 0 0 1 689.09 1332.77Z" fill="#9BCD9B"/>
<circle cx="868.10" cy="1406.30" r="73.39999999999999" fill="#8A6689"/>
<path d="M868.10 1406.30L870.16 1331.73A74.6 74.6 0 1 1 868.10 1331.70Z" fill="#8A6689"/>
<path d="M868.10 1406.30L868.10 1331.70A74.6 74.6 0 0 1 871.10 1331.76Z" fill="#9BCD9B"/>
<circle cx="1059.70" cy="1406.30" r="73.39999999999999" fill="#8A6689"/>
<path d="M1059.70 1406.30L1127.20 1374.54A74.6 74.6 0 1 1 1059.70 1331.70Z" fill="#8A6689"/>
<path d="M1059.70 1406.30L1059.70 1331.70A74.6 74.6 0 0 1 1127.59 1375.39Z" fill="#9BCD9B"/>
<circle cx="1251.30" cy="1406.30" r="73.39999999999999" fill="#8A6689"/>
<path d="M1251.30 1406.30L1267.57 1333.50A74.6 74.6 0 1 1 1251.30 1331.70Z" fill="#8A6689"/>
<path d="M1251.30 1406.30L1251.30 1331.70A74.6 74.6 0 0 1 1268.49 1333.71Z" fill="#9BCD9B"/>
<circle cx="1442.90" cy="1406.30" r="73.39999999999999" fill="#8A6689"/>
<path d="M1442.90 1406.30L1425.71 1333.71A74.6 74.6 0 0 1 1442.90 1331.70Z" fill="#8A6689"/>
<path d="M1442.90 1406.30L1442.90 1331.70A74.6 74.6 0 1 1 1426.63 1333.50Z" fill="#9BCD9B"/>
<circle cx="1634.50" cy="1406.30" r="73.39999999999999" fill="#8A6689"/>
<path d="M1634.50 1406.30L1638.25 1480.81A74.6 74.6 0 1 1 1634.50 1331.70Z" fill="#8A6689"/>
<path d="M1634.50 1406.30L1634.50 1331.70A74.6 74.6 0 0 1 1637.31 1480.85Z" fill="#9BCD9B"/>
<circle cx="1826.10" cy="1406.30" r="73.39999999999999" fill="#8A6689"/>
<path d="M1826.10 1406.30L1790.57 1340.70A74.6 74.6 0 0 1 1826.10 1331.70Z" fill="#8A6689"/>
<path d="M1826.10 1406.30L1826.10 1331.70A74.6 74.6 0 1 1 1791.40 1340.26Z" fill="#9BCD9B"/>
<circle cx="2017.70" cy="1406.30" r="73.39999999999999" fill="#8A6689"/>
<path d="M2017.70 1406.30L1990.24 1336.94A74.6 74.6 0 0 1 2017.70 1331.70Z" fill="#8A6689"/>
<path d="M2017.70 1406.30L2017.70 1331.70A74.6 74.6 0 1 1 1991.11 1336.60Z" fill="#9BCD9B"/>
<text x="780.7" y="1526.6" font-size="24.9">Tissue</text>
<rect x="877.4" y="1505.2" width="29.4" height="29.4" fill="#8A6689"/>
<text x="931.0" y="1526.6" font-size="24.9">Mouse glial lineage</text>
<rect x="1168.3" y="1505.2" width="29.4" height="29.4" fill="#9BCD9B"/>
<text x="1221.8" y="1526.6" font-size="24.9">PFA tumor</text>
<text x="0.0" y="1602.5" font-size="33" font-weight="bold">g</text>
<text x="101.7" y="1599.8" font-size="20.8" text-anchor="middle">1 Mm NSCs</text>
<text x="293.3" y="1599.8" font-size="20.8" text-anchor="middle">2 Mm NSCs/GPs;</text>
<text x="293.3" y="1620.7" font-size="20.8" text-anchor="middle">PFA cycling</text>
<text x="489.4" y="1599.8" font-size="20.8" text-anchor="middle">3 Mm NSCs/GPs;</text>
<text x="489.4" y="1620.7" font-size="20.8" text-anchor="middle">PFA GP-like</text>
<text x="676.5" y="1599.8" font-size="20.8" text-anchor="middle">4 Mm VZ</text>
<text x="676.5" y="1620.7" font-size="20.8" text-anchor="middle">progenitors</text>
<text x="859.6" y="1599.8" font-size="20.8" text-anchor="middle">5 Mm RPSCs/CP</text>
<text x="1067.7" y="1599.8" font-size="20.8" text-anchor="middle">6 Mm Bglia/astrocytes;</text>
<text x="1067.7" y="1620.7" font-size="20.8" text-anchor="middle">PFA GP-like</text>
<text x="1251.3" y="1599.8" font-size="20.8" text-anchor="middle">7 Mm CP</text>
<text x="1442.9" y="1599.8" font-size="20.8" text-anchor="middle">8 PFA GP-like/</text>
<text x="1442.9" y="1620.7" font-size="20.8" text-anchor="middle">immune-like</text>
<text x="1639.1" y="1599.8" font-size="20.8" text-anchor="middle">9 PFA hypoxic;</text>
<text x="1639.1" y="1620.7" font-size="20.8" text-anchor="middle">Mm CP</text>
<text x="1826.1" y="1599.8" font-size="20.8" text-anchor="middle">10 PFA ciliated/</text>
<text x="1826.1" y="1620.7" font-size="20.8" text-anchor="middle">GP-like</text>
<text x="2017.7" y="1599.8" font-size="20.8" text-anchor="middle">11 PPA ciliated</text>
<circle cx="101.70" cy="1714.70" r="73.39999999999999" fill="#CC95CC"/>
<path d="M101.70 1714.70L104.98 1789.23A74.6 74.6 0 1 1 101.70 1640.10Z" fill="#CC95CC"/>
<path d="M101.70 1714.70L113.14 1640.98A74.6 74.6 0 0 1 104.04 1789.26Z" fill="#8A6689"/>
<path d="M101.70 1714.70L111.05 1640.69A74.6 74.6 0 0 1 114.06 1641.13Z" fill="#9BCD9B"/>
<path d="M101.70 1714.70L101.70 1640.10A74.6 74.6 0 0 1 111.98 1640.81Z" fill="#4A8875"/>
<circle cx="293.30" cy="1714.70" r="73.39999999999999" fill="#CC95CC"/>
<path d="M293.30 1714.70L221.93 1736.41A74.6 74.6 0 0 1 293.30 1640.10Z" fill="#CC95CC"/>
<path d="M293.30 1714.70L345.38 1768.11A74.6 74.6 0 0 1 221.66 1735.51Z" fill="#8A6689"/>
<path d="M293.30 1714.70L366.58 1700.72A74.6 74.6 0 0 1 344.71 1768.76Z" fill="#9BCD9B"/>
<path d="M293.30 1714.70L293.30 1640.10A74.6 74.6 0 0 1 366.75 1701.64Z" fill="#4A8875"/>
<circle cx="484.90" cy="1714.70" r="73.39999999999999" fill="#CC95CC"/>
<path d="M484.90 1714.70L452.71 1782.00A74.6 74.6 0 0 1 484.90 1640.10Z" fill="#CC95CC"/>
<path d="M484.90 1714.70L525.27 1651.97A74.6 74.6 0 0 1 451.87 1781.59Z" fill="#8A6689"/>
<path d="M484.90 1714.70L518.77 1648.23A74.6 74.6 0 0 1 526.05 1652.48Z" fill="#9BCD9B"/>
<path d="M484.90 1714.70L484.90 1640.10A74.6 74.6 0 0 1 519.60 1648.66Z" fill="#4A8875"/>
<circle cx="676.50" cy="1714.70" r="73.39999999999999" fill="#CC95CC"/>
<path d="M676.50 1714.70L664.83 1788.38A74.6 74.6 0 0 1 676.50 1640.10Z" fill="#CC95CC"/>
<path d="M676.50 1714.70L688.17 1641.02A74.6 74.6 0 1 1 663.91 1788.23Z" fill="#8A6689"/>
<path d="M676.50 1714.70L680.72 1640.22A74.6 74.6 0 0 1 689.09 1641.17Z" fill="#9BCD9B"/>
<path d="M676.50 1714.70L676.50 1640.10A74.6 74.6 0 0 1 681.65 1640.28Z" fill="#4A8875"/>
<circle cx="868.10" cy="1714.70" r="73.39999999999999" fill="#CC95CC"/>
<path d="M868.10 1714.70L859.22 1788.77A74.6 74.6 0 0 1 868.10 1640.10Z" fill="#CC95CC"/>
<path d="M868.10 1714.70L870.16 1640.13A74.6 74.6 0 1 1 858.29 1788.65Z" fill="#8A6689"/>
<path d="M868.10 1714.70L869.51 1640.11A74.6 74.6 0 0 1 871.10 1640.16Z" fill="#9BCD9B"/>
<path d="M868.10 1714.70L868.10 1640.10A74.6 74.6 0 0 1 870.44 1640.14Z" fill="#4A8875"/>
<circle cx="1059.70" cy="1714.70" r="73.39999999999999" fill="#CC95CC"/>
<path d="M1059.70 1714.70L1023.76 1780.07A74.6 74.6 0 0 1 1059.70 1640.10Z" fill="#CC95CC"/>
<path d="M1059.70 1714.70L1127.20 1682.94A74.6 74.6 0 0 1 1022.94 1779.62Z" fill="#8A6689"/>
<path d="M1059.70 1714.70L1122.18 1673.94A74.6 74.6 0 0 1 1127.59 1683.79Z" fill="#9BCD9B"/>
<path d="M1059.70 1714.70L1059.70 1640.10A74.6 74.6 0 0 1 1122.69 1674.73Z" fill="#4A8875"/>
<circle cx="1251.30" cy="1714.70" r="73.39999999999999" fill="#CC95CC"/>
<path d="M1251.30 1714.70L1286.83 1780.30A74.6 74.6 0 1 1 1251.30 1640.10Z" fill="#CC95CC"/>
<path d="M1251.30 1714.70L1267.57 1641.90A74.6 74.6 0 0 1 1286.00 1780.74Z" fill="#8A6689"/>
<path d="M1251.30 1714.70L1255.52 1640.22A74.6 74.6 0 0 1 1268.49 1642.11Z" fill="#9BCD9B"/>
<path d="M1251.30 1714.70L1251.30 1640.10A74.6 74.6 0 0 1 1256.45 1640.28Z" fill="#4A8875"/>
<circle cx="1442.90" cy="1714.70" r="73.39999999999999" fill="#CC95CC"/>
<path d="M1442.90 1714.70L1434.48 1640.58A74.6 74.6 0 0 1 1442.90 1640.10Z" fill="#CC95CC"/>
<path d="M1442.90 1714.70L1425.26 1642.22A74.6 74.6 0 0 1 1435.41 1640.48Z" fill="#8A6689"/>
<path d="M1442.90 1714.70L1431.69 1788.45A74.6 74.6 0 0 1 1426.17 1642.00Z" fill="#9BCD9B"/>
<path d="M1442.90 1714.70L1442.90 1640.10A74.6 74.6 0 1 1 1430.77 1788.31Z" fill="#4A8875"/>
<circle cx="1634.50" cy="1714.70" r="73.39999999999999" fill="#CC95CC"/>
<path d="M1634.50 1714.70L1560.23 1721.72A74.6 74.6 0 0 1 1634.50 1640.10Z" fill="#CC95CC"/>
<path d="M1634.50 1714.70L1637.31 1789.25A74.6 74.6 0 0 1 1560.15 1720.79Z" fill="#8A6689"/>
<path d="M1634.50 1714.70L1693.73 1760.05A74.6 74.6 0 0 1 1636.37 1789.28Z" fill="#9BCD9B"/>
<path d="M1634.50 1714.70L1634.50 1640.10A74.6 74.6 0 0 1 1693.16 1760.79Z" fill="#4A8875"/>
<circle cx="1826.10" cy="1714.70" r="73.39999999999999" fill="#CC95CC"/>
<path d="M1826.10 1714.70L1808.00 1642.33A74.6 74.6 0 0 1 1826.10 1640.10Z" fill="#CC95CC"/>
<path d="M1826.10 1714.70L1790.16 1649.33A74.6 74.6 0 0 1 1808.91 1642.11Z" fill="#8A6689"/>
<path d="M1826.10 1714.70L1841.92 1787.60A74.6 74.6 0 0 1 1790.99 1648.88Z" fill="#9BCD9B"/>
<path d="M1826.10 1714.70L1826.10 1640.10A74.6 74.6 0 0 1 1841.00 1787.80Z" fill="#4A8875"/>
<circle cx="2017.70" cy="1714.70" r="73.39999999999999" fill="#CC95CC"/>
<path d="M2017.70 1714.70L2006.03 1641.02A74.6 74.6 0 0 1 2017.70 1640.10Z" fill="#CC95CC"/>
<path d="M2017.70 1714.70L1990.24 1645.34A74.6 74.6 0 0 1 2006.96 1640.88Z" fill="#8A6689"/>
<path d="M2017.70 1714.70L2021.92 1640.22A74.6 74.6 0 1 1 1991.11 1645.00Z" fill="#9BCD9B"/>
<path d="M2017.70 1714.70L2017.70 1640.10A74.6 74.6 0 0 1 2022.85 1640.28Z" fill="#4A8875"/>
<text x="447.1" y="1835.0" font-size="24.9">Tissue by sex</text>
<rect x="622.6" y="1813.6" width="29.4" height="29.4" fill="#CC95CC"/>
<text x="676.2" y="1835.0" font-size="24.9">Mouse glial lineage:F</text>
<rect x="935.7" y="1813.6" width="29.4" height="29.4" fill="#8A6689"/>
<text x="989.3" y="1835.0" font-size="24.9">Mouse glial lineage:M</text>
<rect x="1254.3" y="1813.6" width="29.4" height="29.4" fill="#9BCD9B"/>
<text x="1307.9" y="1835.0" font-size="24.9">PFA tumor:F</text>
<rect x="1470.5" y="1813.6" width="29.4" height="29.4" fill="#4A8875"/>
<text x="1524.1" y="1835.0" font-size="24.9">PFA tumor:M</text>
<text x="0.0" y="1911.1" font-size="33" font-weight="bold">h</text>
<text x="101.7" y="1908.8" font-size="20.8" text-anchor="middle">1 Mm NSCs</text>
<text x="293.3" y="1908.8" font-size="20.8" text-anchor="middle">2 Mm NSCs/GPs;</text>
<text x="293.3" y="1929.7" font-size="20.8" text-anchor="middle">PFA cycling</text>
<text x="489.4" y="1908.8" font-size="20.8" text-anchor="middle">3 Mm NSCs/GPs;</text>
<text x="489.4" y="1929.7" font-size="20.8" text-anchor="middle">PFA GP-like</text>
<text x="676.5" y="1908.8" font-size="20.8" text-anchor="middle">4 Mm VZ</text>
<text x="676.5" y="1929.7" font-size="20.8" text-anchor="middle">progenitors</text>
<text x="859.6" y="1908.8" font-size="20.8" text-anchor="middle">5 Mm RPSCs/CP</text>
<text x="1067.7" y="1908.8" font-size="20.8" text-anchor="middle">6 Mm Bglia/astrocytes;</text>
<text x="1067.7" y="1929.7" font-size="20.8" text-anchor="middle">PFA GP-like</text>
<text x="1251.3" y="1908.8" font-size="20.8" text-anchor="middle">7 Mm CP</text>
<text x="1442.9" y="1908.8" font-size="20.8" text-anchor="middle">8 PFA GP-like/</text>
<text x="1442.9" y="1929.7" font-size="20.8" text-anchor="middle">immune-like</text>
<text x="1639.1" y="1908.8" font-size="20.8" text-anchor="middle">9 PFA hypoxic;</text>
<text x="1639.1" y="1929.7" font-size="20.8" text-anchor="middle">Mm CP</text>
<text x="1826.1" y="1908.8" font-size="20.8" text-anchor="middle">10 PFA ciliated/</text>
<text x="1826.1" y="1929.7" font-size="20.8" text-anchor="middle">GP-like</text>
<text x="2017.7" y="1908.8" font-size="20.8" text-anchor="middle">11 PPA ciliated</text>
<circle cx="101.70" cy="2022.50" r="73.39999999999999" fill="#7397C3"/>
<path d="M101.70 2022.50L165.18 1983.32A74.6 74.6 0 1 1 101.70 1947.90Z" fill="#7397C3"/>
<path d="M101.70 2022.50L157.35 1972.82A74.6 74.6 0 0 1 165.67 1984.12Z" fill="#00B1D8"/>
<path d="M101.70 2022.50L117.06 1949.50A74.6 74.6 0 0 1 157.97 1973.52Z" fill="#72AD22"/>
<path d="M101.70 2022.50L116.60 1949.40A74.6 74.6 0 0 1 117.97 1949.70Z" fill="#14C13C"/>
<path d="M101.70 2022.50L112.91 1948.75A74.6 74.6 0 0 1 117.52 1949.60Z" fill="#FF3AA9"/>
<path d="M101.70 2022.50L112.44 1948.68A74.6 74.6 0 0 1 113.83 1948.89Z" fill="#D872F6"/>
<path d="M101.70 2022.50L101.70 1947.90A74.6 74.6 0 0 1 113.37 1948.82Z" fill="#8C8C8C"/>
<circle cx="293.30" cy="2022.50" r="73.39999999999999" fill="#7397C3"/>
<path d="M293.30 2022.50L254.12 2085.98A74.6 74.6 0 0 1 293.30 1947.90Z" fill="#7397C3"/>
<path d="M293.30 2022.50L274.75 2094.76A74.6 74.6 0 0 1 253.33 2085.49Z" fill="#00B1D8"/>
<path d="M293.30 2022.50L325.91 2089.60A74.6 74.6 0 0 1 273.84 2094.52Z" fill="#72AD22"/>
<path d="M293.30 2022.50L337.53 2082.58A74.6 74.6 0 0 1 325.06 2090.00Z" fill="#14C13C"/>
<path d="M293.30 2022.50L344.02 2077.20A74.6 74.6 0 0 1 336.77 2083.13Z" fill="#FF3AA9"/>
<path d="M293.30 2022.50L345.05 2076.24A74.6 74.6 0 0 1 343.33 2077.83Z" fill="#D872F6"/>
<path d="M293.30 2022.50L293.30 1947.90A74.6 74.6 0 0 1 344.37 2076.88Z" fill="#8C8C8C"/>
<circle cx="484.90" cy="2022.50" r="73.39999999999999" fill="#7397C3"/>
<path d="M484.90 2022.50L417.80 1989.89A74.6 74.6 0 0 1 484.90 1947.90Z" fill="#7397C3"/>
<path d="M484.90 2022.50L442.58 2083.94A74.6 74.6 0 0 1 418.22 1989.05Z" fill="#00B1D8"/>
<path d="M484.90 2022.50L549.58 1985.34A74.6 74.6 0 0 1 441.81 2083.40Z" fill="#72AD22"/>
<path d="M484.90 2022.50L542.08 1974.59A74.6 74.6 0 0 1 550.05 1986.15Z" fill="#14C13C"/>
<path d="M484.90 2022.50L530.25 1963.27A74.6 74.6 0 0 1 542.68 1975.31Z" fill="#50E8C0"/>
<path d="M484.90 2022.50L524.87 1959.51A74.6 74.6 0 0 1 530.99 1963.84Z" fill="#D872F6"/>
<path d="M484.90 2022.50L484.90 1947.90A74.6 74.6 0 0 1 525.66 1960.02Z" fill="#8C8C8C"/>
<circle cx="676.50" cy="2022.50" r="73.39999999999999" fill="#7397C3"/>
<path d="M676.50 2022.50L662.06 1949.31A74.6 74.6 0 0 1 676.50 1947.90Z" fill="#7397C3"/>
<path d="M676.50 2022.50L735.16 1976.41A74.6 74.6 0 1 1 662.98 1949.13Z" fill="#00B1D8"/>
<path d="M676.50 2022.50L705.70 1953.85A74.6 74.6 0 0 1 735.73 1977.15Z" fill="#72AD22"/>
<path d="M676.50 2022.50L689.56 1949.05A74.6 74.6 0 0 1 706.56 1954.22Z" fill="#14C13C"/>
<path d="M676.50 2022.50L689.09 1948.97A74.6 74.6 0 0 1 690.48 1949.22Z" fill="#50E8C0"/>
<path d="M676.50 2022.50L687.71 1948.75A74.6 74.6 0 0 1 690.02 1949.13Z" fill="#D872F6"/>
<path d="M676.50 2022.50L676.50 1947.90A74.6 74.6 0 0 1 688.63 1948.89Z" fill="#8C8C8C"/>
<circle cx="868.10" cy="2022.50" r="73.39999999999999" fill="#7397C3"/>
<path d="M868.10 2022.50L860.15 1948.33A74.6 74.6 0 0 1 868.10 1947.90Z" fill="#7397C3"/>
<path d="M868.10 2022.50L859.22 1948.43A74.6 74.6 0 0 1 861.08 1948.23Z" fill="#72AD22"/>
<path d="M868.10 2022.50L934.57 1988.63A74.6 74.6 0 1 1 860.15 1948.33Z" fill="#FF3AA9"/>
<path d="M868.10 2022.50L868.57 1947.90A74.6 74.6 0 0 1 934.99 1989.47Z" fill="#D872F6"/>
<path d="M868.10 2022.50L868.10 1947.90A74.6 74.6 0 0 1 869.51 1947.91Z" fill="#8C8C8C"/>
<circle cx="1059.70" cy="2022.50" r="73.39999999999999" fill="#7397C3"/>
<path d="M1059.70 2022.50L1056.89 1947.95A74.6 74.6 0 0 1 1059.70 1947.90Z" fill="#7397C3"/>
<path d="M1059.70 2022.50L1055.48 1948.02A74.6 74.6 0 0 1 1057.83 1947.92Z" fill="#00B1D8"/>
<path d="M1059.70 2022.50L1049.42 1948.61A74.6 74.6 0 0 1 1056.42 1947.97Z" fill="#72AD22"/>
<path d="M1059.70 2022.50L1086.29 2092.20A74.6 74.6 0 1 1 1050.35 1948.49Z" fill="#14C13C"/>
<path d="M1059.70 2022.50L1127.98 1992.44A74.6 74.6 0 0 1 1085.41 2092.53Z" fill="#50E8C0"/>
<path d="M1059.70 2022.50L1127.59 1991.59A74.6 74.6 0 0 1 1128.35 1993.30Z" fill="#D872F6"/>
<path d="M1059.70 2022.50L1059.70 1947.90A74.6 74.6 0 0 1 1127.98 1992.44Z" fill="#8C8C8C"/>
<circle cx="1251.30" cy="2022.50" r="73.39999999999999" fill="#D872F6"/>
<path d="M1251.30 2022.50L1267.12 1949.60A74.6 74.6 0 1 1 1251.30 1947.90Z" fill="#D872F6"/>
<path d="M1251.30 2022.50L1251.30 1947.90A74.6 74.6 0 0 1 1268.03 1949.80Z" fill="#8C8C8C"/>
<circle cx="1442.90" cy="2022.50" r="73.39999999999999" fill="#7397C3"/>
<path d="M1442.90 2022.50L1439.62 1947.97A74.6 74.6 0 0 1 1442.90 1947.90Z" fill="#7397C3"/>
<path d="M1442.90 2022.50L1436.81 1948.15A74.6 74.6 0 0 1 1440.56 1947.94Z" fill="#00B1D8"/>
<path d="M1442.90 2022.50L1435.88 1948.23A74.6 74.6 0 0 1 1437.75 1948.08Z" fill="#72AD22"/>
<path d="M1442.90 2022.50L1433.09 1948.55A74.6 74.6 0 0 1 1436.81 1948.15Z" fill="#14C13C"/>
<path d="M1442.90 2022.50L1427.54 1949.50A74.6 74.6 0 0 1 1434.02 1948.43Z" fill="#50E8C0"/>
<path d="M1442.90 2022.50L1426.63 1949.70A74.6 74.6 0 0 1 1428.46 1949.31Z" fill="#FF3AA9"/>
<path d="M1442.90 2022.50L1426.17 1949.80A74.6 74.6 0 0 1 1427.54 1949.50Z" fill="#D872F6"/>
<path d="M1442.90 2022.50L1442.90 1947.90A74.6 74.6 0 1 1 1427.08 1949.60Z" fill="#8C8C8C"/>
<circle cx="1634.50" cy="2022.50" r="73.39999999999999" fill="#14C13C"/>
<path d="M1634.50 2022.50L1631.69 1947.95A74.6 74.6 0 0 1 1634.50 1947.90Z" fill="#14C13C"/>
<path d="M1634.50 2022.50L1630.75 1947.99A74.6 74.6 0 0 1 1632.63 1947.92Z" fill="#50E8C0"/>
<path d="M1634.50 2022.50L1560.38 2014.08A74.6 74.6 0 0 1 1631.69 1947.95Z" fill="#FF3AA9"/>
<path d="M1634.50 2022.50L1638.72 2096.98A74.6 74.6 0 0 1 1560.49 2013.15Z" fill="#D872F6"/>
<path d="M1634.50 2022.50L1634.50 1947.90A74.6 74.6 0 0 1 1637.78 2097.03Z" fill="#8C8C8C"/>
<circle cx="1826.10" cy="2022.50" r="73.39999999999999" fill="#50E8C0"/>
<path d="M1826.10 2022.50L1807.77 1950.19A74.6 74.6 0 0 1 1826.10 1947.90Z" fill="#50E8C0"/>
<path d="M1826.10 2022.50L1790.57 1956.90A74.6 74.6 0 0 1 1808.68 1949.96Z" fill="#D872F6"/>
<path d="M1826.10 2022.50L1826.10 1947.90A74.6 74.6 0 1 1 1791.40 1956.46Z" fill="#8C8C8C"/>
<circle cx="2017.70" cy="2022.50" r="73.39999999999999" fill="#7397C3"/>
<path d="M2017.70 2022.50L2015.36 1947.94A74.6 74.6 0 0 1 2017.70 1947.90Z" fill="#7397C3"/>
<path d="M2017.70 2022.50L1990.24 1953.14A74.6 74.6 0 0 1 2016.29 1947.91Z" fill="#D872F6"/>
<path d="M2017.70 2022.50L2017.70 1947.90A74.6 74.6 0 1 1 1991.11 1952.80Z" fill="#8C8C8C"/>
<text x="385.7" y="2142.2" font-size="24.9">Original glial clusters</text>
<rect x="652.9" y="2120.9" width="29.4" height="29.2" fill="#7397C3"/>
<text x="706.9" y="2142.2" font-size="24.9">1 NSCs</text>
<rect x="652.9" y="2166.7" width="29.4" height="29.2" fill="#00B1D8"/>
<text x="706.9" y="2188.0" font-size="24.9">2 VZ progenitors</text>
<rect x="918.6" y="2120.9" width="29.4" height="29.2" fill="#72AD22"/>
<text x="971.8" y="2142.2" font-size="24.9">3 Gliogenic progenitors</text>
<rect x="918.6" y="2166.7" width="29.4" height="29.2" fill="#14C13C"/>
<text x="971.8" y="2188.0" font-size="24.9">4 Bergmann glia</text>
<rect x="1267.7" y="2120.9" width="29.4" height="29.2" fill="#50E8C0"/>
<text x="1321.5" y="2142.2" font-size="24.9">5 Astrocytes</text>
<rect x="1267.7" y="2166.7" width="29.4" height="29.2" fill="#FF3AA9"/>
<text x="1321.5" y="2188.0" font-size="24.9">6 RPSCs</text>
<rect x="1492.7" y="2120.9" width="29.4" height="29.2" fill="#D872F6"/>
<text x="1546.6" y="2142.2" font-size="24.9">7 Choroid plexus</text>
<rect x="1492.7" y="2166.7" width="29.4" height="29.2" fill="#8C8C8C"/>
<text x="1546.6" y="2188.0" font-size="24.9">PFA tumor</text>
<text x="0.0" y="2264.3" font-size="33" font-weight="bold">i</text>
<text x="101.7" y="2261.7" font-size="20.8" text-anchor="middle">1 Mm NSCs</text>
<text x="293.3" y="2261.7" font-size="20.8" text-anchor="middle">2 Mm NSCs/GPs;</text>
<text x="293.3" y="2282.6" font-size="20.8" text-anchor="middle">PFA cycling</text>
<text x="489.4" y="2261.7" font-size="20.8" text-anchor="middle">3 Mm NSCs/GPs;</text>
<text x="489.4" y="2282.6" font-size="20.8" text-anchor="middle">PFA GP-like</text>
<text x="676.5" y="2261.7" font-size="20.8" text-anchor="middle">4 Mm VZ</text>
<text x="676.5" y="2282.6" font-size="20.8" text-anchor="middle">progenitors</text>
<text x="859.6" y="2261.7" font-size="20.8" text-anchor="middle">5 Mm RPSCs/CP</text>
<text x="1067.7" y="2261.7" font-size="20.8" text-anchor="middle">6 Mm Bglia/astrocytes;</text>
<text x="1067.7" y="2282.6" font-size="20.8" text-anchor="middle">PFA GP-like</text>
<text x="1251.3" y="2261.7" font-size="20.8" text-anchor="middle">7 Mm CP</text>
<text x="1442.9" y="2261.7" font-size="20.8" text-anchor="middle">8 PFA GP-like/</text>
<text x="1442.9" y="2282.6" font-size="20.8" text-anchor="middle">immune-like</text>
<text x="1639.1" y="2261.7" font-size="20.8" text-anchor="middle">9 PFA hypoxic;</text>
<text x="1639.1" y="2282.6" font-size="20.8" text-anchor="middle">Mm CP</text>
<text x="1826.1" y="2261.7" font-size="20.8" text-anchor="middle">10 PFA ciliated/</text>
<text x="1826.1" y="2282.6" font-size="20.8" text-anchor="middle">GP-like</text>
<text x="2017.7" y="2261.7" font-size="20.8" text-anchor="middle">11 PPA ciliated</text>
<circle cx="101.70" cy="2375.30" r="73.39999999999999" fill="#2F6393"/>
<path d="M101.70 2375.30L97.48 2300.82A74.6 74.6 0 0 1 101.70 2300.70Z" fill="#2F6393"/>
<path d="M101.70 2375.30L94.68 2301.03A74.6 74.6 0 0 1 98.42 2300.77Z" fill="#96C0D3"/>
<path d="M101.70 2375.30L88.64 2301.85A74.6 74.6 0 0 1 95.61 2300.95Z" fill="#A0CF5A"/>
<path d="M101.70 2375.30L88.41 2301.89A74.6 74.6 0 0 1 89.57 2301.69Z" fill="#5F8B69"/>
<path d="M101.70 2375.30L87.72 2302.02A74.6 74.6 0 0 1 89.34 2301.73Z" fill="#D8BBDA"/>
<path d="M101.70 2375.30L101.70 2300.70A74.6 74.6 0 1 1 88.64 2301.85Z" fill="#8C8C8C"/>
<circle cx="293.30" cy="2375.30" r="73.39999999999999" fill="#96C0D3"/>
<path d="M293.30 2375.30L273.39 2303.41A74.6 74.6 0 0 1 293.30 2300.70Z" fill="#96C0D3"/>
<path d="M293.30 2375.30L219.35 2385.11A74.6 74.6 0 0 1 274.29 2303.16Z" fill="#A0CF5A"/>
<path d="M293.30 2375.30L220.20 2390.20A74.6 74.6 0 0 1 219.23 2384.18Z" fill="#5F8B69"/>
<path d="M293.30 2375.30L232.67 2418.77A74.6 74.6 0 0 1 220.02 2389.28Z" fill="#B07AA3"/>
<path d="M293.30 2375.30L241.55 2429.04A74.6 74.6 0 0 1 232.13 2418.00Z" fill="#D8BBDA"/>
<path d="M293.30 2375.30L293.30 2300.70A74.6 74.6 0 1 1 240.88 2428.38Z" fill="#8C8C8C"/>
<circle cx="484.90" cy="2375.30" r="73.39999999999999" fill="#2F6393"/>
<path d="M484.90 2375.30L483.03 2300.72A74.6 74.6 0 0 1 484.90 2300.70Z" fill="#2F6393"/>
<path d="M484.90 2375.30L481.15 2300.79A74.6 74.6 0 0 1 483.96 2300.71Z" fill="#96C0D3"/>
<path d="M484.90 2375.30L452.71 2308.00A74.6 74.6 0 0 1 482.09 2300.75Z" fill="#A0CF5A"/>
<path d="M484.90 2375.30L446.93 2311.09A74.6 74.6 0 0 1 453.56 2307.60Z" fill="#5F8B69"/>
<path d="M484.90 2375.30L442.58 2313.86A74.6 74.6 0 0 1 447.74 2310.62Z" fill="#B07AA3"/>
<path d="M484.90 2375.30L441.81 2314.40A74.6 74.6 0 0 1 443.36 2313.34Z" fill="#D8BBDA"/>
<path d="M484.90 2375.30L484.90 2300.70A74.6 74.6 0 1 1 442.58 2313.86Z" fill="#8C8C8C"/>
<circle cx="676.50" cy="2375.30" r="73.39999999999999" fill="#2F6393"/>
<path d="M676.50 2375.30L670.65 2300.93A74.6 74.6 0 0 1 676.50 2300.70Z" fill="#2F6393"/>
<path d="M676.50 2375.30L670.41 2300.95A74.6 74.6 0 0 1 671.58 2300.86Z" fill="#96C0D3"/>
<path d="M676.50 2375.30L663.91 2301.77A74.6 74.6 0 0 1 671.35 2300.88Z" fill="#A0CF5A"/>
<path d="M676.50 2375.30L663.44 2301.85A74.6 74.6 0 0 1 664.83 2301.62Z" fill="#5F8B69"/>
<path d="M676.50 2375.30L676.50 2300.70A74.6 74.6 0 1 1 664.37 2301.69Z" fill="#8C8C8C"/>
<circle cx="868.10" cy="2375.30" r="73.39999999999999" fill="#96C0D3"/>
<path d="M868.10 2375.30L866.69 2300.71A74.6 74.6 0 0 1 868.10 2300.70Z" fill="#96C0D3"/>
<path d="M868.10 2375.30L865.29 2300.75A74.6 74.6 0 0 1 867.63 2300.70Z" fill="#A0CF5A"/>
<path d="M868.10 2375.30L864.82 2300.77A74.6 74.6 0 0 1 866.23 2300.72Z" fill="#5F8B69"/>
<path d="M868.10 2375.30L868.10 2300.70A74.6 74.6 0 1 1 865.76 2300.74Z" fill="#8C8C8C"/>
<circle cx="1059.70" cy="2375.30" r="73.39999999999999" fill="#96C0D3"/>
<path d="M1059.70 2375.30L1055.95 2300.79A74.6 74.6 0 0 1 1059.70 2300.70Z" fill="#96C0D3"/>
<path d="M1059.70 2375.30L1009.32 2320.28A74.6 74.6 0 0 1 1056.89 2300.75Z" fill="#A0CF5A"/>
<path d="M1059.70 2375.30L1001.92 2328.11A74.6 74.6 0 0 1 1010.02 2319.65Z" fill="#5F8B69"/>
<path d="M1059.70 2375.30L992.20 2343.54A74.6 74.6 0 0 1 1002.52 2327.39Z" fill="#B07AA3"/>
<path d="M1059.70 2375.30L991.42 2345.24A74.6 74.6 0 0 1 992.60 2342.69Z" fill="#D8BBDA"/>
<path d="M1059.70 2375.30L1059.70 2300.70A74.6 74.6 0 1 1 991.81 2344.39Z" fill="#8C8C8C"/>
<circle cx="1251.30" cy="2375.30" r="73.39999999999999" fill="#A0CF5A"/>
<path d="M1251.30 2375.30L1249.43 2300.72A74.6 74.6 0 0 1 1251.30 2300.70Z" fill="#A0CF5A"/>
<path d="M1251.30 2375.30L1248.96 2300.74A74.6 74.6 0 0 1 1250.36 2300.71Z" fill="#5F8B69"/>
<path d="M1251.30 2375.30L1235.03 2302.50A74.6 74.6 0 0 1 1249.89 2300.71Z" fill="#B07AA3"/>
<path d="M1251.30 2375.30L1234.11 2302.71A74.6 74.6 0 0 1 1235.94 2302.30Z" fill="#D8BBDA"/>
<path d="M1251.30 2375.30L1251.30 2300.70A74.6 74.6 0 1 1 1235.03 2302.50Z" fill="#8C8C8C"/>
<circle cx="1442.90" cy="2375.30" r="73.39999999999999" fill="#96C0D3"/>
<path d="M1442.90 2375.30L1432.62 2301.41A74.6 74.6 0 0 1 1442.90 2300.70Z" fill="#96C0D3"/>
<path d="M1442.90 2375.30L1405.33 2439.75A74.6 74.6 0 0 1 1433.55 2301.29Z" fill="#A0CF5A"/>
<path d="M1442.90 2375.30L1502.42 2420.28A74.6 74.6 0 0 1 1404.52 2439.27Z" fill="#5F8B69"/>
<path d="M1442.90 2375.30L1516.35 2388.36A74.6 74.6 0 0 1 1501.85 2421.02Z" fill="#B07AA3"/>
<path d="M1442.90 2375.30L1460.09 2302.71A74.6 74.6 0 0 1 1516.18 2389.28Z" fill="#D8BBDA"/>
<path d="M1442.90 2375.30L1442.90 2300.70A74.6 74.6 0 0 1 1461.00 2302.93Z" fill="#8C8C8C"/>
<circle cx="1634.50" cy="2375.30" r="73.39999999999999" fill="#96C0D3"/>
<path d="M1634.50 2375.30L1632.16 2300.74A74.6 74.6 0 0 1 1634.50 2300.70Z" fill="#96C0D3"/>
<path d="M1634.50 2375.30L1574.15 2331.45A74.6 74.6 0 0 1 1633.09 2300.71Z" fill="#A0CF5A"/>
<path d="M1634.50 2375.30L1584.12 2430.32A74.6 74.6 0 0 1 1574.70 2330.70Z" fill="#5F8B69"/>
<path d="M1634.50 2375.30L1630.28 2449.78A74.6 74.6 0 0 1 1583.43 2429.68Z" fill="#B07AA3"/>
<path d="M1634.50 2375.30L1632.63 2449.88A74.6 74.6 0 0 1 1629.35 2449.72Z" fill="#D8BBDA"/>
<path d="M1634.50 2375.30L1634.50 2300.70A74.6 74.6 0 1 1 1631.69 2449.85Z" fill="#8C8C8C"/>
<circle cx="1826.10" cy="2375.30" r="73.39999999999999" fill="#A0CF5A"/>
<path d="M1826.10 2375.30L1774.69 2321.24A74.6 74.6 0 0 1 1826.10 2300.70Z" fill="#A0CF5A"/>
<path d="M1826.10 2375.30L1772.04 2323.89A74.6 74.6 0 0 1 1775.38 2320.60Z" fill="#5F8B69"/>
<path d="M1826.10 2375.30L1862.45 2310.15A74.6 74.6 0 1 1 1772.69 2323.22Z" fill="#B07AA3"/>
<path d="M1826.10 2375.30L1861.21 2309.48A74.6 74.6 0 0 1 1863.26 2310.62Z" fill="#D8BBDA"/>
<path d="M1826.10 2375.30L1826.10 2300.70A74.6 74.6 0 0 1 1862.04 2309.93Z" fill="#8C8C8C"/>
<circle cx="2017.70" cy="2375.30" r="73.39999999999999" fill="#A0CF5A"/>
<path d="M2017.70 2375.30L2006.03 2301.62A74.6 74.6 0 0 1 2017.70 2300.70Z" fill="#A0CF5A"/>
<path d="M2017.70 2375.30L2051.57 2308.83A74.6 74.6 0 1 1 2006.96 2301.48Z" fill="#B07AA3"/>
<path d="M2017.70 2375.30L2043.85 2305.43A74.6 74.6 0 0 1 2052.40 2309.26Z" fill="#D8BBDA"/>
<path d="M2017.70 2375.30L2017.70 2300.70A74.6 74.6 0 0 1 2044.73 2305.77Z" fill="#8C8C8C"/>
<text x="216.5" y="2494.5" font-size="24.9">Original tumor clusters</text>
<rect x="490.0" y="2473.8" width="29.6" height="29.3" fill="#2F6393"/>
<text x="544.0" y="2495.1" font-size="24.9">1.Neural stem cell−like tumor</text>
<rect x="490.0" y="2520.0" width="29.6" height="29.3" fill="#96C0D3"/>
<text x="544.0" y="2541.3" font-size="24.9">2.Cycling tumor</text>
<rect x="889.1" y="2473.8" width="29.6" height="29.3" fill="#A0CF5A"/>
<text x="943.6" y="2495.1" font-size="24.9">3.Gliogenic progenitor−like tumor</text>
<rect x="889.1" y="2515.3" width="29.6" height="29.3" fill="#5F8B69"/>
<text x="943.6" y="2536.6" font-size="24.9">4.Hypoxic tumor</text>
<rect x="1333.5" y="2474.0" width="29.6" height="29.3" fill="#B07AA3"/>
<text x="1387.4" y="2495.3" font-size="24.9">5.Ciliated tumor</text>
<rect x="1333.5" y="2526.9" width="29.6" height="29.3" fill="#D8BBDA"/>
<text x="1387.4" y="2548.2" font-size="24.9">6.Immune−like tumor</text>
<rect x="1635.8" y="2474.0" width="29.6" height="29.3" fill="#8C8C8C"/>
<text x="1689.6" y="2495.3" font-size="24.9">Mouse glial lineage</text>
</svg>
</body></html>
